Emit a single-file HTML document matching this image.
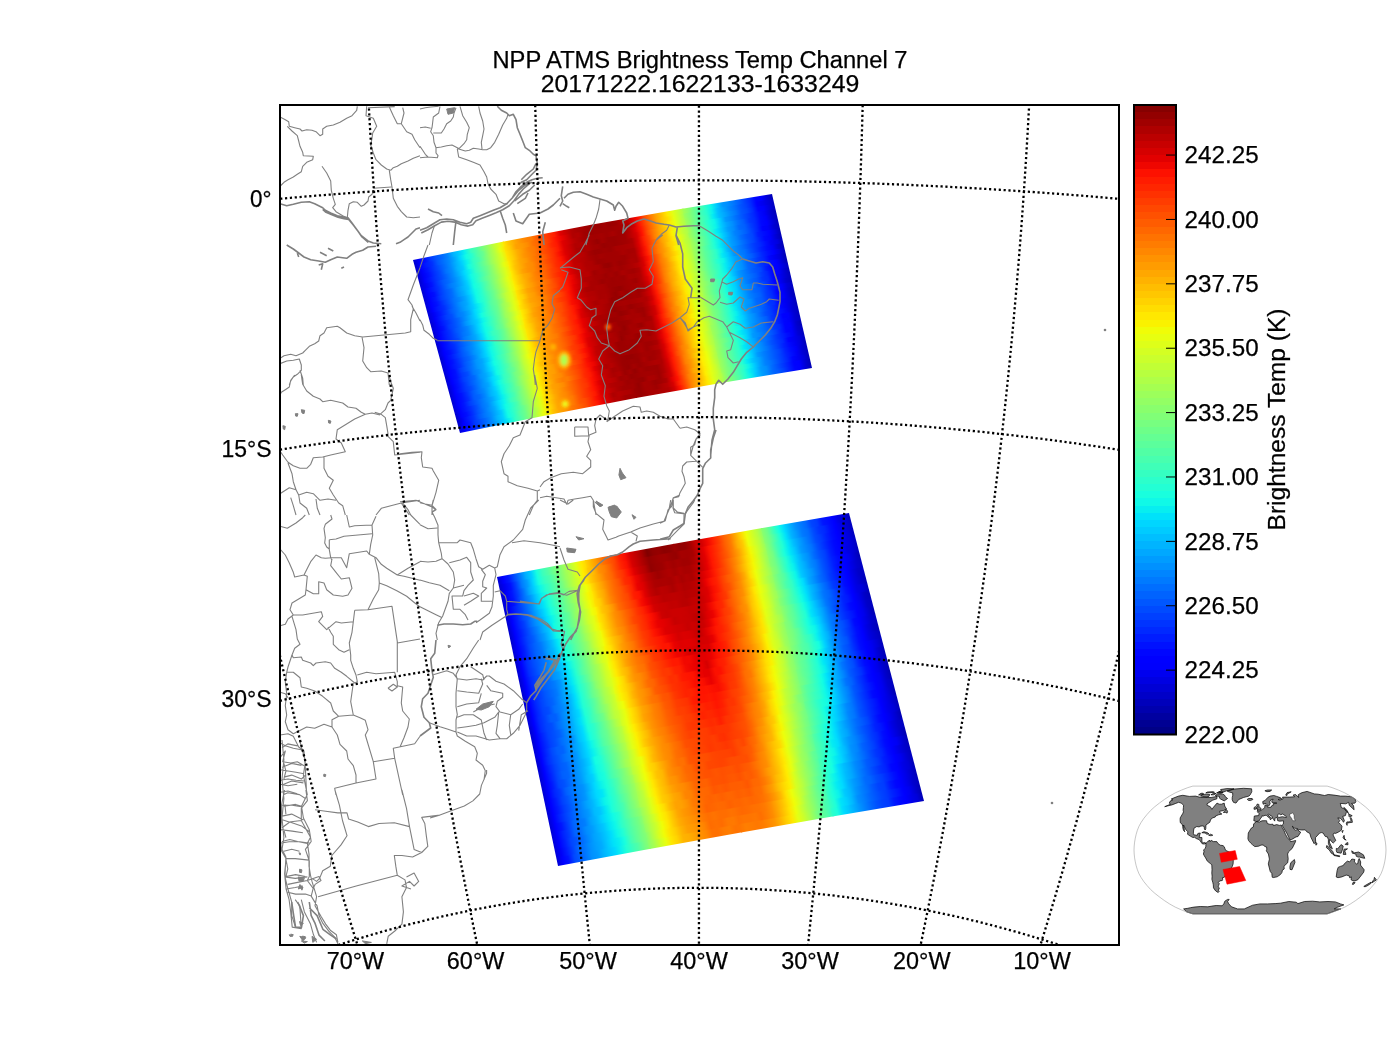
<!DOCTYPE html><html><head><meta charset="utf-8"><style>html,body{margin:0;padding:0;background:#fff;width:1400px;height:1050px;overflow:hidden;position:relative}svg{display:block;position:absolute;left:0;top:0}text{font-family:"Liberation Sans",sans-serif;fill:#000;stroke:#000;stroke-width:0.25px}</style></head><body>
<div style="position:absolute;left:0;top:0;width:160px;height:216px;transform-origin:0 0;transform:matrix3d(0.57036544,-0.11540287,0,3.8256606e-06,0.25928207,0.84016841,0,9.0629303e-05,0,0,1,0,413,260,0,1)"><div style="height:6px;background:linear-gradient(90deg,#0000cc 0.0%,#0000fc 6.2%,#0011ff 12.5%,#0037ff 18.8%,#0055ff 25.0%,#0069ff 31.2%,#0085ff 37.5%,#00b4ff 43.8%,#00ceff 50.0%,#0af2ed 56.2%,#34ffc2 62.5%,#4dffa9 68.8%,#72ff84 75.0%,#93ff64 81.2%,#bcff3b 87.5%,#dcff1b 93.8%,#ffe800 100.0%)"></div><div style="height:6px;background:linear-gradient(90deg,#0000c9 0.0%,#0000ff 6.2%,#001cff 12.5%,#002fff 18.8%,#0058ff 25.0%,#006fff 31.2%,#0088ff 37.5%,#00abff 43.8%,#00d7ff 50.0%,#13fce4 56.2%,#28ffcf 62.5%,#4fffa7 68.8%,#68ff8f 75.0%,#96ff60 81.2%,#b8ff3f 87.5%,#e6ff11 93.8%,#ffe200 100.0%)"></div><div style="height:6px;background:linear-gradient(90deg,#0000cc 0.0%,#0000fb 6.2%,#0015ff 12.5%,#0033ff 18.8%,#0051ff 25.0%,#006dff 31.2%,#008bff 37.5%,#00b0ff 43.8%,#00cfff 50.0%,#0cf4eb 56.2%,#31ffc5 62.5%,#48ffaf 68.8%,#6fff88 75.0%,#97ff60 81.2%,#b8ff3f 87.5%,#ddff1a 93.8%,#ffe500 100.0%)"></div><div style="height:6px;background:linear-gradient(90deg,#0000d1 0.0%,#0000f8 6.2%,#0011ff 12.5%,#0031ff 18.8%,#004cff 25.0%,#0072ff 31.2%,#008aff 37.5%,#00b4ff 43.8%,#00cbff 50.0%,#13fde4 56.2%,#30ffc6 62.5%,#53ffa3 68.8%,#73ff84 75.0%,#99ff5e 81.2%,#bbff3c 87.5%,#daff1d 93.8%,#ffe600 100.0%)"></div><div style="height:6px;background:linear-gradient(90deg,#0000ca 0.0%,#0000fd 6.2%,#0017ff 12.5%,#0034ff 18.8%,#004cff 25.0%,#006bff 31.2%,#008bff 37.5%,#00b0ff 43.8%,#00d7ff 50.0%,#0cf4eb 56.2%,#32ffc5 62.5%,#50ffa7 68.8%,#6dff8a 75.0%,#92ff65 81.2%,#baff3d 87.5%,#e3ff13 93.8%,#ffeb00 100.0%)"></div><div style="height:6px;background:linear-gradient(90deg,#0000d9 0.0%,#0000f4 6.2%,#0011ff 12.5%,#0037ff 18.8%,#0058ff 25.0%,#006cff 31.2%,#0088ff 37.5%,#00aaff 43.8%,#00d4ff 50.0%,#11fbe6 56.2%,#2cffca 62.5%,#4cffab 68.8%,#6dff8a 75.0%,#92ff65 81.2%,#b9ff3e 87.5%,#dbff1c 93.8%,#ffea00 100.0%)"></div><div style="height:6px;background:linear-gradient(90deg,#0000d0 0.0%,#0000ff 6.2%,#0019ff 12.5%,#0034ff 18.8%,#0057ff 25.0%,#0078ff 31.2%,#008dff 37.5%,#00aaff 43.8%,#00ceff 50.0%,#10fae6 56.2%,#30ffc7 62.5%,#54ffa3 68.8%,#73ff84 75.0%,#90ff67 81.2%,#b6ff41 87.5%,#ddff19 93.8%,#fdee00 100.0%)"></div><div style="height:6px;background:linear-gradient(90deg,#0000d4 0.0%,#0000fd 6.2%,#000eff 12.5%,#0038ff 18.8%,#0055ff 25.0%,#006bff 31.2%,#0094ff 37.5%,#00b1ff 43.8%,#00ccff 50.0%,#13fde3 56.2%,#29ffce 62.5%,#4cffab 68.8%,#71ff86 75.0%,#95ff62 81.2%,#bbff3c 87.5%,#e3ff14 93.8%,#ffea00 100.0%)"></div><div style="height:6px;background:linear-gradient(90deg,#0000d2 0.0%,#0000fd 6.2%,#0016ff 12.5%,#003dff 18.8%,#0056ff 25.0%,#006dff 31.2%,#0093ff 37.5%,#00aeff 43.8%,#00d4ff 50.0%,#11fae6 56.2%,#27ffd0 62.5%,#51ffa5 68.8%,#70ff87 75.0%,#93ff63 81.2%,#baff3c 87.5%,#e0ff17 93.8%,#fdee00 100.0%)"></div><div style="height:6px;background:linear-gradient(90deg,#0000d8 0.0%,#0000ff 6.2%,#0011ff 12.5%,#0034ff 18.8%,#0053ff 25.0%,#0072ff 31.2%,#0089ff 37.5%,#00a6ff 43.8%,#00ceff 50.0%,#11fbe5 56.2%,#29ffce 62.5%,#4dffa9 68.8%,#6aff8d 75.0%,#90ff67 81.2%,#b6ff41 87.5%,#dfff17 93.8%,#fdef00 100.0%)"></div><div style="height:6px;background:linear-gradient(90deg,#0000d6 0.0%,#0000ff 6.2%,#001bff 12.5%,#002eff 18.8%,#0050ff 25.0%,#0072ff 31.2%,#0095ff 37.5%,#00a8ff 43.8%,#00cfff 50.0%,#12fce5 56.2%,#29ffce 62.5%,#4cffaa 68.8%,#6cff8b 75.0%,#96ff61 81.2%,#c0ff37 87.5%,#dcff1a 93.8%,#ffe600 100.0%)"></div><div style="height:6px;background:linear-gradient(90deg,#0000d9 0.0%,#0000f6 6.2%,#0015ff 12.5%,#0034ff 18.8%,#0057ff 25.0%,#0072ff 31.2%,#0092ff 37.5%,#00afff 43.8%,#00cdff 50.0%,#09f1ed 56.2%,#28ffcf 62.5%,#52ffa5 68.8%,#69ff8e 75.0%,#8dff69 81.2%,#c0ff37 87.5%,#ddff1a 93.8%,#ffe400 100.0%)"></div><div style="height:6px;background:linear-gradient(90deg,#0000d6 0.0%,#0000fa 6.2%,#001cff 12.5%,#003dff 18.8%,#004fff 25.0%,#0077ff 31.2%,#0088ff 37.5%,#00a8ff 43.8%,#00d6ff 50.0%,#0bf3ec 56.2%,#2effc9 62.5%,#50ffa7 68.8%,#68ff8f 75.0%,#97ff60 81.2%,#b7ff40 87.5%,#e0ff17 93.8%,#ffec00 100.0%)"></div><div style="height:6px;background:linear-gradient(90deg,#0000cd 0.0%,#0000f7 6.2%,#0019ff 12.5%,#0034ff 18.8%,#004fff 25.0%,#0069ff 31.2%,#008cff 37.5%,#00b1ff 43.8%,#00d5ff 50.0%,#13fde4 56.2%,#32ffc5 62.5%,#4bffac 68.8%,#69ff8e 75.0%,#97ff60 81.2%,#beff39 87.5%,#e1ff16 93.8%,#ffe500 100.0%)"></div><div style="height:6px;background:linear-gradient(90deg,#0000d8 0.0%,#0000f6 6.2%,#0012ff 12.5%,#003bff 18.8%,#0050ff 25.0%,#006cff 31.2%,#0095ff 37.5%,#00b6ff 43.8%,#00cfff 50.0%,#0cf5eb 56.2%,#2bffcc 62.5%,#49ffae 68.8%,#6bff8c 75.0%,#9aff5d 81.2%,#b5ff42 87.5%,#ddff1a 93.8%,#fdee00 100.0%)"></div><div style="height:6px;background:linear-gradient(90deg,#0000cc 0.0%,#0000f9 6.2%,#001bff 12.5%,#0035ff 18.8%,#0056ff 25.0%,#006dff 31.2%,#0086ff 37.5%,#00acff 43.8%,#00d6ff 50.0%,#11fbe5 56.2%,#2fffc8 62.5%,#4dffa9 68.8%,#6fff88 75.0%,#93ff64 81.2%,#bbff3c 87.5%,#e5ff12 93.8%,#fdee00 100.0%)"></div><div style="height:6px;background:linear-gradient(90deg,#0000d1 0.0%,#0000ff 6.2%,#001cff 12.5%,#0036ff 18.8%,#0052ff 25.0%,#0072ff 31.2%,#0086ff 37.5%,#00adff 43.8%,#00d8ff 50.0%,#11fbe5 56.2%,#28ffcf 62.5%,#53ffa4 68.8%,#6cff8a 75.0%,#9aff5d 81.2%,#b8ff3e 87.5%,#ddff1a 93.8%,#ffe900 100.0%)"></div><div style="height:6px;background:linear-gradient(90deg,#0000cf 0.0%,#0000fe 6.2%,#0016ff 12.5%,#0035ff 18.8%,#004cff 25.0%,#0078ff 31.2%,#0090ff 37.5%,#00a8ff 43.8%,#00d1ff 50.0%,#11fbe6 56.2%,#34ffc3 62.5%,#48ffaf 68.8%,#68ff8f 75.0%,#93ff63 81.2%,#b9ff3e 87.5%,#e6ff11 93.8%,#ffe500 100.0%)"></div><div style="height:6px;background:linear-gradient(90deg,#0000ce 0.0%,#0000ff 6.2%,#0019ff 12.5%,#002eff 18.8%,#0051ff 25.0%,#006eff 31.2%,#0088ff 37.5%,#00aaff 43.8%,#00cfff 50.0%,#10fae7 56.2%,#2cffcb 62.5%,#49ffae 68.8%,#6aff8c 75.0%,#93ff64 81.2%,#bbff3c 87.5%,#ddff19 93.8%,#ffe700 100.0%)"></div><div style="height:6px;background:linear-gradient(90deg,#0000d7 0.0%,#0000ff 6.2%,#0010ff 12.5%,#002eff 18.8%,#0056ff 25.0%,#0074ff 31.2%,#008bff 37.5%,#00aeff 43.8%,#00d3ff 50.0%,#0af2ec 56.2%,#30ffc6 62.5%,#4fffa8 68.8%,#6dff8a 75.0%,#8eff68 81.2%,#bbff3c 87.5%,#deff18 93.8%,#ffe600 100.0%)"></div><div style="height:6px;background:linear-gradient(90deg,#0000ce 0.0%,#0000ff 6.2%,#0018ff 12.5%,#0036ff 18.8%,#0056ff 25.0%,#006fff 31.2%,#0092ff 37.5%,#00abff 43.8%,#00d3ff 50.0%,#0ff8e8 56.2%,#2cffca 62.5%,#48ffaf 68.8%,#6aff8d 75.0%,#95ff61 81.2%,#b6ff40 87.5%,#e4ff13 93.8%,#ffea00 100.0%)"></div><div style="height:6px;background:linear-gradient(90deg,#0000d0 0.0%,#0000ff 6.2%,#0011ff 12.5%,#0031ff 18.8%,#0052ff 25.0%,#0069ff 31.2%,#008aff 37.5%,#00b0ff 43.8%,#00d3ff 50.0%,#0ff8e8 56.2%,#2bffcc 62.5%,#48ffaf 68.8%,#68ff8f 75.0%,#91ff65 81.2%,#b6ff41 87.5%,#e2ff15 93.8%,#feed00 100.0%)"></div><div style="height:6px;background:linear-gradient(90deg,#0000d6 0.0%,#0000fc 6.2%,#0016ff 12.5%,#002fff 18.8%,#0056ff 25.0%,#0070ff 31.2%,#0095ff 37.5%,#00a6ff 43.8%,#00cbff 50.0%,#10f9e7 56.2%,#33ffc3 62.5%,#4dffaa 68.8%,#71ff86 75.0%,#94ff62 81.2%,#b9ff3e 87.5%,#e0ff17 93.8%,#ffe800 100.0%)"></div><div style="height:6px;background:linear-gradient(90deg,#0000d5 0.0%,#0000ff 6.2%,#000fff 12.5%,#003cff 18.8%,#0058ff 25.0%,#0074ff 31.2%,#0095ff 37.5%,#00a9ff 43.8%,#00d7ff 50.0%,#13fde4 56.2%,#29ffce 62.5%,#4fffa8 68.8%,#74ff83 75.0%,#91ff66 81.2%,#bfff38 87.5%,#e6ff11 93.8%,#ffeb00 100.0%)"></div><div style="height:6px;background:linear-gradient(90deg,#0000cb 0.0%,#0000ff 6.2%,#0011ff 12.5%,#0038ff 18.8%,#004cff 25.0%,#0077ff 31.2%,#008cff 37.5%,#00acff 43.8%,#00d5ff 50.0%,#0ff8e8 56.2%,#2affcc 62.5%,#49ffae 68.8%,#6fff88 75.0%,#8dff69 81.2%,#bfff38 87.5%,#dfff18 93.8%,#fdef00 100.0%)"></div><div style="height:6px;background:linear-gradient(90deg,#0000d6 0.0%,#0000ff 6.2%,#0016ff 12.5%,#003cff 18.8%,#0054ff 25.0%,#0069ff 31.2%,#0094ff 37.5%,#00a8ff 43.8%,#00ccff 50.0%,#12fce5 56.2%,#2bffcc 62.5%,#50ffa7 68.8%,#68ff8f 75.0%,#90ff67 81.2%,#bdff3a 87.5%,#dbff1c 93.8%,#ffea00 100.0%)"></div><div style="height:6px;background:linear-gradient(90deg,#0000d3 0.0%,#0000fb 6.2%,#0016ff 12.5%,#0037ff 18.8%,#0055ff 25.0%,#0070ff 31.2%,#008eff 37.5%,#00aeff 43.8%,#00d8ff 50.0%,#0af1ed 56.2%,#32ffc5 62.5%,#4bffac 68.8%,#73ff84 75.0%,#8eff69 81.2%,#baff3d 87.5%,#e0ff17 93.8%,#ffe700 100.0%)"></div><div style="height:6px;background:linear-gradient(90deg,#0000cc 0.0%,#0000ff 6.2%,#0019ff 12.5%,#0037ff 18.8%,#004dff 25.0%,#006fff 31.2%,#0091ff 37.5%,#00a7ff 43.8%,#00d9ff 50.0%,#12fce5 56.2%,#33ffc3 62.5%,#51ffa6 68.8%,#70ff87 75.0%,#9aff5d 81.2%,#b7ff40 87.5%,#deff19 93.8%,#fcef00 100.0%)"></div><div style="height:6px;background:linear-gradient(90deg,#0000d2 0.0%,#0000ff 6.2%,#0011ff 12.5%,#0032ff 18.8%,#0059ff 25.0%,#0073ff 31.2%,#008bff 37.5%,#00b0ff 43.8%,#00d1ff 50.0%,#10f9e7 56.2%,#2effc9 62.5%,#4bffac 68.8%,#74ff82 75.0%,#99ff5e 81.2%,#beff39 87.5%,#deff19 93.8%,#fdee00 100.0%)"></div><div style="height:6px;background:linear-gradient(90deg,#0000ce 0.0%,#0000ff 6.2%,#0012ff 12.5%,#002fff 18.8%,#005bff 25.0%,#0069ff 31.2%,#0089ff 37.5%,#00b3ff 43.8%,#00ccff 50.0%,#0ef7e9 56.2%,#32ffc4 62.5%,#4fffa8 68.8%,#6cff8b 75.0%,#97ff60 81.2%,#beff38 87.5%,#e2ff15 93.8%,#ffe800 100.0%)"></div><div style="height:6px;background:linear-gradient(90deg,#0000d7 0.0%,#0000ff 6.2%,#0015ff 12.5%,#003cff 18.8%,#0056ff 25.0%,#0071ff 31.2%,#008cff 37.5%,#00a7ff 43.8%,#00ccff 50.0%,#0af2ec 56.2%,#2dffca 62.5%,#49ffae 68.8%,#74ff83 75.0%,#95ff62 81.2%,#bdff3a 87.5%,#e6ff11 93.8%,#fdee00 100.0%)"></div><div style="height:6px;background:linear-gradient(90deg,#0000d2 0.0%,#0000fd 6.2%,#0016ff 12.5%,#0030ff 18.8%,#004fff 25.0%,#0073ff 31.2%,#0089ff 37.5%,#00b1ff 43.8%,#00daff 50.0%,#0cf5eb 56.2%,#34ffc3 62.5%,#4fffa7 68.8%,#74ff83 75.0%,#94ff63 81.2%,#bdff39 87.5%,#e3ff14 93.8%,#fdee00 100.0%)"></div><div style="height:6px;background:linear-gradient(90deg,#0000c9 0.0%,#0000fd 6.2%,#000fff 12.5%,#002eff 18.8%,#0053ff 25.0%,#0070ff 31.2%,#008fff 37.5%,#00acff 43.8%,#00d9ff 50.0%,#11fbe5 56.2%,#29ffce 62.5%,#47ffaf 68.8%,#74ff83 75.0%,#92ff64 81.2%,#b5ff42 87.5%,#dcff1a 93.8%,#ffe700 100.0%)"></div><div style="height:6px;background:linear-gradient(90deg,#0000cc 0.0%,#0000f6 6.2%,#0019ff 12.5%,#0033ff 18.8%,#0059ff 25.0%,#0075ff 31.2%,#008bff 37.5%,#00acff 43.8%,#00ccff 50.0%,#13fce4 56.2%,#2dffca 62.5%,#4cffab 68.8%,#6aff8d 75.0%,#90ff67 81.2%,#bfff38 87.5%,#dcff1b 93.8%,#ffe900 100.0%)"></div><div style="height:6px;background:linear-gradient(90deg,#0000c9 0.0%,#0000ff 6.2%,#0014ff 12.5%,#0039ff 18.8%,#0050ff 25.0%,#006aff 31.2%,#008bff 37.5%,#00b4ff 43.8%,#00cfff 50.0%,#13fde4 56.2%,#2bffcc 62.5%,#53ffa4 68.8%,#6aff8d 75.0%,#93ff64 81.2%,#b5ff42 87.5%,#dcff1b 93.8%,#ffe900 100.0%)"></div><div style="height:6px;background:linear-gradient(90deg,#0000d9 0.0%,#0000ff 6.2%,#0018ff 12.5%,#0031ff 18.8%,#0050ff 25.0%,#0070ff 31.2%,#0089ff 37.5%,#00acff 43.8%,#00ceff 50.0%,#0af2ed 56.2%,#31ffc6 62.5%,#4fffa8 68.8%,#6dff89 75.0%,#93ff64 81.2%,#bcff3b 87.5%,#e3ff14 93.8%,#fbf100 100.0%)"></div></div><div style="position:absolute;left:0;top:0;width:160px;height:216px;transform-origin:0 0;transform:matrix3d(0.57020384,-0.10774212,0,2.975143e-06,0.25935439,0.83983367,0,9.0992067e-05,0,0,1,0,502.75,241.625,0,1)"><div style="height:6px;background:linear-gradient(90deg,#ffe800 0.0%,#ffc300 6.2%,#ffa800 12.5%,#ff9300 18.8%,#ff8300 25.0%,#ff7a00 31.2%,#ff5900 37.5%,#ff4400 43.8%,#ff3000 50.0%,#ff1d00 56.2%,#df0000 62.5%,#c90000 68.8%,#b20000 75.0%,#a90000 81.2%,#a50000 87.5%,#9b0000 93.8%,#9e0000 100.0%)"></div><div style="height:6px;background:linear-gradient(90deg,#ffe200 0.0%,#ffc800 6.2%,#ffa100 12.5%,#ff9a00 18.8%,#ff8c00 25.0%,#ff7200 31.2%,#ff6400 37.5%,#ff4a00 43.8%,#ff2f00 50.0%,#ff1400 56.2%,#ec0300 62.5%,#d10000 68.8%,#b00000 75.0%,#b30000 81.2%,#a10000 87.5%,#9c0000 93.8%,#9f0000 100.0%)"></div><div style="height:6px;background:linear-gradient(90deg,#ffe500 0.0%,#ffcc00 6.2%,#ffad00 12.5%,#ff9800 18.8%,#ff8200 25.0%,#ff7900 31.2%,#ff5f00 37.5%,#ff4700 43.8%,#ff2800 50.0%,#ff1700 56.2%,#df0000 62.5%,#cf0000 68.8%,#b90000 75.0%,#ad0000 81.2%,#a20000 87.5%,#a40000 93.8%,#a20000 100.0%)"></div><div style="height:6px;background:linear-gradient(90deg,#ffe600 0.0%,#ffce00 6.2%,#ffac00 12.5%,#ff9400 18.8%,#ff8500 25.0%,#ff7500 31.2%,#ff5600 37.5%,#ff4300 43.8%,#ff3000 50.0%,#ff1900 56.2%,#df0000 62.5%,#c90000 68.8%,#b10000 75.0%,#b30000 81.2%,#af0000 87.5%,#a20000 93.8%,#970000 100.0%)"></div><div style="height:6px;background:linear-gradient(90deg,#ffeb00 0.0%,#ffc600 6.2%,#ffa900 12.5%,#ff9b00 18.8%,#ff8500 25.0%,#ff7100 31.2%,#ff6300 37.5%,#ff4600 43.8%,#ff2e00 50.0%,#fb1000 56.2%,#dd0000 62.5%,#cb0000 68.8%,#af0000 75.0%,#aa0000 81.2%,#ae0000 87.5%,#a40000 93.8%,#a30000 100.0%)"></div><div style="height:6px;background:linear-gradient(90deg,#ffea00 0.0%,#ffc100 6.2%,#ffaa00 12.5%,#ff9300 18.8%,#ff8a00 25.0%,#ff7100 31.2%,#ff5900 37.5%,#ff4200 43.8%,#ff2d00 50.0%,#ff1600 56.2%,#e30000 62.5%,#c10000 68.8%,#bd0000 75.0%,#b70000 81.2%,#a50000 87.5%,#9b0000 93.8%,#9c0000 100.0%)"></div><div style="height:6px;background:linear-gradient(90deg,#fdee00 0.0%,#ffc500 6.2%,#ffa300 12.5%,#ff9100 18.8%,#ff8900 25.0%,#ff6e00 31.2%,#ff5f00 37.5%,#ff4600 43.8%,#ff2a00 50.0%,#ff1c00 56.2%,#ed0400 62.5%,#c20000 68.8%,#ba0000 75.0%,#b30000 81.2%,#a80000 87.5%,#a00000 93.8%,#a60000 100.0%)"></div><div style="height:6px;background:linear-gradient(90deg,#ffea00 0.0%,#ffcb00 6.2%,#ffad00 12.5%,#ff9d00 18.8%,#ff8200 25.0%,#ff7000 31.2%,#ff5c00 37.5%,#ff4100 43.8%,#ff2f00 50.0%,#ff1900 56.2%,#e80000 62.5%,#c20000 68.8%,#bf0000 75.0%,#b00000 81.2%,#ae0000 87.5%,#9e0000 93.8%,#9f0000 100.0%)"></div><div style="height:6px;background:linear-gradient(90deg,#fdee00 0.0%,#ffc800 6.2%,#ffb000 12.5%,#ff9700 18.8%,#ff8300 25.0%,#ff7400 31.2%,#ff5c00 37.5%,#ff3e00 43.8%,#ff2700 50.0%,#ff1b00 56.2%,#e00000 62.5%,#c60000 68.8%,#bf0000 75.0%,#b20000 81.2%,#ae0000 87.5%,#ab0000 93.8%,#9c0000 100.0%)"></div><div style="height:6px;background:linear-gradient(90deg,#fdef00 0.0%,#ffd000 6.2%,#ffae00 12.5%,#ff9c00 18.8%,#ff8500 25.0%,#ff7a00 31.2%,#ff6400 37.5%,#ff4600 43.8%,#ff2f00 50.0%,#ff1300 56.2%,#ee0500 62.5%,#ca0000 68.8%,#b80000 75.0%,#b90000 81.2%,#a10000 87.5%,#a80000 93.8%,#a40000 100.0%)"></div><div style="height:6px;background:linear-gradient(90deg,#ffe600 0.0%,#ffc500 6.2%,#ffa400 12.5%,#ff9600 18.8%,#ff7f00 25.0%,#ff7600 31.2%,#ff5e00 37.5%,#ff4900 43.8%,#ff2900 50.0%,#ff1600 56.2%,#ea0200 62.5%,#cf0000 68.8%,#b20000 75.0%,#ae0000 81.2%,#a60000 87.5%,#a50000 93.8%,#9d0000 100.0%)"></div><div style="height:6px;background:linear-gradient(90deg,#ffe400 0.0%,#ffcf00 6.2%,#ffa900 12.5%,#ff9b00 18.8%,#ff8000 25.0%,#ff7200 31.2%,#ff5a00 37.5%,#ff4100 43.8%,#ff2800 50.0%,#ff1800 56.2%,#e40000 62.5%,#ca0000 68.8%,#be0000 75.0%,#aa0000 81.2%,#a80000 87.5%,#9d0000 93.8%,#a20000 100.0%)"></div><div style="height:6px;background:linear-gradient(90deg,#ffec00 0.0%,#ffc500 6.2%,#ffa500 12.5%,#ff9a00 18.8%,#ff8b00 25.0%,#ff7600 31.2%,#ff5e00 37.5%,#ff4b00 43.8%,#ff3300 50.0%,#fe1200 56.2%,#e20000 62.5%,#c00000 68.8%,#ad0000 75.0%,#a90000 81.2%,#ac0000 87.5%,#a90000 93.8%,#a00000 100.0%)"></div><div style="height:6px;background:linear-gradient(90deg,#ffe500 0.0%,#ffc800 6.2%,#ffac00 12.5%,#ff9c00 18.8%,#ff8c00 25.0%,#ff7100 31.2%,#ff5700 37.5%,#ff3f00 43.8%,#ff2e00 50.0%,#ff1300 56.2%,#de0000 62.5%,#c30000 68.8%,#b40000 75.0%,#b10000 81.2%,#a90000 87.5%,#a90000 93.8%,#a20000 100.0%)"></div><div style="height:6px;background:linear-gradient(90deg,#fdee00 0.0%,#ffcf00 6.2%,#ffa800 12.5%,#ff9300 18.8%,#ff8000 25.0%,#ff7100 31.2%,#ff5800 37.5%,#ff4c00 43.8%,#ff3100 50.0%,#fa0f00 56.2%,#ed0500 62.5%,#cd0000 68.8%,#b70000 75.0%,#b40000 81.2%,#a90000 87.5%,#ab0000 93.8%,#a10000 100.0%)"></div><div style="height:6px;background:linear-gradient(90deg,#fdee00 0.0%,#ffc700 6.2%,#ffa200 12.5%,#ff9200 18.8%,#ff8a00 25.0%,#ff6c00 31.2%,#ff5700 37.5%,#ff4a00 43.8%,#ff3100 50.0%,#ff1a00 56.2%,#ee0500 62.5%,#c00000 68.8%,#b80000 75.0%,#a90000 81.2%,#b10000 87.5%,#ac0000 93.8%,#960000 100.0%)"></div><div style="height:6px;background:linear-gradient(90deg,#ffe900 0.0%,#ffc300 6.2%,#ffaa00 12.5%,#ff9100 18.8%,#ff8200 25.0%,#ff7600 31.2%,#ff6000 37.5%,#ff4500 43.8%,#ff2f00 50.0%,#ff1800 56.2%,#e30000 62.5%,#c20000 68.8%,#b50000 75.0%,#b60000 81.2%,#af0000 87.5%,#a50000 93.8%,#9a0000 100.0%)"></div><div style="height:6px;background:linear-gradient(90deg,#ffe500 0.0%,#ffcb00 6.2%,#ffaa00 12.5%,#ff9600 18.8%,#ff7f00 25.0%,#ff7800 31.2%,#ff5e00 37.5%,#ff4b00 43.8%,#ff2b00 50.0%,#ff1d00 56.2%,#dd0000 62.5%,#c80000 68.8%,#b50000 75.0%,#b80000 81.2%,#ae0000 87.5%,#a40000 93.8%,#960000 100.0%)"></div><div style="height:6px;background:linear-gradient(90deg,#ffe700 0.0%,#ffcd00 6.2%,#ffa600 12.5%,#ff9500 18.8%,#ff8a00 25.0%,#ff7000 31.2%,#ff5e00 37.5%,#ff4400 43.8%,#ff2c00 50.0%,#ff1400 56.2%,#e70000 62.5%,#d10000 68.8%,#b10000 75.0%,#a90000 81.2%,#aa0000 87.5%,#a10000 93.8%,#a10000 100.0%)"></div><div style="height:6px;background:linear-gradient(90deg,#ffe600 0.0%,#ffcd00 6.2%,#ffaa00 12.5%,#ff9b00 18.8%,#ff8700 25.0%,#ff7200 31.2%,#ff6200 37.5%,#ff4c00 43.8%,#ff2e00 50.0%,#ff1a00 56.2%,#e50000 62.5%,#cf0000 68.8%,#be0000 75.0%,#af0000 81.2%,#a20000 87.5%,#9c0000 93.8%,#9c0000 100.0%)"></div><div style="height:6px;background:linear-gradient(90deg,#ffea00 0.0%,#ffc200 6.2%,#ffa300 12.5%,#ff9300 18.8%,#ff8700 25.0%,#ff7a00 31.2%,#ff5c00 37.5%,#ff4100 43.8%,#ff2700 50.0%,#ff1a00 56.2%,#ec0300 62.5%,#c00000 68.8%,#b20000 75.0%,#b00000 81.2%,#a50000 87.5%,#a90000 93.8%,#9c0000 100.0%)"></div><div style="height:6px;background:linear-gradient(90deg,#feed00 0.0%,#ffc500 6.2%,#ffa700 12.5%,#ff9400 18.8%,#ff8200 25.0%,#ff7300 31.2%,#ff5e00 37.5%,#ff4800 43.8%,#ff3400 50.0%,#fd1100 56.2%,#e50000 62.5%,#d00000 68.8%,#ae0000 75.0%,#ae0000 81.2%,#a70000 87.5%,#a40000 93.8%,#a30000 100.0%)"></div><div style="height:6px;background:linear-gradient(90deg,#ffe800 0.0%,#ffd000 6.2%,#ffac00 12.5%,#ff9300 18.8%,#ff8900 25.0%,#ff7400 31.2%,#ff6000 37.5%,#ff4700 43.8%,#ff2b00 50.0%,#fe1200 56.2%,#dd0000 62.5%,#c90000 68.8%,#bc0000 75.0%,#b30000 81.2%,#b20000 87.5%,#a80000 93.8%,#9b0000 100.0%)"></div><div style="height:6px;background:linear-gradient(90deg,#ffeb00 0.0%,#ffce00 6.2%,#ffad00 12.5%,#ff9200 18.8%,#ff8600 25.0%,#ff7600 31.2%,#ff5d00 37.5%,#ff3e00 43.8%,#ff3100 50.0%,#ff1d00 56.2%,#dd0000 62.5%,#cc0000 68.8%,#b80000 75.0%,#a70000 81.2%,#ad0000 87.5%,#ab0000 93.8%,#950000 100.0%)"></div><div style="height:6px;background:linear-gradient(90deg,#fdef00 0.0%,#ffcb00 6.2%,#ffae00 12.5%,#ff9a00 18.8%,#ff8500 25.0%,#ff7500 31.2%,#ff5f00 37.5%,#ff4800 43.8%,#ff2e00 50.0%,#fd1200 56.2%,#e70000 62.5%,#c40000 68.8%,#b70000 75.0%,#b70000 81.2%,#b00000 87.5%,#9c0000 93.8%,#9d0000 100.0%)"></div><div style="height:6px;background:linear-gradient(90deg,#ffea00 0.0%,#ffc200 6.2%,#ffad00 12.5%,#ff9400 18.8%,#ff8100 25.0%,#ff7200 31.2%,#ff5900 37.5%,#ff4200 43.8%,#ff3500 50.0%,#ff1a00 56.2%,#e50000 62.5%,#c00000 68.8%,#bc0000 75.0%,#ae0000 81.2%,#b00000 87.5%,#9d0000 93.8%,#9d0000 100.0%)"></div><div style="height:6px;background:linear-gradient(90deg,#ffe700 0.0%,#ffcd00 6.2%,#ffac00 12.5%,#ff9c00 18.8%,#ff8400 25.0%,#ff7200 31.2%,#ff6400 37.5%,#ff4a00 43.8%,#ff3200 50.0%,#fa0f00 56.2%,#e60000 62.5%,#c70000 68.8%,#ba0000 75.0%,#ad0000 81.2%,#a40000 87.5%,#a00000 93.8%,#a60000 100.0%)"></div><div style="height:6px;background:linear-gradient(90deg,#fcef00 0.0%,#ffcd00 6.2%,#ffa400 12.5%,#ff9d00 18.8%,#ff8100 25.0%,#ff7500 31.2%,#ff5700 37.5%,#ff4100 43.8%,#ff2b00 50.0%,#fc1100 56.2%,#ee0500 62.5%,#cd0000 68.8%,#b90000 75.0%,#b10000 81.2%,#a60000 87.5%,#9c0000 93.8%,#980000 100.0%)"></div><div style="height:6px;background:linear-gradient(90deg,#fdee00 0.0%,#ffc500 6.2%,#ffa400 12.5%,#ff9500 18.8%,#ff8900 25.0%,#ff7000 31.2%,#ff5c00 37.5%,#ff4700 43.8%,#ff2c00 50.0%,#ff1600 56.2%,#e30000 62.5%,#c40000 68.8%,#ad0000 75.0%,#b70000 81.2%,#a80000 87.5%,#9b0000 93.8%,#9a0000 100.0%)"></div><div style="height:6px;background:linear-gradient(90deg,#ffe800 0.0%,#ffcb00 6.2%,#ffaa00 12.5%,#ff8f00 18.8%,#ff7e00 25.0%,#ff7b00 31.2%,#ff6100 37.5%,#ff4900 43.8%,#ff2900 50.0%,#ff1a00 56.2%,#ec0300 62.5%,#c40000 68.8%,#bc0000 75.0%,#a70000 81.2%,#aa0000 87.5%,#9c0000 93.8%,#970000 100.0%)"></div><div style="height:6px;background:linear-gradient(90deg,#fdee00 0.0%,#ffc300 6.2%,#ffa200 12.5%,#ff9a00 18.8%,#ff8b00 25.0%,#ff6f00 31.2%,#ff5700 37.5%,#ff4000 43.8%,#ff2f00 50.0%,#ff1400 56.2%,#ed0400 62.5%,#cd0000 68.8%,#b80000 75.0%,#ab0000 81.2%,#b10000 87.5%,#9b0000 93.8%,#a50000 100.0%)"></div><div style="height:6px;background:linear-gradient(90deg,#fdee00 0.0%,#ffc800 6.2%,#ffa700 12.5%,#ff9700 18.8%,#ff8300 25.0%,#ff6d00 31.2%,#ff5800 37.5%,#ff4000 43.8%,#ff3300 50.0%,#ff1300 56.2%,#e30000 62.5%,#c00000 68.8%,#c00000 75.0%,#b60000 81.2%,#a10000 87.5%,#a50000 93.8%,#990000 100.0%)"></div><div style="height:6px;background:linear-gradient(90deg,#ffe700 0.0%,#ffcd00 6.2%,#ffab00 12.5%,#ff9400 18.8%,#ff8700 25.0%,#ff7100 31.2%,#ff5600 37.5%,#ff4100 43.8%,#ff2b00 50.0%,#ff1400 56.2%,#e90100 62.5%,#c60000 68.8%,#b40000 75.0%,#ae0000 81.2%,#aa0000 87.5%,#9e0000 93.8%,#a20000 100.0%)"></div><div style="height:6px;background:linear-gradient(90deg,#ffe900 0.0%,#ffc700 6.2%,#ffa800 12.5%,#ff9700 18.8%,#ff8700 25.0%,#ff7800 31.2%,#ff5800 37.5%,#ff3f00 43.8%,#ff2c00 50.0%,#ff1900 56.2%,#de0000 62.5%,#ce0000 68.8%,#bc0000 75.0%,#ae0000 81.2%,#a30000 87.5%,#a20000 93.8%,#a40000 100.0%)"></div><div style="height:6px;background:linear-gradient(90deg,#ffe900 0.0%,#ffcb00 6.2%,#ffa800 12.5%,#ff9b00 18.8%,#ff8800 25.0%,#ff7600 31.2%,#ff5700 37.5%,#ff4b00 43.8%,#ff2f00 50.0%,#fc1000 56.2%,#e40000 62.5%,#cd0000 68.8%,#ad0000 75.0%,#b70000 81.2%,#b00000 87.5%,#ac0000 93.8%,#9e0000 100.0%)"></div><div style="height:6px;background:linear-gradient(90deg,#fbf100 0.0%,#ffc300 6.2%,#ffa900 12.5%,#ff9900 18.8%,#ff7e00 25.0%,#ff7000 31.2%,#ff5f00 37.5%,#ff4c00 43.8%,#ff2e00 50.0%,#ff1700 56.2%,#e80000 62.5%,#d00000 68.8%,#b50000 75.0%,#b40000 81.2%,#a50000 87.5%,#a20000 93.8%,#a00000 100.0%)"></div></div><div style="position:absolute;left:0;top:0;width:160px;height:216px;transform-origin:0 0;transform:matrix3d(0.56988451,-0.10005115,0,2.117208e-06,0.25947647,0.83959115,0,9.1332674e-05,0,0,1,0,592.5,224.5,0,1)"><div style="height:6px;background:linear-gradient(90deg,#9e0000 0.0%,#990000 6.2%,#a20000 12.5%,#9a0000 18.8%,#9e0000 25.0%,#ae0000 31.2%,#b80000 37.5%,#de0000 43.8%,#fe1200 50.0%,#ff4a00 56.2%,#ff7700 62.5%,#ffa200 68.8%,#ffc200 75.0%,#ffe800 81.2%,#e3ff14 87.5%,#c6ff31 93.8%,#a6ff51 100.0%)"></div><div style="height:6px;background:linear-gradient(90deg,#9f0000 0.0%,#9f0000 6.2%,#a00000 12.5%,#a00000 18.8%,#a30000 25.0%,#a50000 31.2%,#af0000 37.5%,#d10000 43.8%,#ff1900 50.0%,#ff4a00 56.2%,#ff7500 62.5%,#ffa300 68.8%,#ffc600 75.0%,#ffdf00 81.2%,#e5ff12 87.5%,#c5ff31 93.8%,#9eff59 100.0%)"></div><div style="height:6px;background:linear-gradient(90deg,#a20000 0.0%,#a60000 6.2%,#a00000 12.5%,#a80000 18.8%,#9f0000 25.0%,#a00000 31.2%,#b70000 37.5%,#dd0000 43.8%,#ff1400 50.0%,#ff4700 56.2%,#ff7400 62.5%,#ffa100 68.8%,#ffc800 75.0%,#ffe900 81.2%,#e9ff0e 87.5%,#c2ff35 93.8%,#a2ff54 100.0%)"></div><div style="height:6px;background:linear-gradient(90deg,#970000 0.0%,#a50000 6.2%,#9b0000 12.5%,#9b0000 18.8%,#9f0000 25.0%,#a10000 31.2%,#bb0000 37.5%,#d60000 43.8%,#ff1300 50.0%,#ff5000 56.2%,#ff7c00 62.5%,#ffa300 68.8%,#ffc200 75.0%,#ffe700 81.2%,#e4ff12 87.5%,#c8ff2e 93.8%,#9eff59 100.0%)"></div><div style="height:6px;background:linear-gradient(90deg,#a30000 0.0%,#990000 6.2%,#9d0000 12.5%,#9b0000 18.8%,#9f0000 25.0%,#a30000 31.2%,#ad0000 37.5%,#d80000 43.8%,#ff1f00 50.0%,#ff4700 56.2%,#ff8000 62.5%,#ffa500 68.8%,#ffbe00 75.0%,#feed00 81.2%,#dfff17 87.5%,#bfff37 93.8%,#aaff4d 100.0%)"></div><div style="height:6px;background:linear-gradient(90deg,#9c0000 0.0%,#a00000 6.2%,#9c0000 12.5%,#a80000 18.8%,#a90000 25.0%,#ac0000 31.2%,#b00000 37.5%,#dc0000 43.8%,#ff1d00 50.0%,#ff4600 56.2%,#ff7200 62.5%,#ffa200 68.8%,#ffbf00 75.0%,#ffe700 81.2%,#e9ff0d 87.5%,#c6ff31 93.8%,#a1ff55 100.0%)"></div><div style="height:6px;background:linear-gradient(90deg,#a60000 0.0%,#a20000 6.2%,#a20000 12.5%,#a30000 18.8%,#aa0000 25.0%,#a50000 31.2%,#a90000 37.5%,#db0000 43.8%,#ff1800 50.0%,#ff4f00 56.2%,#ff7c00 62.5%,#ff9d00 68.8%,#ffc800 75.0%,#ffe000 81.2%,#eaff0d 87.5%,#bfff37 93.8%,#aaff4c 100.0%)"></div><div style="height:6px;background:linear-gradient(90deg,#9f0000 0.0%,#a20000 6.2%,#a20000 12.5%,#a20000 18.8%,#9f0000 25.0%,#a90000 31.2%,#ab0000 37.5%,#e00000 43.8%,#ff1c00 50.0%,#ff4f00 56.2%,#ff7f00 62.5%,#ff9b00 68.8%,#ffbf00 75.0%,#ffeb00 81.2%,#e1ff16 87.5%,#c4ff33 93.8%,#a8ff4f 100.0%)"></div><div style="height:6px;background:linear-gradient(90deg,#9c0000 0.0%,#970000 6.2%,#a40000 12.5%,#9c0000 18.8%,#a10000 25.0%,#ad0000 31.2%,#ab0000 37.5%,#d70000 43.8%,#fe1200 50.0%,#ff4500 56.2%,#ff7500 62.5%,#ffa200 68.8%,#ffbe00 75.0%,#ffdf00 81.2%,#eaff0d 87.5%,#c4ff33 93.8%,#a8ff4f 100.0%)"></div><div style="height:6px;background:linear-gradient(90deg,#a40000 0.0%,#9f0000 6.2%,#a70000 12.5%,#a00000 18.8%,#a70000 25.0%,#ae0000 31.2%,#ba0000 37.5%,#d50000 43.8%,#ff1c00 50.0%,#ff4400 56.2%,#ff7900 62.5%,#ff9900 68.8%,#ffc600 75.0%,#ffea00 81.2%,#e2ff15 87.5%,#c9ff2e 93.8%,#a6ff51 100.0%)"></div><div style="height:6px;background:linear-gradient(90deg,#9d0000 0.0%,#a50000 6.2%,#9d0000 12.5%,#ab0000 18.8%,#a50000 25.0%,#a20000 31.2%,#ae0000 37.5%,#e00000 43.8%,#ff1d00 50.0%,#ff4400 56.2%,#ff7700 62.5%,#ff9900 68.8%,#ffbd00 75.0%,#ffe700 81.2%,#eaff0d 87.5%,#c8ff2f 93.8%,#a2ff54 100.0%)"></div><div style="height:6px;background:linear-gradient(90deg,#a20000 0.0%,#9e0000 6.2%,#a10000 12.5%,#9e0000 18.8%,#ac0000 25.0%,#a90000 31.2%,#b20000 37.5%,#e10000 43.8%,#ff1800 50.0%,#ff4500 56.2%,#ff7a00 62.5%,#ff9d00 68.8%,#ffc100 75.0%,#ffea00 81.2%,#e3ff14 87.5%,#cbff2c 93.8%,#a2ff54 100.0%)"></div><div style="height:6px;background:linear-gradient(90deg,#a00000 0.0%,#9f0000 6.2%,#a00000 12.5%,#a20000 18.8%,#a70000 25.0%,#a00000 31.2%,#b50000 37.5%,#d90000 43.8%,#ff1300 50.0%,#ff4400 56.2%,#ff7c00 62.5%,#ffa300 68.8%,#ffbe00 75.0%,#feed00 81.2%,#e0ff17 87.5%,#c5ff32 93.8%,#a5ff52 100.0%)"></div><div style="height:6px;background:linear-gradient(90deg,#a20000 0.0%,#9b0000 6.2%,#970000 12.5%,#a20000 18.8%,#a60000 25.0%,#a90000 31.2%,#b20000 37.5%,#d30000 43.8%,#ff1a00 50.0%,#ff4200 56.2%,#ff7e00 62.5%,#ffa200 68.8%,#ffc200 75.0%,#ffe700 81.2%,#e9ff0d 87.5%,#c9ff2e 93.8%,#aaff4d 100.0%)"></div><div style="height:6px;background:linear-gradient(90deg,#a10000 0.0%,#960000 6.2%,#a70000 12.5%,#9b0000 18.8%,#aa0000 25.0%,#9d0000 31.2%,#ae0000 37.5%,#d60000 43.8%,#ff1e00 50.0%,#ff4f00 56.2%,#ff7500 62.5%,#ffa400 68.8%,#ffc700 75.0%,#ffe100 81.2%,#eaff0d 87.5%,#bfff38 93.8%,#abff4c 100.0%)"></div><div style="height:6px;background:linear-gradient(90deg,#960000 0.0%,#990000 6.2%,#970000 12.5%,#9f0000 18.8%,#a40000 25.0%,#a20000 31.2%,#b90000 37.5%,#d80000 43.8%,#ff1a00 50.0%,#ff4e00 56.2%,#ff7700 62.5%,#ffa200 68.8%,#ffc200 75.0%,#ffe800 81.2%,#e2ff14 87.5%,#c3ff34 93.8%,#a6ff51 100.0%)"></div><div style="height:6px;background:linear-gradient(90deg,#9a0000 0.0%,#a50000 6.2%,#a80000 12.5%,#a60000 18.8%,#a90000 25.0%,#af0000 31.2%,#b10000 37.5%,#d10000 43.8%,#ff1800 50.0%,#ff4500 56.2%,#ff7400 62.5%,#ff9a00 68.8%,#ffbc00 75.0%,#ffe700 81.2%,#e7ff10 87.5%,#c0ff37 93.8%,#aaff4d 100.0%)"></div><div style="height:6px;background:linear-gradient(90deg,#960000 0.0%,#9e0000 6.2%,#a40000 12.5%,#9a0000 18.8%,#a20000 25.0%,#a60000 31.2%,#b70000 37.5%,#dc0000 43.8%,#ff1300 50.0%,#ff4e00 56.2%,#ff7800 62.5%,#ff9d00 68.8%,#ffc500 75.0%,#ffe200 81.2%,#eaff0d 87.5%,#c9ff2d 93.8%,#a8ff4f 100.0%)"></div><div style="height:6px;background:linear-gradient(90deg,#a10000 0.0%,#970000 6.2%,#9d0000 12.5%,#a80000 18.8%,#9f0000 25.0%,#9e0000 31.2%,#b40000 37.5%,#d00000 43.8%,#ff1900 50.0%,#ff4e00 56.2%,#ff7500 62.5%,#ffa200 68.8%,#ffbf00 75.0%,#ffe500 81.2%,#e0ff17 87.5%,#c5ff32 93.8%,#a9ff4e 100.0%)"></div><div style="height:6px;background:linear-gradient(90deg,#9c0000 0.0%,#a00000 6.2%,#a90000 12.5%,#a70000 18.8%,#a80000 25.0%,#9e0000 31.2%,#b90000 37.5%,#d00000 43.8%,#ff1900 50.0%,#ff4a00 56.2%,#ff7c00 62.5%,#ff9800 68.8%,#ffc700 75.0%,#ffe500 81.2%,#e5ff12 87.5%,#c1ff36 93.8%,#a1ff56 100.0%)"></div><div style="height:6px;background:linear-gradient(90deg,#9c0000 0.0%,#9b0000 6.2%,#9f0000 12.5%,#a90000 18.8%,#ab0000 25.0%,#a40000 31.2%,#aa0000 37.5%,#df0000 43.8%,#ff2000 50.0%,#ff4f00 56.2%,#ff7400 62.5%,#ffa100 68.8%,#ffc300 75.0%,#ffdf00 81.2%,#e6ff11 87.5%,#c2ff35 93.8%,#a7ff50 100.0%)"></div><div style="height:6px;background:linear-gradient(90deg,#a30000 0.0%,#950000 6.2%,#a70000 12.5%,#a50000 18.8%,#9b0000 25.0%,#ae0000 31.2%,#b10000 37.5%,#d90000 43.8%,#ff1d00 50.0%,#ff4200 56.2%,#ff7a00 62.5%,#ffa700 68.8%,#ffc300 75.0%,#feed00 81.2%,#e8ff0f 87.5%,#caff2d 93.8%,#aaff4d 100.0%)"></div><div style="height:6px;background:linear-gradient(90deg,#9b0000 0.0%,#9c0000 6.2%,#a50000 12.5%,#a80000 18.8%,#ac0000 25.0%,#ac0000 31.2%,#b10000 37.5%,#dd0000 43.8%,#ff1300 50.0%,#ff4800 56.2%,#ff7b00 62.5%,#ffa000 68.8%,#ffca00 75.0%,#ffe200 81.2%,#e8ff0f 87.5%,#c3ff34 93.8%,#a7ff4f 100.0%)"></div><div style="height:6px;background:linear-gradient(90deg,#950000 0.0%,#a30000 6.2%,#a60000 12.5%,#9a0000 18.8%,#aa0000 25.0%,#9f0000 31.2%,#b50000 37.5%,#dc0000 43.8%,#ff1d00 50.0%,#ff4800 56.2%,#ff7800 62.5%,#ffa100 68.8%,#ffc200 75.0%,#ffe900 81.2%,#e9ff0e 87.5%,#caff2c 93.8%,#a8ff4f 100.0%)"></div><div style="height:6px;background:linear-gradient(90deg,#9d0000 0.0%,#a10000 6.2%,#a00000 12.5%,#9c0000 18.8%,#a70000 25.0%,#a90000 31.2%,#b40000 37.5%,#e20000 43.8%,#ff1800 50.0%,#ff4900 56.2%,#ff7900 62.5%,#ffa000 68.8%,#ffc300 75.0%,#ffe300 81.2%,#e1ff16 87.5%,#cbff2c 93.8%,#9fff57 100.0%)"></div><div style="height:6px;background:linear-gradient(90deg,#9d0000 0.0%,#9e0000 6.2%,#9d0000 12.5%,#a90000 18.8%,#a00000 25.0%,#a10000 31.2%,#ab0000 37.5%,#dd0000 43.8%,#ff1d00 50.0%,#ff4e00 56.2%,#ff7300 62.5%,#ffa000 68.8%,#ffc400 75.0%,#ffe600 81.2%,#e7ff0f 87.5%,#c2ff35 93.8%,#a2ff54 100.0%)"></div><div style="height:6px;background:linear-gradient(90deg,#a60000 0.0%,#a00000 6.2%,#a10000 12.5%,#ab0000 18.8%,#9f0000 25.0%,#aa0000 31.2%,#b50000 37.5%,#d60000 43.8%,#ff1800 50.0%,#ff4900 56.2%,#ff7300 62.5%,#ff9f00 68.8%,#ffc500 75.0%,#ffed00 81.2%,#e5ff11 87.5%,#c3ff34 93.8%,#a5ff52 100.0%)"></div><div style="height:6px;background:linear-gradient(90deg,#980000 0.0%,#970000 6.2%,#9d0000 12.5%,#a50000 18.8%,#a40000 25.0%,#a20000 31.2%,#ac0000 37.5%,#db0000 43.8%,#ff1b00 50.0%,#ff4700 56.2%,#ff7d00 62.5%,#ff9900 68.8%,#ffca00 75.0%,#ffe400 81.2%,#e5ff12 87.5%,#c1ff36 93.8%,#a5ff51 100.0%)"></div><div style="height:6px;background:linear-gradient(90deg,#9a0000 0.0%,#9d0000 6.2%,#9a0000 12.5%,#ab0000 18.8%,#9f0000 25.0%,#a40000 31.2%,#b00000 37.5%,#dc0000 43.8%,#ff1700 50.0%,#ff4e00 56.2%,#ff7800 62.5%,#ffa300 68.8%,#ffbc00 75.0%,#ffe100 81.2%,#e4ff12 87.5%,#c8ff2f 93.8%,#a3ff54 100.0%)"></div><div style="height:6px;background:linear-gradient(90deg,#970000 0.0%,#a40000 6.2%,#9b0000 12.5%,#a40000 18.8%,#aa0000 25.0%,#af0000 31.2%,#ae0000 37.5%,#d80000 43.8%,#ff1c00 50.0%,#ff4400 56.2%,#ff7d00 62.5%,#ffa000 68.8%,#ffc900 75.0%,#ffe800 81.2%,#eaff0d 87.5%,#c5ff32 93.8%,#a0ff57 100.0%)"></div><div style="height:6px;background:linear-gradient(90deg,#a50000 0.0%,#960000 6.2%,#a50000 12.5%,#9d0000 18.8%,#9f0000 25.0%,#9e0000 31.2%,#b20000 37.5%,#d50000 43.8%,#ff1c00 50.0%,#ff4400 56.2%,#ff7f00 62.5%,#ff9900 68.8%,#ffc100 75.0%,#ffed00 81.2%,#ebff0c 87.5%,#c2ff35 93.8%,#9fff58 100.0%)"></div><div style="height:6px;background:linear-gradient(90deg,#990000 0.0%,#9d0000 6.2%,#a20000 12.5%,#a40000 18.8%,#a30000 25.0%,#9e0000 31.2%,#b10000 37.5%,#d30000 43.8%,#ff1c00 50.0%,#ff4600 56.2%,#ff7700 62.5%,#ff9b00 68.8%,#ffbd00 75.0%,#ffec00 81.2%,#ebff0c 87.5%,#c6ff31 93.8%,#a1ff55 100.0%)"></div><div style="height:6px;background:linear-gradient(90deg,#a20000 0.0%,#9b0000 6.2%,#980000 12.5%,#ab0000 18.8%,#a90000 25.0%,#9e0000 31.2%,#b90000 37.5%,#d30000 43.8%,#ff1800 50.0%,#ff4f00 56.2%,#ff7700 62.5%,#ffa700 68.8%,#ffbd00 75.0%,#ffe900 81.2%,#eaff0c 87.5%,#caff2d 93.8%,#a0ff57 100.0%)"></div><div style="height:6px;background:linear-gradient(90deg,#a40000 0.0%,#960000 6.2%,#a70000 12.5%,#a50000 18.8%,#9b0000 25.0%,#a10000 31.2%,#ad0000 37.5%,#e10000 43.8%,#ff1300 50.0%,#ff4a00 56.2%,#ff8000 62.5%,#ff9b00 68.8%,#ffbc00 75.0%,#feed00 81.2%,#e4ff13 87.5%,#caff2d 93.8%,#a2ff54 100.0%)"></div><div style="height:6px;background:linear-gradient(90deg,#9e0000 0.0%,#980000 6.2%,#a50000 12.5%,#a60000 18.8%,#9f0000 25.0%,#ae0000 31.2%,#ba0000 37.5%,#d60000 43.8%,#ff1f00 50.0%,#ff4800 56.2%,#ff7e00 62.5%,#ff9e00 68.8%,#ffbd00 75.0%,#ffe700 81.2%,#e2ff15 87.5%,#c6ff31 93.8%,#a7ff50 100.0%)"></div><div style="height:6px;background:linear-gradient(90deg,#a00000 0.0%,#980000 6.2%,#a10000 12.5%,#aa0000 18.8%,#a90000 25.0%,#af0000 31.2%,#b30000 37.5%,#d10000 43.8%,#fe1200 50.0%,#ff4600 56.2%,#ff7e00 62.5%,#ffa300 68.8%,#ffc700 75.0%,#ffe800 81.2%,#e7ff10 87.5%,#beff38 93.8%,#a4ff52 100.0%)"></div></div><div style="position:absolute;left:0;top:0;width:160px;height:216px;transform-origin:0 0;transform:matrix3d(0.56189608,-0.091165364,0,1.2416795e-06,0.2596405,0.83944221,0,9.1648424e-05,0,0,1,0,682.25,208.625,0,1)"><div style="height:6px;background:linear-gradient(90deg,#a6ff51 0.0%,#8aff6d 6.2%,#68ff8f 12.5%,#4cffab 18.8%,#2cffcb 25.0%,#0ef7e8 31.2%,#00caff 37.5%,#009aff 43.8%,#008dff 50.0%,#0077ff 56.2%,#005eff 62.5%,#0041ff 68.8%,#0028ff 75.0%,#0003ff 81.2%,#0000fe 87.5%,#0000d8 93.8%,#0000b5 100.0%)"></div><div style="height:6px;background:linear-gradient(90deg,#9eff59 0.0%,#83ff74 6.2%,#66ff91 12.5%,#40ffb7 18.8%,#29ffce 25.0%,#0af2ed 31.2%,#00c0ff 37.5%,#00a2ff 43.8%,#0087ff 50.0%,#0072ff 56.2%,#0055ff 62.5%,#0043ff 68.8%,#0029ff 75.0%,#0000ff 81.2%,#0000f0 87.5%,#0000da 93.8%,#0000c2 100.0%)"></div><div style="height:6px;background:linear-gradient(90deg,#a2ff54 0.0%,#83ff73 6.2%,#64ff93 12.5%,#45ffb2 18.8%,#2dffca 25.0%,#03eaf3 31.2%,#00bfff 37.5%,#00a7ff 43.8%,#008dff 50.0%,#0077ff 56.2%,#0056ff 62.5%,#0047ff 68.8%,#002cff 75.0%,#0003ff 81.2%,#0000fd 87.5%,#0000dd 93.8%,#0000bc 100.0%)"></div><div style="height:6px;background:linear-gradient(90deg,#9eff59 0.0%,#7fff78 6.2%,#60ff97 12.5%,#41ffb5 18.8%,#22ffd5 25.0%,#0ef7e9 31.2%,#00cdff 37.5%,#0099ff 43.8%,#0087ff 50.0%,#006cff 56.2%,#0054ff 62.5%,#003dff 68.8%,#0027ff 75.0%,#0009ff 81.2%,#0000f5 87.5%,#0000d1 93.8%,#0000b6 100.0%)"></div><div style="height:6px;background:linear-gradient(90deg,#aaff4d 0.0%,#80ff77 6.2%,#5fff98 12.5%,#4bffac 18.8%,#22ffd4 25.0%,#0cf5ea 31.2%,#00caff 37.5%,#00a5ff 43.8%,#008fff 50.0%,#0071ff 56.2%,#005cff 62.5%,#0038ff 68.8%,#0029ff 75.0%,#0008ff 81.2%,#0000fc 87.5%,#0000d0 93.8%,#0000be 100.0%)"></div><div style="height:6px;background:linear-gradient(90deg,#a1ff55 0.0%,#81ff76 6.2%,#5fff98 12.5%,#46ffb1 18.8%,#26ffd1 25.0%,#04eaf3 31.2%,#00c5ff 37.5%,#009dff 43.8%,#008cff 50.0%,#0069ff 56.2%,#005fff 62.5%,#003fff 68.8%,#0027ff 75.0%,#0007ff 81.2%,#0000fe 87.5%,#0000dd 93.8%,#0000bb 100.0%)"></div><div style="height:6px;background:linear-gradient(90deg,#aaff4c 0.0%,#83ff74 6.2%,#69ff8e 12.5%,#4affad 18.8%,#25ffd2 25.0%,#0af2ec 31.2%,#00caff 37.5%,#00a5ff 43.8%,#0083ff 50.0%,#0073ff 56.2%,#005fff 62.5%,#0042ff 68.8%,#0026ff 75.0%,#0001ff 81.2%,#0000f8 87.5%,#0000d4 93.8%,#0000bd 100.0%)"></div><div style="height:6px;background:linear-gradient(90deg,#a8ff4f 0.0%,#89ff6e 6.2%,#68ff8e 12.5%,#48ffaf 18.8%,#23ffd4 25.0%,#07eef0 31.2%,#00c3ff 37.5%,#00a0ff 43.8%,#0088ff 50.0%,#006aff 56.2%,#0053ff 62.5%,#0044ff 68.8%,#001dff 75.0%,#000dff 81.2%,#0000ff 87.5%,#0000df 93.8%,#0000b7 100.0%)"></div><div style="height:6px;background:linear-gradient(90deg,#a8ff4f 0.0%,#84ff73 6.2%,#60ff97 12.5%,#40ffb6 18.8%,#22ffd5 25.0%,#04eaf3 31.2%,#00c2ff 37.5%,#00a0ff 43.8%,#008aff 50.0%,#0070ff 56.2%,#0056ff 62.5%,#0042ff 68.8%,#0022ff 75.0%,#0007ff 81.2%,#0000fd 87.5%,#0000d5 93.8%,#0000b4 100.0%)"></div><div style="height:6px;background:linear-gradient(90deg,#a6ff51 0.0%,#82ff74 6.2%,#60ff97 12.5%,#49ffae 18.8%,#2effc9 25.0%,#09f1ee 31.2%,#00bfff 37.5%,#0098ff 43.8%,#0080ff 50.0%,#006aff 56.2%,#0050ff 62.5%,#0038ff 68.8%,#0027ff 75.0%,#000eff 81.2%,#0000f2 87.5%,#0000e0 93.8%,#0000b9 100.0%)"></div><div style="height:6px;background:linear-gradient(90deg,#a2ff54 0.0%,#83ff74 6.2%,#60ff97 12.5%,#45ffb2 18.8%,#2dffc9 25.0%,#03e9f4 31.2%,#00c9ff 37.5%,#0099ff 43.8%,#0080ff 50.0%,#0072ff 56.2%,#0053ff 62.5%,#0038ff 68.8%,#001fff 75.0%,#000aff 81.2%,#0000fa 87.5%,#0000ce 93.8%,#0000b4 100.0%)"></div><div style="height:6px;background:linear-gradient(90deg,#a2ff54 0.0%,#83ff73 6.2%,#60ff97 12.5%,#43ffb4 18.8%,#23ffd4 25.0%,#0ef6e9 31.2%,#00cbff 37.5%,#00a6ff 43.8%,#008fff 50.0%,#0071ff 56.2%,#005eff 62.5%,#0040ff 68.8%,#0024ff 75.0%,#000fff 81.2%,#0000ff 87.5%,#0000df 93.8%,#0000b9 100.0%)"></div><div style="height:6px;background:linear-gradient(90deg,#a5ff52 0.0%,#80ff77 6.2%,#5fff98 12.5%,#42ffb4 18.8%,#2bffcc 25.0%,#08efef 31.2%,#00cfff 37.5%,#00a4ff 43.8%,#008fff 50.0%,#0068ff 56.2%,#0052ff 62.5%,#0037ff 68.8%,#0024ff 75.0%,#0005ff 81.2%,#0000f0 87.5%,#0000d8 93.8%,#0000b2 100.0%)"></div><div style="height:6px;background:linear-gradient(90deg,#aaff4d 0.0%,#86ff71 6.2%,#5fff98 12.5%,#47ffaf 18.8%,#28ffcf 25.0%,#08efef 31.2%,#00c4ff 37.5%,#00a3ff 43.8%,#008eff 50.0%,#0069ff 56.2%,#005aff 62.5%,#003dff 68.8%,#0025ff 75.0%,#000eff 81.2%,#0000ff 87.5%,#0000d9 93.8%,#0000b4 100.0%)"></div><div style="height:6px;background:linear-gradient(90deg,#abff4c 0.0%,#85ff72 6.2%,#64ff93 12.5%,#41ffb6 18.8%,#26ffd1 25.0%,#0ef7e8 31.2%,#00c4ff 37.5%,#009aff 43.8%,#0081ff 50.0%,#0069ff 56.2%,#0055ff 62.5%,#0046ff 68.8%,#001eff 75.0%,#0003ff 81.2%,#0000ff 87.5%,#0000e0 93.8%,#0000c2 100.0%)"></div><div style="height:6px;background:linear-gradient(90deg,#a6ff51 0.0%,#8bff6c 6.2%,#6bff8c 12.5%,#4bffac 18.8%,#2cffcb 25.0%,#05ecf2 31.2%,#00cfff 37.5%,#009cff 43.8%,#0081ff 50.0%,#006fff 56.2%,#005bff 62.5%,#003dff 68.8%,#0027ff 75.0%,#0004ff 81.2%,#0000ff 87.5%,#0000d6 93.8%,#0000b9 100.0%)"></div><div style="height:6px;background:linear-gradient(90deg,#aaff4d 0.0%,#83ff74 6.2%,#65ff92 12.5%,#4bffab 18.8%,#25ffd2 25.0%,#04eaf3 31.2%,#00cdff 37.5%,#00a1ff 43.8%,#0080ff 50.0%,#0068ff 56.2%,#0055ff 62.5%,#0037ff 68.8%,#002aff 75.0%,#0003ff 81.2%,#0000f4 87.5%,#0000d5 93.8%,#0000ba 100.0%)"></div><div style="height:6px;background:linear-gradient(90deg,#a8ff4f 0.0%,#80ff76 6.2%,#5fff97 12.5%,#45ffb1 18.8%,#25ffd2 25.0%,#04eaf3 31.2%,#00ceff 37.5%,#009bff 43.8%,#008cff 50.0%,#0076ff 56.2%,#0051ff 62.5%,#0046ff 68.8%,#0023ff 75.0%,#0003ff 81.2%,#0000f2 87.5%,#0000ce 93.8%,#0000b9 100.0%)"></div><div style="height:6px;background:linear-gradient(90deg,#a9ff4e 0.0%,#84ff73 6.2%,#66ff91 12.5%,#4bffac 18.8%,#27ffd0 25.0%,#08efef 31.2%,#00c9ff 37.5%,#00a5ff 43.8%,#0082ff 50.0%,#0069ff 56.2%,#005cff 62.5%,#0040ff 68.8%,#0022ff 75.0%,#000eff 81.2%,#0000ff 87.5%,#0000d8 93.8%,#0000c3 100.0%)"></div><div style="height:6px;background:linear-gradient(90deg,#a1ff56 0.0%,#8bff6c 6.2%,#69ff8e 12.5%,#49ffad 18.8%,#2dffca 25.0%,#03e9f4 31.2%,#00cbff 37.5%,#00a4ff 43.8%,#0083ff 50.0%,#006fff 56.2%,#005fff 62.5%,#003dff 68.8%,#0029ff 75.0%,#0002ff 81.2%,#0000fb 87.5%,#0000d3 93.8%,#0000ba 100.0%)"></div><div style="height:6px;background:linear-gradient(90deg,#a7ff50 0.0%,#7eff79 6.2%,#62ff94 12.5%,#49ffae 18.8%,#23ffd4 25.0%,#02e8f5 31.2%,#00c8ff 37.5%,#009dff 43.8%,#008fff 50.0%,#0069ff 56.2%,#005cff 62.5%,#003eff 68.8%,#002aff 75.0%,#0007ff 81.2%,#0000fb 87.5%,#0000d4 93.8%,#0000b4 100.0%)"></div><div style="height:6px;background:linear-gradient(90deg,#aaff4d 0.0%,#7eff78 6.2%,#67ff8f 12.5%,#44ffb3 18.8%,#27ffd0 25.0%,#05ecf1 31.2%,#00c4ff 37.5%,#009aff 43.8%,#0089ff 50.0%,#0069ff 56.2%,#005fff 62.5%,#0038ff 68.8%,#002dff 75.0%,#0003ff 81.2%,#0000f0 87.5%,#0000db 93.8%,#0000ba 100.0%)"></div><div style="height:6px;background:linear-gradient(90deg,#a7ff4f 0.0%,#81ff75 6.2%,#61ff95 12.5%,#43ffb4 18.8%,#23ffd3 25.0%,#09f1ed 31.2%,#00caff 37.5%,#00a3ff 43.8%,#0081ff 50.0%,#0074ff 56.2%,#0057ff 62.5%,#003dff 68.8%,#0025ff 75.0%,#0007ff 81.2%,#0000f2 87.5%,#0000d5 93.8%,#0000bc 100.0%)"></div><div style="height:6px;background:linear-gradient(90deg,#a8ff4f 0.0%,#89ff6e 6.2%,#60ff97 12.5%,#43ffb4 18.8%,#24ffd3 25.0%,#03eaf3 31.2%,#00cfff 37.5%,#00a6ff 43.8%,#008eff 50.0%,#0070ff 56.2%,#0051ff 62.5%,#003eff 68.8%,#001eff 75.0%,#000eff 81.2%,#0000f4 87.5%,#0000d3 93.8%,#0000c2 100.0%)"></div><div style="height:6px;background:linear-gradient(90deg,#9fff57 0.0%,#89ff6e 6.2%,#61ff96 12.5%,#4affad 18.8%,#24ffd2 25.0%,#02e8f4 31.2%,#00c8ff 37.5%,#00a5ff 43.8%,#008dff 50.0%,#0075ff 56.2%,#005fff 62.5%,#0038ff 68.8%,#0023ff 75.0%,#0001ff 81.2%,#0000fd 87.5%,#0000d6 93.8%,#0000be 100.0%)"></div><div style="height:6px;background:linear-gradient(90deg,#a2ff54 0.0%,#88ff6f 6.2%,#69ff8e 12.5%,#44ffb3 18.8%,#22ffd5 25.0%,#0ef6e9 31.2%,#00cbff 37.5%,#00a1ff 43.8%,#0086ff 50.0%,#0077ff 56.2%,#0056ff 62.5%,#003bff 68.8%,#001eff 75.0%,#0005ff 81.2%,#0000fa 87.5%,#0000d4 93.8%,#0000c2 100.0%)"></div><div style="height:6px;background:linear-gradient(90deg,#a5ff52 0.0%,#82ff74 6.2%,#5fff98 12.5%,#40ffb7 18.8%,#23ffd4 25.0%,#03e9f4 31.2%,#00cdff 37.5%,#00a1ff 43.8%,#0083ff 50.0%,#0073ff 56.2%,#005aff 62.5%,#0038ff 68.8%,#0029ff 75.0%,#0003ff 81.2%,#0000ff 87.5%,#0000d0 93.8%,#0000b5 100.0%)"></div><div style="height:6px;background:linear-gradient(90deg,#a5ff51 0.0%,#84ff73 6.2%,#6bff8c 12.5%,#4bffab 18.8%,#29ffce 25.0%,#0df5ea 31.2%,#00ceff 37.5%,#009aff 43.8%,#008cff 50.0%,#0075ff 56.2%,#005fff 62.5%,#0044ff 68.8%,#0023ff 75.0%,#0003ff 81.2%,#0000fb 87.5%,#0000d1 93.8%,#0000be 100.0%)"></div><div style="height:6px;background:linear-gradient(90deg,#a3ff54 0.0%,#85ff72 6.2%,#61ff96 12.5%,#4bffac 18.8%,#2bffcc 25.0%,#0bf4eb 31.2%,#00c1ff 37.5%,#00a5ff 43.8%,#007fff 50.0%,#0070ff 56.2%,#0057ff 62.5%,#0038ff 68.8%,#0024ff 75.0%,#000eff 81.2%,#0000fa 87.5%,#0000d3 93.8%,#0000bf 100.0%)"></div><div style="height:6px;background:linear-gradient(90deg,#a0ff57 0.0%,#81ff76 6.2%,#67ff90 12.5%,#43ffb3 18.8%,#2dffca 25.0%,#02e8f5 31.2%,#00ceff 37.5%,#00a2ff 43.8%,#008cff 50.0%,#006dff 56.2%,#0050ff 62.5%,#003aff 68.8%,#0027ff 75.0%,#0000ff 81.2%,#0000f1 87.5%,#0000dc 93.8%,#0000c0 100.0%)"></div><div style="height:6px;background:linear-gradient(90deg,#9fff58 0.0%,#81ff76 6.2%,#5fff98 12.5%,#43ffb3 18.8%,#2affcd 25.0%,#0ef7e8 31.2%,#00caff 37.5%,#00a5ff 43.8%,#008cff 50.0%,#0073ff 56.2%,#0055ff 62.5%,#003bff 68.8%,#001fff 75.0%,#0009ff 81.2%,#0000f3 87.5%,#0000db 93.8%,#0000b6 100.0%)"></div><div style="height:6px;background:linear-gradient(90deg,#a1ff55 0.0%,#84ff73 6.2%,#60ff97 12.5%,#43ffb4 18.8%,#2cffcb 25.0%,#0bf3ec 31.2%,#00ceff 37.5%,#009aff 43.8%,#0081ff 50.0%,#006dff 56.2%,#0057ff 62.5%,#0043ff 68.8%,#0022ff 75.0%,#000cff 81.2%,#0000fa 87.5%,#0000d3 93.8%,#0000bf 100.0%)"></div><div style="height:6px;background:linear-gradient(90deg,#a0ff57 0.0%,#83ff74 6.2%,#61ff96 12.5%,#4affad 18.8%,#22ffd5 25.0%,#02e8f4 31.2%,#00c1ff 37.5%,#00a6ff 43.8%,#0083ff 50.0%,#006cff 56.2%,#0056ff 62.5%,#0040ff 68.8%,#0024ff 75.0%,#000fff 81.2%,#0000f5 87.5%,#0000d6 93.8%,#0000c0 100.0%)"></div><div style="height:6px;background:linear-gradient(90deg,#a2ff54 0.0%,#82ff75 6.2%,#69ff8e 12.5%,#46ffb1 18.8%,#2effc9 25.0%,#0df5ea 31.2%,#00cdff 37.5%,#00a3ff 43.8%,#0082ff 50.0%,#0072ff 56.2%,#0059ff 62.5%,#003fff 68.8%,#0026ff 75.0%,#0005ff 81.2%,#0000f2 87.5%,#0000de 93.8%,#0000b7 100.0%)"></div><div style="height:6px;background:linear-gradient(90deg,#a7ff50 0.0%,#7fff78 6.2%,#62ff95 12.5%,#45ffb2 18.8%,#28ffcf 25.0%,#05ecf2 31.2%,#00caff 37.5%,#009cff 43.8%,#008eff 50.0%,#006dff 56.2%,#0053ff 62.5%,#0039ff 68.8%,#001fff 75.0%,#0003ff 81.2%,#0000ff 87.5%,#0000d5 93.8%,#0000b8 100.0%)"></div><div style="height:6px;background:linear-gradient(90deg,#a4ff52 0.0%,#83ff73 6.2%,#67ff8f 12.5%,#4bffac 18.8%,#26ffd1 25.0%,#09f1ed 31.2%,#00c4ff 37.5%,#009fff 43.8%,#0089ff 50.0%,#0068ff 56.2%,#0058ff 62.5%,#003fff 68.8%,#0020ff 75.0%,#0004ff 81.2%,#0000fe 87.5%,#0000d4 93.8%,#0000b4 100.0%)"></div></div><div style="position:absolute;left:0;top:0;width:160px;height:216px;transform-origin:0 0;transform:matrix3d(0.55255875,-0.11081407,0,-8.4292873e-06,0.18601614,1.1883665,0,-0.00017274421,0,0,1,0,497,577,0,1)"><div style="height:6px;background:linear-gradient(90deg,#0000d3 0.0%,#0000ff 6.2%,#0018ff 12.5%,#004cff 18.8%,#007aff 25.0%,#00aeff 31.2%,#00cdff 37.5%,#16ffe0 43.8%,#3bffbc 50.0%,#51ffa6 56.2%,#6eff89 62.5%,#7dff7a 68.8%,#9fff58 75.0%,#bbff3b 81.2%,#deff18 87.5%,#ffeb00 93.8%,#ffd400 100.0%)"></div><div style="height:6px;background:linear-gradient(90deg,#0000d2 0.0%,#0000f4 6.2%,#000eff 12.5%,#0040ff 18.8%,#007bff 25.0%,#009dff 31.2%,#00d3ff 37.5%,#17ffe0 43.8%,#35ffc2 50.0%,#48ffaf 56.2%,#62ff95 62.5%,#7eff78 68.8%,#9fff58 75.0%,#b6ff41 81.2%,#deff19 87.5%,#ffec00 93.8%,#ffcc00 100.0%)"></div><div style="height:6px;background:linear-gradient(90deg,#0000d0 0.0%,#0000fa 6.2%,#0015ff 12.5%,#003fff 18.8%,#0070ff 25.0%,#00a6ff 31.2%,#00d0ff 37.5%,#0df6ea 43.8%,#29ffcd 50.0%,#42ffb5 56.2%,#5aff9d 62.5%,#77ff80 68.8%,#9bff5b 75.0%,#bcff3b 81.2%,#d5ff22 87.5%,#fbf000 93.8%,#ffd100 100.0%)"></div><div style="height:6px;background:linear-gradient(90deg,#0000d5 0.0%,#0000f6 6.2%,#0013ff 12.5%,#0044ff 18.8%,#0072ff 25.0%,#0095ff 31.2%,#00c6ff 37.5%,#07eff0 43.8%,#1effd9 50.0%,#3fffb8 56.2%,#57ffa0 62.5%,#70ff87 68.8%,#8fff68 75.0%,#b1ff46 81.2%,#cfff28 87.5%,#f0fe07 93.8%,#ffe100 100.0%)"></div><div style="height:6px;background:linear-gradient(90deg,#0000d2 0.0%,#0000fb 6.2%,#0022ff 12.5%,#0044ff 18.8%,#006bff 25.0%,#0092ff 31.2%,#00c5ff 37.5%,#00e5f7 43.8%,#1bffdc 50.0%,#39ffbd 56.2%,#51ffa6 62.5%,#73ff84 68.8%,#8fff68 75.0%,#adff4a 81.2%,#d4ff23 87.5%,#f4f802 93.8%,#ffe500 100.0%)"></div><div style="height:6px;background:linear-gradient(90deg,#0000cf 0.0%,#0000fd 6.2%,#0021ff 12.5%,#004bff 18.8%,#0065ff 25.0%,#0090ff 31.2%,#00b8ff 37.5%,#00defd 43.8%,#16ffe1 50.0%,#30ffc7 56.2%,#52ffa5 62.5%,#71ff86 68.8%,#86ff71 75.0%,#a8ff4e 81.2%,#d1ff26 87.5%,#f0fd07 93.8%,#ffe000 100.0%)"></div><div style="height:6px;background:linear-gradient(90deg,#0000cc 0.0%,#0000ff 6.2%,#0022ff 12.5%,#003fff 18.8%,#006bff 25.0%,#008fff 31.2%,#00abff 37.5%,#00daff 43.8%,#0df6ea 50.0%,#2affcd 56.2%,#4dffaa 62.5%,#65ff92 68.8%,#8dff6a 75.0%,#a8ff4f 81.2%,#c6ff30 87.5%,#ecff0a 93.8%,#fdee00 100.0%)"></div><div style="height:6px;background:linear-gradient(90deg,#0000ca 0.0%,#0000fe 6.2%,#001cff 12.5%,#003eff 18.8%,#0062ff 25.0%,#0083ff 31.2%,#00abff 37.5%,#00c8ff 43.8%,#12fce4 50.0%,#28ffcf 56.2%,#4dffaa 62.5%,#67ff90 68.8%,#86ff71 75.0%,#a4ff53 81.2%,#cbff2c 87.5%,#e0ff17 93.8%,#ffe800 100.0%)"></div><div style="height:6px;background:linear-gradient(90deg,#0000cb 0.0%,#0000ff 6.2%,#0020ff 12.5%,#0044ff 18.8%,#005cff 25.0%,#0080ff 31.2%,#009fff 37.5%,#00c9ff 43.8%,#0df5ea 50.0%,#26ffd1 56.2%,#47ffb0 62.5%,#5cff9a 68.8%,#79ff7d 75.0%,#a1ff56 81.2%,#c2ff35 87.5%,#e2ff15 93.8%,#fbf100 100.0%)"></div><div style="height:6px;background:linear-gradient(90deg,#0000d4 0.0%,#0000ff 6.2%,#001cff 12.5%,#0047ff 18.8%,#0062ff 25.0%,#0077ff 31.2%,#0099ff 37.5%,#00bbff 43.8%,#00e5f7 50.0%,#24ffd3 56.2%,#43ffb3 62.5%,#5dff99 68.8%,#78ff7f 75.0%,#9cff5b 81.2%,#bcff3a 87.5%,#dbff1c 93.8%,#f2fb05 100.0%)"></div><div style="height:6px;background:linear-gradient(90deg,#0000c8 0.0%,#0000ff 6.2%,#001eff 12.5%,#0046ff 18.8%,#0065ff 25.0%,#0075ff 31.2%,#009fff 37.5%,#00b7ff 43.8%,#00e3f9 50.0%,#1fffd8 56.2%,#3affbc 62.5%,#5cff9b 68.8%,#76ff81 75.0%,#93ff64 81.2%,#bbff3c 87.5%,#dbff1c 93.8%,#f1fd06 100.0%)"></div><div style="height:6px;background:linear-gradient(90deg,#0000cb 0.0%,#0000ff 6.2%,#002dff 12.5%,#0049ff 18.8%,#005eff 25.0%,#0074ff 31.2%,#008eff 37.5%,#00b6ff 43.8%,#00daff 50.0%,#17ffe0 56.2%,#32ffc5 62.5%,#58ff9e 68.8%,#70ff87 75.0%,#93ff64 81.2%,#b4ff43 87.5%,#d7ff1f 93.8%,#f6f601 100.0%)"></div><div style="height:6px;background:linear-gradient(90deg,#0000d5 0.0%,#0000ff 6.2%,#002dff 12.5%,#0046ff 18.8%,#0061ff 25.0%,#0079ff 31.2%,#0091ff 37.5%,#00b3ff 43.8%,#00cbff 50.0%,#0af2ed 56.2%,#29ffcd 62.5%,#4bffac 68.8%,#6eff89 75.0%,#91ff66 81.2%,#b6ff41 87.5%,#d5ff21 93.8%,#e8ff0f 100.0%)"></div><div style="height:6px;background:linear-gradient(90deg,#0000cc 0.0%,#0000ff 6.2%,#0028ff 12.5%,#0043ff 18.8%,#0050ff 25.0%,#0068ff 31.2%,#0091ff 37.5%,#00a4ff 43.8%,#00caff 50.0%,#04ebf2 56.2%,#27ffcf 62.5%,#51ffa6 68.8%,#6eff89 75.0%,#8eff69 81.2%,#aaff4c 87.5%,#cdff2a 93.8%,#edff0a 100.0%)"></div><div style="height:6px;background:linear-gradient(90deg,#0000ce 0.0%,#0000ff 6.2%,#0026ff 12.5%,#0042ff 18.8%,#005dff 25.0%,#006cff 31.2%,#007cff 37.5%,#0097ff 43.8%,#00c6ff 50.0%,#03e9f4 56.2%,#24ffd3 62.5%,#46ffb1 68.8%,#69ff8e 75.0%,#90ff66 81.2%,#a9ff4d 87.5%,#ccff2b 93.8%,#e3ff14 100.0%)"></div><div style="height:6px;background:linear-gradient(90deg,#0000ca 0.0%,#0002ff 6.2%,#0029ff 12.5%,#003eff 18.8%,#0057ff 25.0%,#0068ff 31.2%,#0079ff 37.5%,#009cff 43.8%,#00bfff 50.0%,#00e3f9 56.2%,#22ffd4 62.5%,#3fffb8 68.8%,#61ff96 75.0%,#8bff6b 81.2%,#a8ff4e 87.5%,#ccff2b 93.8%,#deff19 100.0%)"></div><div style="height:6px;background:linear-gradient(90deg,#0000d3 0.0%,#0000ff 6.2%,#0026ff 12.5%,#0042ff 18.8%,#0056ff 25.0%,#0064ff 31.2%,#007fff 37.5%,#009dff 43.8%,#00b6ff 50.0%,#00dffc 56.2%,#1fffd8 62.5%,#40ffb7 68.8%,#65ff91 75.0%,#83ff74 81.2%,#a7ff50 87.5%,#c1ff35 93.8%,#e1ff16 100.0%)"></div><div style="height:6px;background:linear-gradient(90deg,#0000c9 0.0%,#0000ff 6.2%,#0025ff 12.5%,#0042ff 18.8%,#004dff 25.0%,#006eff 31.2%,#007fff 37.5%,#0096ff 43.8%,#00b8ff 50.0%,#00e2f9 56.2%,#23ffd4 62.5%,#3bffbb 68.8%,#59ff9e 75.0%,#7fff78 81.2%,#a6ff51 87.5%,#bcff3a 93.8%,#dbff1c 100.0%)"></div><div style="height:6px;background:linear-gradient(90deg,#0000d8 0.0%,#0000ff 6.2%,#0029ff 12.5%,#0040ff 18.8%,#005cff 25.0%,#0060ff 31.2%,#0082ff 37.5%,#009cff 43.8%,#00bfff 50.0%,#00d8ff 56.2%,#20ffd6 62.5%,#37ffc0 68.8%,#5eff99 75.0%,#7dff7a 81.2%,#9bff5c 87.5%,#beff39 93.8%,#d7ff20 100.0%)"></div><div style="height:6px;background:linear-gradient(90deg,#0000cf 0.0%,#0000ff 6.2%,#0029ff 12.5%,#0042ff 18.8%,#004dff 25.0%,#006cff 31.2%,#0084ff 37.5%,#009aff 43.8%,#00c0ff 50.0%,#00e0fb 56.2%,#1bffdb 62.5%,#3bffbc 68.8%,#57ffa0 75.0%,#70ff86 81.2%,#9dff5a 87.5%,#bcff3b 93.8%,#ccff2a 100.0%)"></div><div style="height:6px;background:linear-gradient(90deg,#0000cd 0.0%,#0000fe 6.2%,#0022ff 12.5%,#0041ff 18.8%,#004fff 25.0%,#0060ff 31.2%,#0081ff 37.5%,#00a0ff 43.8%,#00bfff 50.0%,#00daff 56.2%,#1cffdb 62.5%,#2effc9 68.8%,#4dffaa 75.0%,#6cff8b 81.2%,#8eff69 87.5%,#b2ff45 93.8%,#cfff27 100.0%)"></div><div style="height:6px;background:linear-gradient(90deg,#0000ce 0.0%,#0000ff 6.2%,#0020ff 12.5%,#003fff 18.8%,#0051ff 25.0%,#006cff 31.2%,#0080ff 37.5%,#0092ff 43.8%,#00bfff 50.0%,#00d9ff 56.2%,#17ffe0 62.5%,#30ffc7 68.8%,#53ffa4 75.0%,#69ff8e 81.2%,#8cff6b 87.5%,#a9ff4d 93.8%,#c4ff32 100.0%)"></div><div style="height:6px;background:linear-gradient(90deg,#0000d9 0.0%,#0000ff 6.2%,#0024ff 12.5%,#0048ff 18.8%,#005eff 25.0%,#0063ff 31.2%,#0085ff 37.5%,#009dff 43.8%,#00b8ff 50.0%,#00d6ff 56.2%,#0ef7e9 62.5%,#2dffca 68.8%,#50ffa6 75.0%,#69ff8d 81.2%,#88ff6f 87.5%,#a9ff4d 93.8%,#c2ff34 100.0%)"></div><div style="height:6px;background:linear-gradient(90deg,#0000cd 0.0%,#0000ff 6.2%,#002aff 12.5%,#0046ff 18.8%,#005aff 25.0%,#0071ff 31.2%,#0083ff 37.5%,#0097ff 43.8%,#00baff 50.0%,#00d5ff 56.2%,#0af2ed 62.5%,#28ffcf 68.8%,#46ffb0 75.0%,#62ff95 81.2%,#81ff76 87.5%,#a0ff57 93.8%,#bdff3a 100.0%)"></div><div style="height:6px;background:linear-gradient(90deg,#0000cd 0.0%,#0000ff 6.2%,#0023ff 12.5%,#0043ff 18.8%,#005aff 25.0%,#0065ff 31.2%,#0081ff 37.5%,#009bff 43.8%,#00b3ff 50.0%,#00d1ff 56.2%,#14fee3 62.5%,#22ffd5 68.8%,#43ffb3 75.0%,#60ff97 81.2%,#7cff7b 87.5%,#9cff5b 93.8%,#b6ff41 100.0%)"></div><div style="height:6px;background:linear-gradient(90deg,#0000d2 0.0%,#0000ff 6.2%,#0020ff 12.5%,#0045ff 18.8%,#005fff 25.0%,#0065ff 31.2%,#0087ff 37.5%,#009cff 43.8%,#00b8ff 50.0%,#00daff 56.2%,#11fae6 62.5%,#21ffd6 68.8%,#40ffb7 75.0%,#60ff96 81.2%,#81ff76 87.5%,#a1ff56 93.8%,#baff3d 100.0%)"></div><div style="height:6px;background:linear-gradient(90deg,#0000d1 0.0%,#0000ff 6.2%,#001cff 12.5%,#0046ff 18.8%,#0052ff 25.0%,#006bff 31.2%,#0088ff 37.5%,#009bff 43.8%,#00bdff 50.0%,#00d1ff 56.2%,#10f9e7 62.5%,#1cffda 68.8%,#41ffb5 75.0%,#5aff9d 81.2%,#73ff84 87.5%,#93ff64 93.8%,#b8ff3f 100.0%)"></div><div style="height:6px;background:linear-gradient(90deg,#0000d2 0.0%,#0000ff 6.2%,#0024ff 12.5%,#003aff 18.8%,#005fff 25.0%,#0074ff 31.2%,#0087ff 37.5%,#0093ff 43.8%,#00b5ff 50.0%,#00d8ff 56.2%,#09f1ed 62.5%,#1cffdb 68.8%,#35ffc2 75.0%,#51ffa6 81.2%,#76ff81 87.5%,#8eff69 93.8%,#adff4a 100.0%)"></div><div style="height:6px;background:linear-gradient(90deg,#0000d9 0.0%,#0000ff 6.2%,#001dff 12.5%,#0040ff 18.8%,#0056ff 25.0%,#0072ff 31.2%,#0084ff 37.5%,#0096ff 43.8%,#00bcff 50.0%,#00d8ff 56.2%,#00e6f7 62.5%,#1cffdb 68.8%,#31ffc5 75.0%,#55ffa2 81.2%,#6fff88 87.5%,#8bff6c 93.8%,#a6ff51 100.0%)"></div><div style="height:6px;background:linear-gradient(90deg,#0000d2 0.0%,#0000ff 6.2%,#001aff 12.5%,#003bff 18.8%,#0053ff 25.0%,#0070ff 31.2%,#0087ff 37.5%,#00a3ff 43.8%,#00b7ff 50.0%,#00d5ff 56.2%,#0af2ec 62.5%,#1affdd 68.8%,#31ffc6 75.0%,#4fffa8 81.2%,#6bff8c 87.5%,#8cff6a 93.8%,#a5ff51 100.0%)"></div><div style="height:6px;background:linear-gradient(90deg,#0000d4 0.0%,#0000ff 6.2%,#0022ff 12.5%,#003fff 18.8%,#0058ff 25.0%,#0073ff 31.2%,#0088ff 37.5%,#009aff 43.8%,#00bbff 50.0%,#00c6ff 56.2%,#02e8f4 62.5%,#1bffdb 68.8%,#33ffc4 75.0%,#47ffb0 81.2%,#6cff8a 87.5%,#85ff72 93.8%,#a6ff51 100.0%)"></div><div style="height:6px;background:linear-gradient(90deg,#0000d2 0.0%,#0000ff 6.2%,#0015ff 12.5%,#003bff 18.8%,#0061ff 25.0%,#0075ff 31.2%,#007eff 37.5%,#00a2ff 43.8%,#00b6ff 50.0%,#00d2ff 56.2%,#03e9f4 62.5%,#12fce5 68.8%,#25ffd1 75.0%,#4bffac 81.2%,#67ff90 87.5%,#80ff77 93.8%,#99ff5e 100.0%)"></div><div style="height:6px;background:linear-gradient(90deg,#0000d7 0.0%,#0000ff 6.2%,#0022ff 12.5%,#003dff 18.8%,#0062ff 25.0%,#0070ff 31.2%,#008dff 37.5%,#009cff 43.8%,#00b4ff 50.0%,#00c7ff 56.2%,#01e7f6 62.5%,#0ff8e8 68.8%,#2cffcb 75.0%,#46ffb1 81.2%,#5fff98 87.5%,#75ff81 93.8%,#94ff63 100.0%)"></div><div style="height:6px;background:linear-gradient(90deg,#0000d8 0.0%,#0000fe 6.2%,#001fff 12.5%,#0044ff 18.8%,#0055ff 25.0%,#006dff 31.2%,#0088ff 37.5%,#00a1ff 43.8%,#00afff 50.0%,#00c5ff 56.2%,#00defd 62.5%,#0ef6e9 68.8%,#22ffd5 75.0%,#45ffb2 81.2%,#5dff9a 87.5%,#74ff83 93.8%,#91ff66 100.0%)"></div><div style="height:6px;background:linear-gradient(90deg,#0000da 0.0%,#0000f9 6.2%,#001cff 12.5%,#0040ff 18.8%,#0065ff 25.0%,#0074ff 31.2%,#008eff 37.5%,#00a0ff 43.8%,#00acff 50.0%,#00c7ff 56.2%,#00e1fa 62.5%,#07eef0 68.8%,#1affdd 75.0%,#42ffb5 81.2%,#5dff9a 87.5%,#75ff82 93.8%,#89ff6e 100.0%)"></div><div style="height:6px;background:linear-gradient(90deg,#0000d6 0.0%,#0000ff 6.2%,#0013ff 12.5%,#0048ff 18.8%,#005dff 25.0%,#0076ff 31.2%,#0090ff 37.5%,#009bff 43.8%,#00b3ff 50.0%,#00c7ff 56.2%,#00d8ff 62.5%,#09f0ee 68.8%,#22ffd5 75.0%,#3affbd 81.2%,#50ffa7 87.5%,#71ff86 93.8%,#8cff6b 100.0%)"></div></div><div style="position:absolute;left:0;top:0;width:160px;height:216px;transform-origin:0 0;transform:matrix3d(0.55208912,-0.10729004,0,-8.0256363e-06,0.1864243,1.1901595,0,-0.00017272796,0,0,1,0,585,560.25,0,1)"><div style="height:6px;background:linear-gradient(90deg,#ffd400 0.0%,#ffb400 6.2%,#ff9600 12.5%,#ff7100 18.8%,#ff5a00 25.0%,#ff4700 31.2%,#ff2000 37.5%,#f80d00 43.8%,#d50000 50.0%,#c10000 56.2%,#a70000 62.5%,#800000 68.8%,#910000 75.0%,#960000 81.2%,#8c0000 87.5%,#900000 93.8%,#9d0000 100.0%)"></div><div style="height:6px;background:linear-gradient(90deg,#ffcc00 0.0%,#ffbb00 6.2%,#ff9000 12.5%,#ff8100 18.8%,#ff6400 25.0%,#ff4400 31.2%,#ff2300 37.5%,#fb1000 43.8%,#d60000 50.0%,#c20000 56.2%,#aa0000 62.5%,#930000 68.8%,#9a0000 75.0%,#a00000 81.2%,#a10000 87.5%,#990000 93.8%,#950000 100.0%)"></div><div style="height:6px;background:linear-gradient(90deg,#ffd100 0.0%,#ffb500 6.2%,#ff9900 12.5%,#ff7b00 18.8%,#ff6700 25.0%,#ff4700 31.2%,#ff3200 37.5%,#ff1300 43.8%,#e00000 50.0%,#c70000 56.2%,#b40000 62.5%,#910000 68.8%,#990000 75.0%,#9d0000 81.2%,#aa0000 87.5%,#a10000 93.8%,#a80000 100.0%)"></div><div style="height:6px;background:linear-gradient(90deg,#ffe100 0.0%,#ffbd00 6.2%,#ffa100 12.5%,#ff8100 18.8%,#ff6800 25.0%,#ff5200 31.2%,#ff2d00 37.5%,#ff2000 43.8%,#ee0500 50.0%,#d70000 56.2%,#bb0000 62.5%,#aa0000 68.8%,#9e0000 75.0%,#a80000 81.2%,#af0000 87.5%,#a50000 93.8%,#b00000 100.0%)"></div><div style="height:6px;background:linear-gradient(90deg,#ffe500 0.0%,#ffc000 6.2%,#ffa700 12.5%,#ff8000 18.8%,#ff6800 25.0%,#ff5600 31.2%,#ff3c00 37.5%,#ff2300 43.8%,#ea0200 50.0%,#de0000 56.2%,#c00000 62.5%,#ad0000 68.8%,#aa0000 75.0%,#ab0000 81.2%,#a80000 87.5%,#b40000 93.8%,#a80000 100.0%)"></div><div style="height:6px;background:linear-gradient(90deg,#ffe000 0.0%,#ffcc00 6.2%,#ffa400 12.5%,#ff8300 18.8%,#ff6900 25.0%,#ff5400 31.2%,#ff4400 37.5%,#ff1e00 43.8%,#ff1300 50.0%,#e00000 56.2%,#c20000 62.5%,#b20000 68.8%,#bb0000 75.0%,#b70000 81.2%,#ab0000 87.5%,#b90000 93.8%,#b00000 100.0%)"></div><div style="height:6px;background:linear-gradient(90deg,#fdee00 0.0%,#ffc600 6.2%,#ffb200 12.5%,#ff9400 18.8%,#ff6d00 25.0%,#ff5800 31.2%,#ff4600 37.5%,#ff2f00 43.8%,#f90e00 50.0%,#e80000 56.2%,#ce0000 62.5%,#c60000 68.8%,#bb0000 75.0%,#bd0000 81.2%,#be0000 87.5%,#bb0000 93.8%,#b50000 100.0%)"></div><div style="height:6px;background:linear-gradient(90deg,#ffe800 0.0%,#ffd000 6.2%,#ffad00 12.5%,#ff8f00 18.8%,#ff7c00 25.0%,#ff6400 31.2%,#ff4e00 37.5%,#ff3300 43.8%,#ff2100 50.0%,#f50a00 56.2%,#d40000 62.5%,#cb0000 68.8%,#c90000 75.0%,#c20000 81.2%,#c30000 87.5%,#b90000 93.8%,#b80000 100.0%)"></div><div style="height:6px;background:linear-gradient(90deg,#fbf100 0.0%,#ffcf00 6.2%,#ffb000 12.5%,#ff9000 18.8%,#ff7e00 25.0%,#ff6400 31.2%,#ff4700 37.5%,#ff3800 43.8%,#ff2600 50.0%,#fe1200 56.2%,#ed0500 62.5%,#cd0000 68.8%,#c70000 75.0%,#cc0000 81.2%,#cc0000 87.5%,#cb0000 93.8%,#c60000 100.0%)"></div><div style="height:6px;background:linear-gradient(90deg,#f2fb05 0.0%,#ffd400 6.2%,#ffb200 12.5%,#ff9600 18.8%,#ff8500 25.0%,#ff6700 31.2%,#ff5600 37.5%,#ff3700 43.8%,#ff2700 50.0%,#fb0f00 56.2%,#e90100 62.5%,#e30000 68.8%,#d90000 75.0%,#c70000 81.2%,#cc0000 87.5%,#ca0000 93.8%,#c70000 100.0%)"></div><div style="height:6px;background:linear-gradient(90deg,#f1fd06 0.0%,#ffdb00 6.2%,#ffbe00 12.5%,#ffa500 18.8%,#ff8500 25.0%,#ff6e00 31.2%,#ff5600 37.5%,#ff3c00 43.8%,#ff2e00 50.0%,#ff1500 56.2%,#f20800 62.5%,#de0000 68.8%,#da0000 75.0%,#d30000 81.2%,#d00000 87.5%,#c80000 93.8%,#cd0000 100.0%)"></div><div style="height:6px;background:linear-gradient(90deg,#f6f601 0.0%,#ffe300 6.2%,#ffbe00 12.5%,#ff9e00 18.8%,#ff8a00 25.0%,#ff7700 31.2%,#ff5900 37.5%,#ff4000 43.8%,#ff2c00 50.0%,#ff2000 56.2%,#ff1500 62.5%,#f10700 68.8%,#e50000 75.0%,#d50000 81.2%,#db0000 87.5%,#d80000 93.8%,#ce0000 100.0%)"></div><div style="height:6px;background:linear-gradient(90deg,#e8ff0f 0.0%,#ffe300 6.2%,#ffc300 12.5%,#ffa700 18.8%,#ff8f00 25.0%,#ff7300 31.2%,#ff6100 37.5%,#ff4800 43.8%,#ff3800 50.0%,#ff2300 56.2%,#ff1500 62.5%,#ff1400 68.8%,#e90100 75.0%,#df0000 81.2%,#e10000 87.5%,#e00000 93.8%,#d50000 100.0%)"></div><div style="height:6px;background:linear-gradient(90deg,#edff0a 0.0%,#ffe700 6.2%,#ffc600 12.5%,#ffa300 18.8%,#ff8b00 25.0%,#ff7700 31.2%,#ff6b00 37.5%,#ff5700 43.8%,#ff3a00 50.0%,#ff3200 56.2%,#ff1d00 62.5%,#fc1100 68.8%,#ef0600 75.0%,#ed0400 81.2%,#da0000 87.5%,#da0000 93.8%,#d20000 100.0%)"></div><div style="height:6px;background:linear-gradient(90deg,#e3ff14 0.0%,#ffea00 6.2%,#ffc800 12.5%,#ffb300 18.8%,#ff9100 25.0%,#ff7a00 31.2%,#ff7100 37.5%,#ff5100 43.8%,#ff4500 50.0%,#ff3700 56.2%,#ff2800 62.5%,#ff1900 68.8%,#ff1900 75.0%,#f10800 81.2%,#f20800 87.5%,#e60000 93.8%,#e10000 100.0%)"></div><div style="height:6px;background:linear-gradient(90deg,#deff19 0.0%,#f8f400 6.2%,#ffd700 12.5%,#ffad00 18.8%,#ff9300 25.0%,#ff8900 31.2%,#ff7500 37.5%,#ff5600 43.8%,#ff4900 50.0%,#ff3800 56.2%,#ff3800 62.5%,#ff2400 68.8%,#ff1f00 75.0%,#f40a00 81.2%,#ed0500 87.5%,#e70000 93.8%,#e90100 100.0%)"></div><div style="height:6px;background:linear-gradient(90deg,#e1ff16 0.0%,#fdee00 6.2%,#ffd700 12.5%,#ffbb00 18.8%,#ff9c00 25.0%,#ff8700 31.2%,#ff6c00 37.5%,#ff6300 43.8%,#ff4c00 50.0%,#ff3f00 56.2%,#ff2e00 62.5%,#ff2f00 68.8%,#ff1a00 75.0%,#ff1500 81.2%,#fe1200 87.5%,#ee0500 93.8%,#e50000 100.0%)"></div><div style="height:6px;background:linear-gradient(90deg,#dbff1c 0.0%,#faf200 6.2%,#ffdb00 12.5%,#ffb500 18.8%,#ff9c00 25.0%,#ff8f00 31.2%,#ff7c00 37.5%,#ff5c00 43.8%,#ff5200 50.0%,#ff4600 56.2%,#ff3300 62.5%,#ff2c00 68.8%,#ff2300 75.0%,#ff1b00 81.2%,#f90e00 87.5%,#fd1100 93.8%,#f30900 100.0%)"></div><div style="height:6px;background:linear-gradient(90deg,#d7ff20 0.0%,#eeff09 6.2%,#ffda00 12.5%,#ffbd00 18.8%,#ff9e00 25.0%,#ff8b00 31.2%,#ff7500 37.5%,#ff6c00 43.8%,#ff5600 50.0%,#ff5100 56.2%,#ff3900 62.5%,#ff2d00 68.8%,#ff2200 75.0%,#ff2400 81.2%,#ff1700 87.5%,#ff1400 93.8%,#ff1500 100.0%)"></div><div style="height:6px;background:linear-gradient(90deg,#ccff2a 0.0%,#e6ff10 6.2%,#ffe400 12.5%,#ffc800 18.8%,#ffa700 25.0%,#ff9700 31.2%,#ff8100 37.5%,#ff7300 43.8%,#ff5b00 50.0%,#ff5100 56.2%,#ff3e00 62.5%,#ff3700 68.8%,#ff3100 75.0%,#ff1c00 81.2%,#ff1700 87.5%,#ff1600 93.8%,#ff1a00 100.0%)"></div><div style="height:6px;background:linear-gradient(90deg,#cfff27 0.0%,#e8ff0f 6.2%,#ffe200 12.5%,#ffc700 18.8%,#ffa300 25.0%,#ff9300 31.2%,#ff8000 37.5%,#ff7400 43.8%,#ff5f00 50.0%,#ff5300 56.2%,#ff4000 62.5%,#ff3e00 68.8%,#ff3400 75.0%,#ff2300 81.2%,#ff2900 87.5%,#ff1f00 93.8%,#ff2000 100.0%)"></div><div style="height:6px;background:linear-gradient(90deg,#c4ff32 0.0%,#e8ff0f 6.2%,#ffeb00 12.5%,#ffcc00 18.8%,#ffae00 25.0%,#ff9400 31.2%,#ff8300 37.5%,#ff7400 43.8%,#ff6000 50.0%,#ff5400 56.2%,#ff4b00 62.5%,#ff3f00 68.8%,#ff3b00 75.0%,#ff2e00 81.2%,#ff2300 87.5%,#ff2800 93.8%,#ff2400 100.0%)"></div><div style="height:6px;background:linear-gradient(90deg,#c2ff34 0.0%,#e1ff16 6.2%,#fcf000 12.5%,#ffd200 18.8%,#ffb900 25.0%,#ff9800 31.2%,#ff8600 37.5%,#ff7b00 43.8%,#ff6700 50.0%,#ff5900 56.2%,#ff4d00 62.5%,#ff3c00 68.8%,#ff3600 75.0%,#ff3600 81.2%,#ff3100 87.5%,#ff2a00 93.8%,#ff2d00 100.0%)"></div><div style="height:6px;background:linear-gradient(90deg,#bdff3a 0.0%,#e1ff16 6.2%,#f8f400 12.5%,#ffcd00 18.8%,#ffb300 25.0%,#ffa000 31.2%,#ff8f00 37.5%,#ff7d00 43.8%,#ff6e00 50.0%,#ff5c00 56.2%,#ff4c00 62.5%,#ff4100 68.8%,#ff4200 75.0%,#ff3d00 81.2%,#ff3b00 87.5%,#ff3000 93.8%,#ff3300 100.0%)"></div><div style="height:6px;background:linear-gradient(90deg,#b6ff41 0.0%,#d6ff21 6.2%,#faf200 12.5%,#ffdd00 18.8%,#ffbd00 25.0%,#ffa200 31.2%,#ff8e00 37.5%,#ff8600 43.8%,#ff7300 50.0%,#ff6500 56.2%,#ff4f00 62.5%,#ff4b00 68.8%,#ff4700 75.0%,#ff3e00 81.2%,#ff3a00 87.5%,#ff3d00 93.8%,#ff3200 100.0%)"></div><div style="height:6px;background:linear-gradient(90deg,#baff3d 0.0%,#d7ff20 6.2%,#ebff0c 12.5%,#ffdc00 18.8%,#ffb900 25.0%,#ffa200 31.2%,#ff8f00 37.5%,#ff8500 43.8%,#ff6f00 50.0%,#ff6600 56.2%,#ff5700 62.5%,#ff4c00 68.8%,#ff4300 75.0%,#ff4000 81.2%,#ff3800 87.5%,#ff3d00 93.8%,#ff3b00 100.0%)"></div><div style="height:6px;background:linear-gradient(90deg,#b8ff3f 0.0%,#d1ff25 6.2%,#f0fe07 12.5%,#ffda00 18.8%,#ffcb00 25.0%,#ffb000 31.2%,#ff9800 37.5%,#ff8100 43.8%,#ff7100 50.0%,#ff7000 56.2%,#ff5600 62.5%,#ff5100 68.8%,#ff5000 75.0%,#ff4e00 81.2%,#ff4600 87.5%,#ff4300 93.8%,#ff4200 100.0%)"></div><div style="height:6px;background:linear-gradient(90deg,#adff4a 0.0%,#cfff27 6.2%,#eeff09 12.5%,#ffe300 18.8%,#ffc300 25.0%,#ffb700 31.2%,#ff9400 37.5%,#ff8500 43.8%,#ff7c00 50.0%,#ff6900 56.2%,#ff6400 62.5%,#ff4f00 68.8%,#ff5400 75.0%,#ff4700 81.2%,#ff4600 87.5%,#ff4300 93.8%,#ff4400 100.0%)"></div><div style="height:6px;background:linear-gradient(90deg,#a6ff51 0.0%,#c7ff2f 6.2%,#e5ff12 12.5%,#ffe800 18.8%,#ffc900 25.0%,#ffb500 31.2%,#ff9800 37.5%,#ff9000 43.8%,#ff7b00 50.0%,#ff6c00 56.2%,#ff6300 62.5%,#ff5900 68.8%,#ff5200 75.0%,#ff5000 81.2%,#ff5500 87.5%,#ff5000 93.8%,#ff5300 100.0%)"></div><div style="height:6px;background:linear-gradient(90deg,#a5ff51 0.0%,#bdff3a 6.2%,#e7ff10 12.5%,#ffeb00 18.8%,#ffcc00 25.0%,#ffb800 31.2%,#ffa100 37.5%,#ff9200 43.8%,#ff8a00 50.0%,#ff7c00 56.2%,#ff6600 62.5%,#ff6000 68.8%,#ff6100 75.0%,#ff5300 81.2%,#ff5300 87.5%,#ff5100 93.8%,#ff5600 100.0%)"></div><div style="height:6px;background:linear-gradient(90deg,#a6ff51 0.0%,#bbff3b 6.2%,#dfff18 12.5%,#feee00 18.8%,#ffcd00 25.0%,#ffbf00 31.2%,#ffa800 37.5%,#ff9d00 43.8%,#ff8500 50.0%,#ff8100 56.2%,#ff6800 62.5%,#ff6800 68.8%,#ff6500 75.0%,#ff5700 81.2%,#ff5c00 87.5%,#ff5700 93.8%,#ff5d00 100.0%)"></div><div style="height:6px;background:linear-gradient(90deg,#99ff5e 0.0%,#b8ff3f 6.2%,#dfff18 12.5%,#f8f500 18.8%,#ffdd00 25.0%,#ffba00 31.2%,#ffa300 37.5%,#ffa000 43.8%,#ff9100 50.0%,#ff7b00 56.2%,#ff7300 62.5%,#ff6700 68.8%,#ff6200 75.0%,#ff6600 81.2%,#ff6000 87.5%,#ff6600 93.8%,#ff6500 100.0%)"></div><div style="height:6px;background:linear-gradient(90deg,#94ff63 0.0%,#b4ff43 6.2%,#d3ff24 12.5%,#f6f701 18.8%,#ffe400 25.0%,#ffc600 31.2%,#ffa800 37.5%,#ff9800 43.8%,#ff8e00 50.0%,#ff8000 56.2%,#ff7400 62.5%,#ff6300 68.8%,#ff6500 75.0%,#ff6900 81.2%,#ff6800 87.5%,#ff6100 93.8%,#ff6600 100.0%)"></div><div style="height:6px;background:linear-gradient(90deg,#91ff66 0.0%,#b1ff46 6.2%,#ccff2a 12.5%,#effe07 18.8%,#ffe700 25.0%,#ffc700 31.2%,#ffac00 37.5%,#ff9d00 43.8%,#ff9300 50.0%,#ff8900 56.2%,#ff7800 62.5%,#ff6e00 68.8%,#ff7300 75.0%,#ff6d00 81.2%,#ff6d00 87.5%,#ff7200 93.8%,#ff6e00 100.0%)"></div><div style="height:6px;background:linear-gradient(90deg,#89ff6e 0.0%,#afff47 6.2%,#d3ff23 12.5%,#f1fc06 18.8%,#ffe200 25.0%,#ffce00 31.2%,#ffb300 37.5%,#ffa000 43.8%,#ff9900 50.0%,#ff9100 56.2%,#ff8200 62.5%,#ff6c00 68.8%,#ff7000 75.0%,#ff6c00 81.2%,#ff7800 87.5%,#ff7900 93.8%,#ff7000 100.0%)"></div><div style="height:6px;background:linear-gradient(90deg,#8cff6b 0.0%,#a7ff50 6.2%,#cbff2b 12.5%,#e8ff0f 18.8%,#ffe500 25.0%,#ffd300 31.2%,#ffb400 37.5%,#ffae00 43.8%,#ffa200 50.0%,#ff9200 56.2%,#ff8700 62.5%,#ff7100 68.8%,#ff7000 75.0%,#ff7a00 81.2%,#ff7d00 87.5%,#ff7300 93.8%,#ff7400 100.0%)"></div></div><div style="position:absolute;left:0;top:0;width:160px;height:216px;transform-origin:0 0;transform:matrix3d(0.55168973,-0.10378349,0,-7.6230307e-06,0.18681916,1.1918474,0,-0.00017273367,0,0,1,0,673,544,0,1)"><div style="height:6px;background:linear-gradient(90deg,#9d0000 0.0%,#930000 6.2%,#950000 12.5%,#a70000 18.8%,#c90000 25.0%,#d50000 31.2%,#f10800 37.5%,#ff1f00 43.8%,#ff3c00 50.0%,#ff6000 56.2%,#ff7a00 62.5%,#ffa800 68.8%,#ffd400 75.0%,#efff08 81.2%,#d1ff25 87.5%,#b5ff42 93.8%,#8bff6b 100.0%)"></div><div style="height:6px;background:linear-gradient(90deg,#950000 0.0%,#a60000 6.2%,#a40000 12.5%,#a70000 18.8%,#c80000 25.0%,#e40000 31.2%,#ff1300 37.5%,#ff2900 43.8%,#ff4100 50.0%,#ff6100 56.2%,#ff7c00 62.5%,#ffad00 68.8%,#ffca00 75.0%,#edff0a 81.2%,#d3ff24 87.5%,#b7ff40 93.8%,#8cff6a 100.0%)"></div><div style="height:6px;background:linear-gradient(90deg,#a80000 0.0%,#a10000 6.2%,#a20000 12.5%,#af0000 18.8%,#cc0000 25.0%,#e20000 31.2%,#ff1500 37.5%,#ff2c00 43.8%,#ff4600 50.0%,#ff5f00 56.2%,#ff8100 62.5%,#ffa400 68.8%,#ffcd00 75.0%,#f4f903 81.2%,#d8ff1f 87.5%,#b7ff3f 93.8%,#91ff66 100.0%)"></div><div style="height:6px;background:linear-gradient(90deg,#b00000 0.0%,#a80000 6.2%,#aa0000 12.5%,#ba0000 18.8%,#cb0000 25.0%,#e60000 31.2%,#ff1800 37.5%,#ff2d00 43.8%,#ff4b00 50.0%,#ff6a00 56.2%,#ff8800 62.5%,#ffab00 68.8%,#ffd400 75.0%,#f6f601 81.2%,#d6ff20 87.5%,#b2ff45 93.8%,#8eff68 100.0%)"></div><div style="height:6px;background:linear-gradient(90deg,#a80000 0.0%,#b10000 6.2%,#ac0000 12.5%,#c40000 18.8%,#dd0000 25.0%,#f10700 31.2%,#ff1c00 37.5%,#ff3800 43.8%,#ff4d00 50.0%,#ff6a00 56.2%,#ff8e00 62.5%,#ffb300 68.8%,#ffd800 75.0%,#f4f903 81.2%,#d4ff23 87.5%,#b0ff47 93.8%,#89ff6d 100.0%)"></div><div style="height:6px;background:linear-gradient(90deg,#b00000 0.0%,#b30000 6.2%,#b90000 12.5%,#c40000 18.8%,#e70000 25.0%,#fd1200 31.2%,#ff2100 37.5%,#ff4000 43.8%,#ff5b00 50.0%,#ff6d00 56.2%,#ff8700 62.5%,#ffac00 68.8%,#ffdf00 75.0%,#ecff0a 81.2%,#cbff2b 87.5%,#b0ff47 93.8%,#8fff68 100.0%)"></div><div style="height:6px;background:linear-gradient(90deg,#b50000 0.0%,#b90000 6.2%,#ba0000 12.5%,#d30000 18.8%,#dd0000 25.0%,#f80d00 31.2%,#ff1f00 37.5%,#ff3f00 43.8%,#ff5200 50.0%,#ff7200 56.2%,#ff8d00 62.5%,#ffb400 68.8%,#ffd800 75.0%,#eaff0c 81.2%,#c7ff30 87.5%,#a7ff50 93.8%,#8bff6c 100.0%)"></div><div style="height:6px;background:linear-gradient(90deg,#b80000 0.0%,#c10000 6.2%,#c30000 12.5%,#cf0000 18.8%,#e10000 25.0%,#fd1100 31.2%,#ff2900 37.5%,#ff3a00 43.8%,#ff6300 50.0%,#ff7c00 56.2%,#ff8e00 62.5%,#ffba00 68.8%,#ffe500 75.0%,#ebff0c 81.2%,#d2ff25 87.5%,#adff4a 93.8%,#8cff6b 100.0%)"></div><div style="height:6px;background:linear-gradient(90deg,#c60000 0.0%,#c60000 6.2%,#c50000 12.5%,#d60000 18.8%,#f30900 25.0%,#ff1e00 31.2%,#ff2900 37.5%,#ff4c00 43.8%,#ff6400 50.0%,#ff7c00 56.2%,#ff9800 62.5%,#ffc100 68.8%,#ffe200 75.0%,#e6ff10 81.2%,#cdff29 87.5%,#acff4b 93.8%,#93ff64 100.0%)"></div><div style="height:6px;background:linear-gradient(90deg,#c70000 0.0%,#be0000 6.2%,#c10000 12.5%,#dd0000 18.8%,#eb0200 25.0%,#ff1a00 31.2%,#ff3600 37.5%,#ff4500 43.8%,#ff6400 50.0%,#ff8300 56.2%,#ff9300 62.5%,#ffc500 68.8%,#ffe200 75.0%,#e7ff10 81.2%,#ceff29 87.5%,#a9ff4e 93.8%,#89ff6d 100.0%)"></div><div style="height:6px;background:linear-gradient(90deg,#cd0000 0.0%,#c60000 6.2%,#cc0000 12.5%,#e30000 18.8%,#fd1100 25.0%,#ff2600 31.2%,#ff3a00 37.5%,#ff4f00 43.8%,#ff6500 50.0%,#ff7c00 56.2%,#ff9a00 62.5%,#ffc400 68.8%,#ffdf00 75.0%,#e3ff14 81.2%,#caff2c 87.5%,#a4ff53 93.8%,#90ff67 100.0%)"></div><div style="height:6px;background:linear-gradient(90deg,#ce0000 0.0%,#c30000 6.2%,#db0000 12.5%,#f10800 18.8%,#ff1800 25.0%,#ff2300 31.2%,#ff3700 37.5%,#ff5600 43.8%,#ff6f00 50.0%,#ff8200 56.2%,#ff9f00 62.5%,#ffc200 68.8%,#ffe400 75.0%,#deff18 81.2%,#c6ff31 87.5%,#adff4a 93.8%,#92ff65 100.0%)"></div><div style="height:6px;background:linear-gradient(90deg,#d50000 0.0%,#d30000 6.2%,#d60000 12.5%,#e70000 18.8%,#ff1800 25.0%,#ff2b00 31.2%,#ff3d00 37.5%,#ff5200 43.8%,#ff6900 50.0%,#ff8600 56.2%,#ffa800 62.5%,#ffca00 68.8%,#ffe400 75.0%,#e3ff14 81.2%,#bfff38 87.5%,#a6ff51 93.8%,#88ff6f 100.0%)"></div><div style="height:6px;background:linear-gradient(90deg,#d20000 0.0%,#db0000 6.2%,#db0000 12.5%,#f60b00 18.8%,#ff1400 25.0%,#ff2400 31.2%,#ff4500 37.5%,#ff5a00 43.8%,#ff7500 50.0%,#ff8b00 56.2%,#ffac00 62.5%,#ffc800 68.8%,#faf200 75.0%,#ddff1a 81.2%,#c3ff34 87.5%,#a1ff56 93.8%,#89ff6d 100.0%)"></div><div style="height:6px;background:linear-gradient(90deg,#e10000 0.0%,#e20000 6.2%,#ea0200 12.5%,#fb1000 18.8%,#ff1d00 25.0%,#ff2900 31.2%,#ff4700 37.5%,#ff5c00 43.8%,#ff7200 50.0%,#ff8700 56.2%,#ffa600 62.5%,#ffc600 68.8%,#fbf100 75.0%,#dbff1b 81.2%,#c8ff2f 87.5%,#a0ff57 93.8%,#8aff6d 100.0%)"></div><div style="height:6px;background:linear-gradient(90deg,#e90100 0.0%,#d50000 6.2%,#f30900 12.5%,#ff1a00 18.8%,#ff2100 25.0%,#ff3a00 31.2%,#ff5000 37.5%,#ff6100 43.8%,#ff7600 50.0%,#ff8b00 56.2%,#ffae00 62.5%,#ffd700 68.8%,#fdee00 75.0%,#e3ff14 81.2%,#bcff3b 87.5%,#a7ff4f 93.8%,#87ff70 100.0%)"></div><div style="height:6px;background:linear-gradient(90deg,#e50000 0.0%,#e40000 6.2%,#fb1000 12.5%,#fd1100 18.8%,#ff2900 25.0%,#ff3600 31.2%,#ff4900 37.5%,#ff6800 43.8%,#ff7e00 50.0%,#ff9800 56.2%,#ffbb00 62.5%,#ffdc00 68.8%,#faf200 75.0%,#d9ff1e 81.2%,#c1ff35 87.5%,#9aff5d 93.8%,#83ff74 100.0%)"></div><div style="height:6px;background:linear-gradient(90deg,#f30900 0.0%,#e90100 6.2%,#f80e00 12.5%,#ff2300 18.8%,#ff3000 25.0%,#ff3900 31.2%,#ff4d00 37.5%,#ff6e00 43.8%,#ff7900 50.0%,#ff9f00 56.2%,#ffbf00 62.5%,#ffe000 68.8%,#f2fb05 75.0%,#d7ff20 81.2%,#bdff3a 87.5%,#97ff60 93.8%,#84ff73 100.0%)"></div><div style="height:6px;background:linear-gradient(90deg,#ff1500 0.0%,#fb1000 6.2%,#f90e00 12.5%,#ff1d00 18.8%,#ff3400 25.0%,#ff3b00 31.2%,#ff5200 37.5%,#ff6e00 43.8%,#ff8200 50.0%,#ffa200 56.2%,#ffc100 62.5%,#ffe600 68.8%,#f0fd07 75.0%,#d2ff25 81.2%,#b7ff40 87.5%,#97ff60 93.8%,#7cff7b 100.0%)"></div><div style="height:6px;background:linear-gradient(90deg,#ff1a00 0.0%,#ff1300 6.2%,#ff1c00 12.5%,#ff2900 18.8%,#ff3b00 25.0%,#ff4400 31.2%,#ff5400 37.5%,#ff6d00 43.8%,#ff8300 50.0%,#ffa000 56.2%,#ffbe00 62.5%,#ffde00 68.8%,#effe07 75.0%,#d0ff27 81.2%,#aeff49 87.5%,#95ff62 93.8%,#7aff7d 100.0%)"></div><div style="height:6px;background:linear-gradient(90deg,#ff2000 0.0%,#ff1600 6.2%,#ff1f00 12.5%,#ff3300 18.8%,#ff3500 25.0%,#ff4900 31.2%,#ff5e00 37.5%,#ff6e00 43.8%,#ff8800 50.0%,#ffa900 56.2%,#ffc400 62.5%,#feee00 68.8%,#e6ff11 75.0%,#c2ff35 81.2%,#acff4a 87.5%,#93ff63 93.8%,#75ff81 100.0%)"></div><div style="height:6px;background:linear-gradient(90deg,#ff2400 0.0%,#ff1d00 6.2%,#ff2500 12.5%,#ff3600 18.8%,#ff3d00 25.0%,#ff4800 31.2%,#ff6600 37.5%,#ff7d00 43.8%,#ff8d00 50.0%,#ffa500 56.2%,#ffd200 62.5%,#f9f300 68.8%,#e3ff14 75.0%,#c0ff36 81.2%,#a8ff4f 87.5%,#83ff73 93.8%,#6fff88 100.0%)"></div><div style="height:6px;background:linear-gradient(90deg,#ff2d00 0.0%,#ff1f00 6.2%,#ff3300 12.5%,#ff3700 18.8%,#ff4400 25.0%,#ff4f00 31.2%,#ff6a00 37.5%,#ff7f00 43.8%,#ff8d00 50.0%,#ffab00 56.2%,#ffd400 62.5%,#faf200 68.8%,#d7ff20 75.0%,#baff3d 81.2%,#9dff59 87.5%,#8cff6b 93.8%,#68ff8e 100.0%)"></div><div style="height:6px;background:linear-gradient(90deg,#ff3300 0.0%,#ff3300 6.2%,#ff3500 12.5%,#ff4000 18.8%,#ff4900 25.0%,#ff5100 31.2%,#ff6600 37.5%,#ff8100 43.8%,#ff9500 50.0%,#ffb800 56.2%,#ffcd00 62.5%,#f1fc05 68.8%,#daff1d 75.0%,#bdff3a 81.2%,#a0ff57 87.5%,#81ff76 93.8%,#6bff8c 100.0%)"></div><div style="height:6px;background:linear-gradient(90deg,#ff3200 0.0%,#ff2f00 6.2%,#ff3900 12.5%,#ff4000 18.8%,#ff4500 25.0%,#ff5100 31.2%,#ff6900 37.5%,#ff8900 43.8%,#ff9c00 50.0%,#ffb500 56.2%,#ffdb00 62.5%,#f5f802 68.8%,#d3ff24 75.0%,#b7ff40 81.2%,#9aff5d 87.5%,#7fff78 93.8%,#67ff8f 100.0%)"></div><div style="height:6px;background:linear-gradient(90deg,#ff3b00 0.0%,#ff3600 6.2%,#ff3d00 12.5%,#ff4c00 18.8%,#ff4600 25.0%,#ff5f00 31.2%,#ff6e00 37.5%,#ff8c00 43.8%,#ffa500 50.0%,#ffb600 56.2%,#ffe000 62.5%,#ecff0b 68.8%,#d4ff23 75.0%,#aeff49 81.2%,#96ff61 87.5%,#79ff7e 93.8%,#63ff94 100.0%)"></div><div style="height:6px;background:linear-gradient(90deg,#ff4200 0.0%,#ff4200 6.2%,#ff3d00 12.5%,#ff4b00 18.8%,#ff5400 25.0%,#ff5c00 31.2%,#ff7600 37.5%,#ff8a00 43.8%,#ffab00 50.0%,#ffc400 56.2%,#ffd900 62.5%,#ecff0b 68.8%,#ccff2b 75.0%,#afff48 81.2%,#92ff65 87.5%,#74ff83 93.8%,#57ffa0 100.0%)"></div><div style="height:6px;background:linear-gradient(90deg,#ff4400 0.0%,#ff4c00 6.2%,#ff4d00 12.5%,#ff4d00 18.8%,#ff4f00 25.0%,#ff6100 31.2%,#ff7d00 37.5%,#ff8f00 43.8%,#ffab00 50.0%,#ffca00 56.2%,#ffe900 62.5%,#e6ff10 68.8%,#c6ff31 75.0%,#a5ff52 81.2%,#8aff6d 87.5%,#75ff82 93.8%,#56ffa1 100.0%)"></div><div style="height:6px;background:linear-gradient(90deg,#ff5300 0.0%,#ff5400 6.2%,#ff4d00 12.5%,#ff5700 18.8%,#ff5d00 25.0%,#ff6f00 31.2%,#ff8100 37.5%,#ff8e00 43.8%,#ffaf00 50.0%,#ffca00 56.2%,#ffe700 62.5%,#e8ff0f 68.8%,#c6ff31 75.0%,#a0ff57 81.2%,#8dff6a 87.5%,#67ff90 93.8%,#51ffa6 100.0%)"></div><div style="height:6px;background:linear-gradient(90deg,#ff5600 0.0%,#ff5800 6.2%,#ff5200 12.5%,#ff5e00 18.8%,#ff5b00 25.0%,#ff6900 31.2%,#ff8100 37.5%,#ff9c00 43.8%,#ffaf00 50.0%,#ffc900 56.2%,#ffec00 62.5%,#e5ff12 68.8%,#bbff3c 75.0%,#a2ff55 81.2%,#81ff76 87.5%,#67ff8f 93.8%,#49ffae 100.0%)"></div><div style="height:6px;background:linear-gradient(90deg,#ff5d00 0.0%,#ff5d00 6.2%,#ff5e00 12.5%,#ff5700 18.8%,#ff6700 25.0%,#ff6a00 31.2%,#ff7b00 37.5%,#ff9500 43.8%,#ffb800 50.0%,#ffce00 56.2%,#ffec00 62.5%,#dbff1b 68.8%,#b7ff40 75.0%,#9cff5b 81.2%,#83ff74 87.5%,#63ff94 93.8%,#43ffb4 100.0%)"></div><div style="height:6px;background:linear-gradient(90deg,#ff6500 0.0%,#ff5f00 6.2%,#ff6300 12.5%,#ff5e00 18.8%,#ff6b00 25.0%,#ff6e00 31.2%,#ff8800 37.5%,#ff9e00 43.8%,#ffbf00 50.0%,#ffd900 56.2%,#fcef00 62.5%,#d4ff23 68.8%,#bbff3c 75.0%,#9cff5b 81.2%,#7bff7c 87.5%,#59ff9d 93.8%,#42ffb5 100.0%)"></div><div style="height:6px;background:linear-gradient(90deg,#ff6600 0.0%,#ff6500 6.2%,#ff6a00 12.5%,#ff6600 18.8%,#ff6a00 25.0%,#ff7100 31.2%,#ff8100 37.5%,#ff9800 43.8%,#ffb600 50.0%,#ffe100 56.2%,#edff0a 62.5%,#d0ff27 68.8%,#b6ff41 75.0%,#92ff65 81.2%,#71ff86 87.5%,#54ffa3 93.8%,#3bffbc 100.0%)"></div><div style="height:6px;background:linear-gradient(90deg,#ff6e00 0.0%,#ff6800 6.2%,#ff6b00 12.5%,#ff7000 18.8%,#ff7200 25.0%,#ff7a00 31.2%,#ff8b00 37.5%,#ffa600 43.8%,#ffc100 50.0%,#ffe000 56.2%,#f0fd07 62.5%,#d3ff24 68.8%,#acff4b 75.0%,#8dff69 81.2%,#70ff86 87.5%,#57ffa0 93.8%,#37ffc0 100.0%)"></div><div style="height:6px;background:linear-gradient(90deg,#ff7000 0.0%,#ff7400 6.2%,#ff7400 12.5%,#ff7700 18.8%,#ff6f00 25.0%,#ff7c00 31.2%,#ff8c00 37.5%,#ffa700 43.8%,#ffc500 50.0%,#ffe400 56.2%,#eaff0d 62.5%,#c8ff2f 68.8%,#a9ff4e 75.0%,#8eff68 81.2%,#6fff88 87.5%,#4bffab 93.8%,#38ffbf 100.0%)"></div><div style="height:6px;background:linear-gradient(90deg,#ff7400 0.0%,#ff7e00 6.2%,#ff7c00 12.5%,#ff7800 18.8%,#ff7c00 25.0%,#ff8800 31.2%,#ff9500 37.5%,#ffb000 43.8%,#ffce00 50.0%,#ffe600 56.2%,#e4ff13 62.5%,#cbff2b 68.8%,#abff4c 75.0%,#86ff71 81.2%,#64ff93 87.5%,#4fffa7 93.8%,#2fffc8 100.0%)"></div></div><div style="position:absolute;left:0;top:0;width:160px;height:216px;transform-origin:0 0;transform:matrix3d(0.54394924,-0.098968612,0,-7.126924e-06,0.18719379,1.1934302,0,-0.00017276244,0,0,1,0,761,528.25,0,1)"><div style="height:6px;background:linear-gradient(90deg,#8bff6b 0.0%,#6eff88 6.2%,#3fffb8 12.5%,#14ffe2 18.8%,#00dcfe 25.0%,#00b5ff 31.2%,#0092ff 37.5%,#007bff 43.8%,#0068ff 50.0%,#0045ff 56.2%,#003aff 62.5%,#0016ff 68.8%,#000dff 75.0%,#0000ff 81.2%,#0000e3 87.5%,#0000d8 93.8%,#0000b7 100.0%)"></div><div style="height:6px;background:linear-gradient(90deg,#8cff6a 0.0%,#70ff87 6.2%,#49ffae 12.5%,#1cffdb 18.8%,#00e0fb 25.0%,#00b3ff 31.2%,#0098ff 37.5%,#0079ff 43.8%,#006dff 50.0%,#004bff 56.2%,#0033ff 62.5%,#0027ff 68.8%,#000fff 75.0%,#0000ff 81.2%,#0000eb 87.5%,#0000d2 93.8%,#0000be 100.0%)"></div><div style="height:6px;background:linear-gradient(90deg,#91ff66 0.0%,#6dff89 6.2%,#41ffb6 12.5%,#21ffd5 18.8%,#01e7f6 25.0%,#00beff 31.2%,#00a1ff 37.5%,#0085ff 43.8%,#006dff 50.0%,#004bff 56.2%,#003aff 62.5%,#0021ff 68.8%,#000dff 75.0%,#0000ff 81.2%,#0000ee 87.5%,#0000d7 93.8%,#0000bc 100.0%)"></div><div style="height:6px;background:linear-gradient(90deg,#8eff68 0.0%,#73ff84 6.2%,#40ffb7 12.5%,#1bffdc 18.8%,#00e6f7 25.0%,#00c5ff 31.2%,#009cff 37.5%,#0087ff 43.8%,#0072ff 50.0%,#0050ff 56.2%,#0036ff 62.5%,#001cff 68.8%,#0008ff 75.0%,#0000ff 81.2%,#0000e9 87.5%,#0000da 93.8%,#0000c1 100.0%)"></div><div style="height:6px;background:linear-gradient(90deg,#89ff6d 0.0%,#72ff85 6.2%,#48ffaf 12.5%,#24ffd3 18.8%,#06ecf1 25.0%,#00c9ff 31.2%,#00a5ff 37.5%,#008fff 43.8%,#006cff 50.0%,#0052ff 56.2%,#003fff 62.5%,#001dff 68.8%,#0008ff 75.0%,#0000ff 81.2%,#0000e3 87.5%,#0000d8 93.8%,#0000bd 100.0%)"></div><div style="height:6px;background:linear-gradient(90deg,#8fff68 0.0%,#74ff83 6.2%,#49ffae 12.5%,#20ffd6 18.8%,#09f1ee 25.0%,#00c6ff 31.2%,#00acff 37.5%,#008cff 43.8%,#0077ff 50.0%,#0056ff 56.2%,#003dff 62.5%,#001fff 68.8%,#000dff 75.0%,#0000ff 81.2%,#0000ef 87.5%,#0000d2 93.8%,#0000b3 100.0%)"></div><div style="height:6px;background:linear-gradient(90deg,#8bff6c 0.0%,#69ff8e 6.2%,#51ffa5 12.5%,#29ffce 18.8%,#0df6e9 25.0%,#00c8ff 31.2%,#00aeff 37.5%,#0095ff 43.8%,#0075ff 50.0%,#0056ff 56.2%,#003cff 62.5%,#001eff 68.8%,#0007ff 75.0%,#0000ff 81.2%,#0000e8 87.5%,#0000cf 93.8%,#0000c1 100.0%)"></div><div style="height:6px;background:linear-gradient(90deg,#8cff6b 0.0%,#6aff8d 6.2%,#48ffae 12.5%,#32ffc5 18.8%,#0ef6e9 25.0%,#00dcfe 31.2%,#00abff 37.5%,#008eff 43.8%,#006eff 50.0%,#0057ff 56.2%,#0037ff 62.5%,#0021ff 68.8%,#000cff 75.0%,#0000ff 81.2%,#0000e2 87.5%,#0000c8 93.8%,#0000c2 100.0%)"></div><div style="height:6px;background:linear-gradient(90deg,#93ff64 0.0%,#72ff85 6.2%,#53ffa4 12.5%,#31ffc6 18.8%,#11fae6 25.0%,#00dffc 31.2%,#00b9ff 37.5%,#009dff 43.8%,#007bff 50.0%,#005eff 56.2%,#003cff 62.5%,#002bff 68.8%,#000cff 75.0%,#0000ff 81.2%,#0000e2 87.5%,#0000cb 93.8%,#0000b5 100.0%)"></div><div style="height:6px;background:linear-gradient(90deg,#89ff6d 0.0%,#6dff89 6.2%,#4effa9 12.5%,#33ffc3 18.8%,#13fde4 25.0%,#00e2f9 31.2%,#00b6ff 37.5%,#0097ff 43.8%,#0075ff 50.0%,#0065ff 56.2%,#0047ff 62.5%,#002dff 68.8%,#0011ff 75.0%,#0000ff 81.2%,#0000e3 87.5%,#0000d7 93.8%,#0000b9 100.0%)"></div><div style="height:6px;background:linear-gradient(90deg,#90ff67 0.0%,#73ff84 6.2%,#59ff9d 12.5%,#3bffbc 18.8%,#1bffdc 25.0%,#02e8f5 31.2%,#00c3ff 37.5%,#009eff 43.8%,#0077ff 50.0%,#005fff 56.2%,#0049ff 62.5%,#0024ff 68.8%,#0017ff 75.0%,#0000ff 81.2%,#0000e8 87.5%,#0000c7 93.8%,#0000b7 100.0%)"></div><div style="height:6px;background:linear-gradient(90deg,#92ff65 0.0%,#6fff88 6.2%,#5aff9d 12.5%,#3bffbc 18.8%,#22ffd5 25.0%,#00e3f9 31.2%,#00c6ff 37.5%,#00a5ff 43.8%,#007dff 50.0%,#005aff 56.2%,#003fff 62.5%,#0024ff 68.8%,#000aff 75.0%,#0000ff 81.2%,#0000ec 87.5%,#0000c9 93.8%,#0000be 100.0%)"></div><div style="height:6px;background:linear-gradient(90deg,#88ff6f 0.0%,#74ff83 6.2%,#52ffa5 12.5%,#39ffbe 18.8%,#1bffdc 25.0%,#05ecf2 31.2%,#00cfff 37.5%,#00a4ff 43.8%,#007eff 50.0%,#006aff 56.2%,#003fff 62.5%,#0028ff 68.8%,#0016ff 75.0%,#0000fd 81.2%,#0000ee 87.5%,#0000cd 93.8%,#0000b0 100.0%)"></div><div style="height:6px;background:linear-gradient(90deg,#89ff6d 0.0%,#77ff7f 6.2%,#5eff99 12.5%,#3bffbc 18.8%,#1dffda 25.0%,#0df6ea 31.2%,#00d3ff 37.5%,#00a8ff 43.8%,#007cff 50.0%,#0060ff 56.2%,#004eff 62.5%,#0033ff 68.8%,#000aff 75.0%,#0000ff 81.2%,#0000e8 87.5%,#0000cb 93.8%,#0000be 100.0%)"></div><div style="height:6px;background:linear-gradient(90deg,#8aff6d 0.0%,#76ff81 6.2%,#5bff9c 12.5%,#41ffb6 18.8%,#2dffca 25.0%,#0af2ed 31.2%,#00d0ff 37.5%,#00afff 43.8%,#007fff 50.0%,#0064ff 56.2%,#0049ff 62.5%,#002eff 68.8%,#000eff 75.0%,#0000ff 81.2%,#0000e1 87.5%,#0000c8 93.8%,#0000b7 100.0%)"></div><div style="height:6px;background:linear-gradient(90deg,#87ff70 0.0%,#70ff86 6.2%,#56ffa1 12.5%,#48ffae 18.8%,#2bffcc 25.0%,#15ffe1 31.2%,#00d3ff 37.5%,#00a7ff 43.8%,#0082ff 50.0%,#0064ff 56.2%,#0052ff 62.5%,#0029ff 68.8%,#000cff 75.0%,#0000ff 81.2%,#0000e1 87.5%,#0000ce 93.8%,#0000bc 100.0%)"></div><div style="height:6px;background:linear-gradient(90deg,#83ff74 0.0%,#6aff8d 6.2%,#5dff99 12.5%,#44ffb3 18.8%,#2bffcb 25.0%,#0cf4eb 31.2%,#00c8ff 37.5%,#00a8ff 43.8%,#0080ff 50.0%,#005eff 56.2%,#004bff 62.5%,#002aff 68.8%,#000cff 75.0%,#0000ff 81.2%,#0000f1 87.5%,#0000d8 93.8%,#0000b9 100.0%)"></div><div style="height:6px;background:linear-gradient(90deg,#84ff73 0.0%,#65ff92 6.2%,#54ffa3 12.5%,#38ffbf 18.8%,#20ffd7 25.0%,#02e8f5 31.2%,#00ceff 37.5%,#00a0ff 43.8%,#0086ff 50.0%,#0062ff 56.2%,#004aff 62.5%,#002fff 68.8%,#0012ff 75.0%,#0000ff 81.2%,#0000f1 87.5%,#0000cc 93.8%,#0000b6 100.0%)"></div><div style="height:6px;background:linear-gradient(90deg,#7cff7b 0.0%,#63ff94 6.2%,#51ffa6 12.5%,#35ffc2 18.8%,#1effd8 25.0%,#07eef0 31.2%,#00c5ff 37.5%,#00a5ff 43.8%,#0078ff 50.0%,#005fff 56.2%,#004dff 62.5%,#0026ff 68.8%,#000bff 75.0%,#0000fe 81.2%,#0000ee 87.5%,#0000c8 93.8%,#0000b9 100.0%)"></div><div style="height:6px;background:linear-gradient(90deg,#7aff7d 0.0%,#66ff91 6.2%,#4cffab 12.5%,#31ffc6 18.8%,#14ffe2 25.0%,#00e2fa 31.2%,#00bdff 37.5%,#00a2ff 43.8%,#0081ff 50.0%,#005cff 56.2%,#0046ff 62.5%,#0031ff 68.8%,#000fff 75.0%,#0000ff 81.2%,#0000eb 87.5%,#0000cd 93.8%,#0000b3 100.0%)"></div><div style="height:6px;background:linear-gradient(90deg,#75ff81 0.0%,#56ffa1 6.2%,#44ffb3 12.5%,#2dffca 18.8%,#13fde3 25.0%,#00d9ff 31.2%,#00b9ff 37.5%,#009bff 43.8%,#0073ff 50.0%,#0062ff 56.2%,#0040ff 62.5%,#0027ff 68.8%,#000aff 75.0%,#0000ff 81.2%,#0000f1 87.5%,#0000cc 93.8%,#0000b2 100.0%)"></div><div style="height:6px;background:linear-gradient(90deg,#6fff88 0.0%,#53ffa4 6.2%,#3dffba 12.5%,#2bffcc 18.8%,#10f9e7 25.0%,#00e0fb 31.2%,#00bdff 37.5%,#009aff 43.8%,#007eff 50.0%,#0058ff 56.2%,#0043ff 62.5%,#0027ff 68.8%,#0013ff 75.0%,#0000ff 81.2%,#0000f1 87.5%,#0000ce 93.8%,#0000bf 100.0%)"></div><div style="height:6px;background:linear-gradient(90deg,#68ff8e 0.0%,#4fffa8 6.2%,#35ffc2 12.5%,#1effd8 18.8%,#12fbe5 25.0%,#00d9ff 31.2%,#00baff 37.5%,#009aff 43.8%,#007aff 50.0%,#0057ff 56.2%,#003dff 62.5%,#0025ff 68.8%,#0009ff 75.0%,#0000ff 81.2%,#0000ee 87.5%,#0000d0 93.8%,#0000b0 100.0%)"></div><div style="height:6px;background:linear-gradient(90deg,#6bff8c 0.0%,#50ffa7 6.2%,#38ffbf 12.5%,#19ffde 18.8%,#02e8f4 25.0%,#00cfff 31.2%,#00afff 37.5%,#008aff 43.8%,#0077ff 50.0%,#0057ff 56.2%,#0040ff 62.5%,#0029ff 68.8%,#0016ff 75.0%,#0000ff 81.2%,#0000eb 87.5%,#0000d3 93.8%,#0000bc 100.0%)"></div><div style="height:6px;background:linear-gradient(90deg,#67ff8f 0.0%,#4cffab 6.2%,#33ffc3 12.5%,#1dffda 18.8%,#00e4f8 25.0%,#00ccff 31.2%,#00acff 37.5%,#0086ff 43.8%,#0075ff 50.0%,#0053ff 56.2%,#003fff 62.5%,#0028ff 68.8%,#0013ff 75.0%,#0000ff 81.2%,#0000e9 87.5%,#0000d9 93.8%,#0000b8 100.0%)"></div><div style="height:6px;background:linear-gradient(90deg,#63ff94 0.0%,#44ffb3 6.2%,#29ffcd 12.5%,#12fce5 18.8%,#00e0fb 25.0%,#00bdff 31.2%,#009fff 37.5%,#0084ff 43.8%,#006bff 50.0%,#005aff 56.2%,#0045ff 62.5%,#0025ff 68.8%,#000bff 75.0%,#0000ff 81.2%,#0000ed 87.5%,#0000d1 93.8%,#0000b2 100.0%)"></div><div style="height:6px;background:linear-gradient(90deg,#57ffa0 0.0%,#3bffbc 6.2%,#21ffd6 12.5%,#0bf4eb 18.8%,#00dbff 25.0%,#00b8ff 31.2%,#00a4ff 37.5%,#0083ff 43.8%,#0067ff 50.0%,#0051ff 56.2%,#003dff 62.5%,#0021ff 68.8%,#0015ff 75.0%,#0000ff 81.2%,#0000e2 87.5%,#0000ca 93.8%,#0000c1 100.0%)"></div><div style="height:6px;background:linear-gradient(90deg,#56ffa1 0.0%,#3fffb8 6.2%,#28ffcf 12.5%,#05ecf1 18.8%,#00ddfd 25.0%,#00b4ff 31.2%,#0097ff 37.5%,#0086ff 43.8%,#006dff 50.0%,#0054ff 56.2%,#003bff 62.5%,#0029ff 68.8%,#000dff 75.0%,#0000ff 81.2%,#0000e5 87.5%,#0000ca 93.8%,#0000b1 100.0%)"></div><div style="height:6px;background:linear-gradient(90deg,#51ffa6 0.0%,#38ffbe 6.2%,#1affdd 12.5%,#0cf4eb 18.8%,#00d3ff 25.0%,#00b9ff 31.2%,#0092ff 37.5%,#0084ff 43.8%,#0063ff 50.0%,#0052ff 56.2%,#003eff 62.5%,#0022ff 68.8%,#000aff 75.0%,#0000ff 81.2%,#0000f4 87.5%,#0000d4 93.8%,#0000b9 100.0%)"></div><div style="height:6px;background:linear-gradient(90deg,#49ffae 0.0%,#2effc8 6.2%,#19ffde 12.5%,#04eaf3 18.8%,#00d3ff 25.0%,#00b2ff 31.2%,#0093ff 37.5%,#007eff 43.8%,#0066ff 50.0%,#004dff 56.2%,#0035ff 62.5%,#0027ff 68.8%,#000cff 75.0%,#0000fd 81.2%,#0000e5 87.5%,#0000cf 93.8%,#0000bd 100.0%)"></div><div style="height:6px;background:linear-gradient(90deg,#43ffb4 0.0%,#29ffcd 6.2%,#15ffe2 12.5%,#00dbff 18.8%,#00beff 25.0%,#00a9ff 31.2%,#008aff 37.5%,#0078ff 43.8%,#005bff 50.0%,#004eff 56.2%,#003bff 62.5%,#0020ff 68.8%,#000fff 75.0%,#0000ff 81.2%,#0000f0 87.5%,#0000d3 93.8%,#0000bc 100.0%)"></div><div style="height:6px;background:linear-gradient(90deg,#42ffb5 0.0%,#24ffd3 6.2%,#0bf3ec 12.5%,#00daff 18.8%,#00bbff 25.0%,#00a8ff 31.2%,#008aff 37.5%,#0071ff 43.8%,#005bff 50.0%,#0045ff 56.2%,#0030ff 62.5%,#0022ff 68.8%,#0006ff 75.0%,#0000ff 81.2%,#0000e7 87.5%,#0000d7 93.8%,#0000b5 100.0%)"></div><div style="height:6px;background:linear-gradient(90deg,#3bffbc 0.0%,#1fffd8 6.2%,#05ecf2 12.5%,#00daff 18.8%,#00b6ff 25.0%,#009bff 31.2%,#0087ff 37.5%,#006bff 43.8%,#0062ff 50.0%,#004bff 56.2%,#003cff 62.5%,#0026ff 68.8%,#0010ff 75.0%,#0000ff 81.2%,#0000ea 87.5%,#0000d0 93.8%,#0000b7 100.0%)"></div><div style="height:6px;background:linear-gradient(90deg,#37ffc0 0.0%,#1cffdb 6.2%,#0af2ed 12.5%,#00cbff 18.8%,#00b9ff 25.0%,#0097ff 31.2%,#0080ff 37.5%,#006dff 43.8%,#0056ff 50.0%,#0042ff 56.2%,#003cff 62.5%,#001aff 68.8%,#0006ff 75.0%,#0000ff 81.2%,#0000e9 87.5%,#0000cd 93.8%,#0000bf 100.0%)"></div><div style="height:6px;background:linear-gradient(90deg,#38ffbf 0.0%,#1fffd8 6.2%,#00e3f9 12.5%,#00d1ff 18.8%,#00b7ff 25.0%,#008fff 31.2%,#007eff 37.5%,#0068ff 43.8%,#0057ff 50.0%,#0046ff 56.2%,#0039ff 62.5%,#0023ff 68.8%,#0012ff 75.0%,#0000ff 81.2%,#0000f1 87.5%,#0000d1 93.8%,#0000b4 100.0%)"></div><div style="height:6px;background:linear-gradient(90deg,#2fffc8 0.0%,#1bffdc 6.2%,#00defd 12.5%,#00c8ff 18.8%,#00aeff 25.0%,#0094ff 31.2%,#007cff 37.5%,#0064ff 43.8%,#004fff 50.0%,#0041ff 56.2%,#0039ff 62.5%,#0018ff 68.8%,#0008ff 75.0%,#0000ff 81.2%,#0000eb 87.5%,#0000da 93.8%,#0000b3 100.0%)"></div></div><svg width="1400" height="1050" viewBox="0 0 1400 1050">
<defs><clipPath id="mc"><rect x="280" y="105" width="839" height="840"/></clipPath></defs>
<g clip-path="url(#mc)">
<defs><filter id="bl" x="-1" y="-1" width="3" height="3"><feGaussianBlur stdDeviation="1.6"/></filter></defs>
<g filter="url(#bl)"><ellipse cx="564" cy="360" rx="7" ry="9" fill="#ffb000"/><ellipse cx="564" cy="360" rx="3.5" ry="5.5" fill="#b0ff50"/><ellipse cx="565" cy="404" rx="5" ry="5" fill="#ffb000"/><ellipse cx="565" cy="404" rx="2.5" ry="2.5" fill="#e8ff20"/><ellipse cx="608" cy="327" rx="3" ry="3" fill="#ff6000"/><ellipse cx="553" cy="347" rx="3" ry="3" fill="#ffb000"/></g>
<path d="M280.0,117.0 285.3,119.7 288.7,121.7 289.3,126.3 294.7,127.7 300.0,129.0 302.0,131.0 306.7,129.7 312.0,130.3 316.0,131.7 320.0,135.7 322.7,134.3 322.7,129.0 326.7,126.3 333.3,125.0 340.0,122.3 346.7,118.3 352.0,115.7 356.7,110.3 357.3,106.3 M287.3,126.3 292.0,131.0 297.3,135.7 298.7,141.0 300.0,146.3 302.7,152.3 303.3,155.7 313.3,156.3 312.7,159.7 306.7,162.3 302.7,166.3 301.3,171.7 297.3,174.3 293.3,177.0 288.0,179.7 284.0,182.3 281.3,185.0 280.0,186.3 M322.0,166.3 326.7,173.0 330.7,181.0 331.3,190.3 333.3,198.3 335.3,204.3 332.7,207.7 336.0,211.7 342.7,215.7 346.7,217.7 M347.3,217.7 348.0,210.3 349.3,203.7 353.3,201.7 357.3,202.3 361.3,206.3 364.0,205.0 368.0,201.0 368.7,197.0 372.0,194.3 373.3,190.3 M366.7,106.3 366.0,115.7 373.3,118.3 376.7,126.3 372.7,133.0 372.0,138.3 370.7,145.0 373.3,153.0 376.0,159.7 381.3,165.0 386.7,169.0 390.7,170.3 M390.7,170.3 393.3,167.7 397.3,166.3 401.3,163.7 408.0,161.0 413.3,158.3 420.0,155.7 M389.3,170.3 390.7,179.7 392.0,187.0 393.3,198.3 397.3,206.3 401.3,211.7 406.7,217.0 413.3,217.7 420.0,217.0 M373.3,188.3 391.3,187.0 M368.0,107.7 394.7,106.6 M389.3,107.0 393.3,115.7 397.3,123.7 401.3,123.7 406.7,131.7 412.0,134.3 414.7,139.7 420.0,147.7 M402.7,107.7 404.0,113.0 401.3,123.7 M420.0,109.0 425.3,107.7 430.7,107.0 438.7,106.3 M440.0,106.3 438.7,113.0 433.3,117.0 432.7,122.3 432.0,127.7 430.7,131.7 433.3,135.7 434.0,142.3 436.0,147.7 436.0,153.0 438.0,155.7 437.3,157.7 428.0,157.0 420.0,157.7 M420.0,127.7 425.3,127.0 430.7,128.3 M420.0,146.3 422.7,150.3 425.3,154.3 428.0,157.0 M433.3,133.0 441.3,133.0 444.0,129.0 446.7,123.7 450.7,121.0 453.3,117.0 454.0,113.0 456.0,107.7 M460.0,106.3 462.7,115.7 466.7,122.3 469.3,127.7 467.3,134.3 466.7,139.7 464.0,143.7 460.0,147.7 457.3,149.0 M436.0,147.7 441.3,147.0 446.7,145.7 452.0,145.0 457.3,147.7 458.7,149.0 465.3,151.0 469.3,150.3 473.3,148.3 478.7,149.0 482.7,149.7 486.7,149.7 490.7,147.7 494.7,142.3 498.7,134.3 502.7,125.0 506.7,118.3 508.0,114.3 M478.7,106.3 480.0,113.0 482.7,121.0 484.0,129.0 482.7,135.7 481.3,142.3 482.0,149.0 M457.3,149.0 458.7,157.0 466.7,159.7 473.3,162.3 480.0,165.0 484.0,171.7 486.7,177.0 488.0,183.7 490.7,189.0 496.0,194.3 498.7,201.0 504.0,203.7 508.0,203.7 M434.7,225.0 432.0,233.0 429.3,245.0 M420.0,267.7 413.3,285.0 408.0,299.7 412.0,305.0 413.3,309.0 410.7,319.7 410.7,331.7 405.3,333.0 362.7,337.0 M412.0,306.3 416.0,313.0 420.0,321.0 M362.7,337.0 354.7,335.7 346.7,333.0 340.0,327.7 337.3,326.3 326.7,327.7 324.0,333.0 320.0,335.7 318.7,341.0 314.7,343.7 309.3,346.3 305.3,350.3 302.7,353.0 296.0,355.7 290.7,354.3 284.0,355.7 280.0,358.3 M362.0,337.0 364.0,347.7 362.7,361.0 366.7,367.7 370.7,371.7 381.3,371.0 388.0,373.0 389.3,385.0 M280.0,363.7 286.7,361.0 293.3,360.3 299.3,359.0 301.3,365.0 301.3,370.3 297.3,374.3 293.3,377.0 290.7,381.0 289.3,385.0 M300.0,370.3 302.7,378.3 303.3,385.0 M428.0,245.0 424.0,255.7 420.0,267.7 M420.0,319.7 422.7,325.0 424.0,330.3 429.3,334.3 433.3,338.3 437.3,340.3 M437.3,340.7 540.0,340.7 M540.0,340.7 542.7,330.3 548.0,325.0 552.0,318.3 554.7,309.0 552.0,303.7 553.3,295.7 560.0,290.3 M540.0,340.7 536.0,351.7 534.7,358.3 533.3,369.0 534.7,378.3 535.3,385.0 M600.0,199.7 598.7,209.0 596.0,218.3 593.3,225.0 589.3,233.0 586.0,245.0 M669.3,225.0 666.7,230.3 661.3,234.3 657.3,238.3 653.3,245.0 M700.0,226.3 708.0,231.0 716.0,236.3 722.7,240.3 728.0,245.7 733.3,251.0 738.7,255.0 742.7,259.0 M742.7,259.0 736.0,261.7 732.0,268.3 726.7,275.0 722.7,279.0 721.3,284.3 719.3,291.0 720.0,297.7 716.0,303.0 713.3,305.0 708.0,301.7 700.0,297.0 M721.3,281.7 726.7,284.3 733.3,281.7 738.7,279.0 742.7,277.7 740.0,285.7 742.7,289.7 749.3,289.7 752.0,289.7 753.3,283.0 757.3,283.0 762.7,284.3 777.3,285.0 M720.0,302.3 726.7,304.3 733.3,303.0 740.0,297.0 744.0,299.0 741.3,307.0 745.3,311.0 749.3,308.3 753.3,307.0 761.3,304.3 766.7,301.7 769.3,299.0 774.7,299.7 778.7,300.3 M589.3,235.0 585.3,243.0 580.0,252.3 574.7,256.3 568.0,261.7 560.0,268.3 M560.0,267.7 569.3,267.0 580.0,269.7 581.3,279.0 581.3,288.3 577.3,297.7 581.3,300.3 586.7,307.0 590.7,309.7 596.0,308.3 596.0,315.0 592.0,317.7 589.3,325.7 594.7,331.0 597.3,337.7 601.3,343.0 609.3,345.7 M561.3,269.7 568.0,272.3 565.3,280.3 562.7,287.0 560.0,289.7 M609.3,345.7 608.0,339.0 606.7,328.3 608.0,320.3 610.7,309.7 614.7,301.7 622.7,297.7 630.7,292.3 637.3,288.3 645.3,288.3 652.0,284.3 653.3,276.3 649.3,269.7 653.3,261.7 652.0,248.3 656.0,240.3 662.7,235.0 M609.3,345.7 614.7,351.0 620.0,353.7 629.3,349.7 637.3,343.0 641.3,336.3 640.0,330.3 646.7,329.7 656.0,331.0 664.0,327.0 672.0,323.0 680.0,317.7 686.7,312.3 689.3,304.3 688.0,297.7 700.0,297.7 M680.0,317.7 685.3,323.0 688.0,331.0 693.3,327.0 700.0,324.3 M609.3,345.7 602.7,351.0 598.7,359.0 602.7,365.7 601.3,375.0 M680.0,317.7 684.0,323.0 688.0,329.7 693.3,327.0 697.3,321.7 704.0,317.7 709.3,316.3 716.0,319.0 722.7,321.7 726.7,327.0 729.3,332.3 733.3,340.3 730.7,349.7 726.7,351.0 728.0,357.7 733.3,363.0 738.7,361.7 M729.3,332.3 740.0,337.7 746.7,341.7 753.3,347.0 M726.7,327.0 733.3,321.7 740.0,324.3 745.3,328.3 753.3,327.0 761.3,323.0 773.3,321.7 M680.0,428.3 686.7,427.0 694.7,429.7 700.0,433.7 696.0,439.0 693.3,445.7 690.7,455.0 M601.3,375.0 605.3,385.7 604.0,396.3 606.7,405.7 609.3,411.0 608.0,419.0 606.7,421.7 M596.0,419.0 600.0,415.0 604.0,417.7 608.0,420.3 M606.7,421.7 614.7,416.3 622.7,411.0 633.3,406.3 640.0,407.0 641.3,412.3 646.7,411.0 653.3,412.3 660.0,416.3 668.0,419.0 673.3,419.0 680.0,428.3 M596.0,419.0 594.7,425.7 596.0,432.3 589.3,435.0 588.0,441.7 590.7,449.7 586.7,456.3 590.7,460.3 590.7,467.0 582.7,473.7 573.3,472.3 561.3,473.7 550.7,477.7 544.0,481.7 540.0,487.0 M574.7,427.0 588.0,427.0 588.7,435.7 574.7,436.3 574.7,427.0 M540.0,497.7 546.7,496.3 556.0,497.7 564.0,499.0 566.7,504.3 568.0,500.3 574.7,499.0 582.7,497.7 590.7,496.3 593.3,500.3 596.0,515.0 M680.0,495.0 673.3,497.7 670.7,505.7 666.7,515.0 M534.7,375.0 537.3,388.3 533.3,401.7 532.0,417.7 525.3,421.7 522.7,428.3 520.0,435.0 513.3,437.7 509.3,445.7 504.0,453.7 501.3,461.7 504.0,473.7 508.0,476.3 508.0,481.7 517.3,485.7 528.0,488.3 537.3,491.0 540.0,489.7 M537.3,491.0 537.3,500.3 533.3,505.7 529.3,515.0 M400.0,453.7 412.0,452.3 422.0,451.7 421.3,457.7 422.7,467.0 432.0,468.3 433.3,471.0 438.7,480.3 436.0,492.3 432.0,505.7 432.0,515.0 M400.0,501.7 416.0,500.3 432.0,507.0 436.0,509.7 432.0,512.3 M402.7,503.0 408.0,509.7 410.7,515.0 M294.7,375.0 290.7,380.3 289.3,387.0 285.3,389.7 281.3,392.3 280.0,395.0 M301.3,375.0 302.7,384.3 306.7,391.0 313.3,396.3 320.0,399.0 322.7,401.7 330.7,400.3 337.3,401.7 342.7,403.0 348.0,407.0 356.0,408.3 361.3,412.3 365.3,414.3 372.0,413.0 380.0,415.0 M365.3,414.3 354.7,419.0 337.3,429.7 336.0,439.0 341.3,443.0 345.3,451.7 330.7,455.0 322.7,457.0 313.3,457.7 310.7,464.3 306.7,468.3 300.0,468.3 293.3,465.7 288.0,462.3 282.7,455.0 280.0,451.0 M374.7,412.3 381.3,414.3 385.3,417.7 386.7,425.7 388.0,433.7 388.0,436.3 393.3,441.7 394.7,455.0 420.0,452.3 M380.0,414.3 385.3,409.7 388.0,403.0 390.7,400.3 393.3,388.3 390.7,381.7 389.3,376.3 M324.0,457.0 324.0,468.3 328.0,476.3 333.3,480.3 329.3,488.3 333.3,495.0 338.7,503.0 342.7,505.7 345.3,515.0 M288.0,463.0 292.0,473.7 293.3,481.7 296.0,489.7 289.3,487.7 280.0,493.7 M296.0,489.7 298.7,495.0 306.7,492.3 313.3,493.7 320.0,500.3 328.0,499.0 336.0,500.3 M376.0,515.0 381.3,508.3 401.3,503.0 420.0,500.3 M401.3,503.0 409.3,515.0 M298.7,495.0 300.0,503.0 306.7,508.3 309.3,515.0 M316.0,499.0 317.3,508.3 320.0,515.0 M290.7,497.7 293.3,505.7 296.0,515.0 M280.0,526.3 287.3,528.3 296.0,523.0 302.7,517.7 305.3,515.0 M330.7,515.0 332.0,519.0 325.3,524.3 324.0,528.3 325.3,537.7 324.7,543.0 326.7,547.0 329.3,549.0 M346.7,515.0 349.3,527.0 354.7,525.7 372.0,525.0 376.0,516.3 M372.0,525.0 372.7,535.0 370.7,544.3 369.3,554.3 M329.3,539.7 336.0,539.0 344.0,536.3 372.0,533.7 M329.3,539.7 329.3,549.7 330.7,557.7 332.0,560.3 M280.0,549.0 285.3,555.0 289.3,563.0 293.3,572.3 294.7,577.0 304.0,575.0 307.3,576.3 306.0,589.7 305.3,595.0 298.7,599.0 292.0,603.0 290.0,609.7 293.3,615.0 M304.0,575.0 308.0,567.0 310.7,561.7 316.0,555.0 321.3,557.7 325.3,558.3 332.0,557.7 341.3,557.7 346.7,567.7 349.3,553.7 366.7,551.0 369.3,554.3 376.0,557.7 381.3,564.3 386.7,568.3 397.3,575.0 404.0,576.3 420.0,580.3 M332.0,559.0 330.7,565.7 336.0,572.3 341.3,579.0 349.3,577.7 352.0,588.3 348.0,595.0 342.7,596.3 333.3,595.0 326.7,589.7 324.0,583.0 318.7,581.7 318.7,593.7 313.3,593.7 306.0,589.7 M374.7,557.7 378.7,573.7 379.3,583.0 378.7,589.7 373.3,599.0 368.0,609.7 M379.3,583.0 386.7,585.7 397.3,591.0 406.7,596.3 413.3,601.7 420.0,607.0 M397.3,575.0 408.0,568.3 420.0,561.7 M354.7,610.3 368.0,609.7 392.0,606.3 397.3,641.7 397.3,655.0 M397.3,643.0 420.0,639.0 M354.7,610.3 353.3,621.7 352.0,632.3 349.3,643.0 350.7,655.0 M293.3,615.0 302.7,615.0 321.3,611.7 322.7,616.3 318.7,621.7 326.7,629.7 336.0,621.7 341.3,623.0 353.3,621.7 M293.3,615.0 288.0,619.0 285.3,624.3 280.0,625.7 M292.0,616.3 296.0,629.7 297.3,639.0 300.0,644.3 294.7,648.3 292.0,655.0 M328.0,627.0 330.7,632.3 333.3,636.3 333.3,644.3 338.7,649.7 344.0,652.3 349.3,649.7 M410.7,515.0 420.0,524.3 M433.3,500.0 432.0,505.3 436.0,509.3 432.0,512.0 434.7,517.3 438.0,525.3 438.0,534.7 438.7,542.7 441.3,553.3 442.0,558.7 436.0,561.3 428.0,562.0 420.0,561.3 M420.0,502.7 425.3,504.0 432.0,505.3 M420.0,524.7 428.0,528.7 437.3,528.0 M438.7,542.7 457.3,542.7 460.0,540.0 470.7,542.7 473.3,549.3 476.0,558.7 478.7,566.7 482.7,569.3 489.3,565.3 494.7,568.0 496.0,574.7 493.3,585.3 493.3,596.0 492.0,606.7 489.3,613.3 480.0,620.0 476.0,622.7 M442.0,558.7 448.0,564.0 453.3,572.0 454.7,580.0 453.3,588.0 449.3,593.3 448.0,601.3 442.7,616.0 438.7,622.7 436.0,633.3 437.3,640.0 M420.0,580.0 429.3,582.7 440.0,585.3 449.3,590.7 M420.0,606.7 428.0,610.7 436.0,614.7 441.3,617.3 M449.3,562.7 460.0,560.0 466.7,557.3 470.7,562.7 470.7,572.0 473.3,580.0 468.0,585.3 464.0,590.7 462.7,596.0 452.0,596.0 453.3,609.3 460.0,609.3 465.3,614.7 468.0,620.0 M464.0,585.3 453.3,588.0 M538.7,500.0 530.7,508.0 525.3,520.0 522.7,529.3 513.3,540.0 504.0,546.7 500.0,554.7 497.3,566.7 494.7,568.0 M512.0,542.7 524.0,540.7 540.0,542.7 553.3,545.3 560.0,546.7 M481.3,569.3 485.3,574.7 482.7,581.3 482.7,586.7 486.7,588.0 481.3,593.3 481.3,601.3 492.0,601.3 M464.0,596.0 473.3,593.3 478.7,596.0 470.7,601.3 464.0,605.3 M494.7,592.0 500.0,590.7 505.3,596.0 506.7,601.3 506.7,609.3 508.0,614.7 M506.7,601.3 524.0,602.7 538.7,604.0 541.3,598.7 546.7,594.7 560.0,593.3 M508.0,614.7 500.0,620.0 492.0,625.3 482.7,632.0 480.0,640.0 M593.3,500.0 593.3,506.7 596.0,513.3 604.0,520.0 602.7,529.3 606.7,537.3 608.0,540.0 616.0,537.3 618.7,536.0 630.7,532.0 640.0,528.0 653.3,524.0 664.0,521.3 666.7,514.7 669.3,508.0 670.7,500.0 M673.3,500.0 673.3,508.0 677.3,512.0 684.0,513.3 684.0,524.0 677.3,530.7 670.7,537.3 668.0,540.0 M685.3,513.3 693.3,502.7 694.7,500.0 M560.0,548.0 564.0,560.0 568.0,569.3 577.3,572.0 580.0,576.0 M560.0,593.3 566.7,595.3 577.3,590.7 M630.7,532.0 637.3,536.0 636.0,541.3 M560.0,500.0 568.0,504.0 573.3,500.0 M698.7,430.0 700.0,435.3 696.0,439.3 694.7,444.7 690.7,447.3 690.7,455.3 696.0,460.7 700.0,464.7 702.7,467.3 M696.0,461.3 686.7,462.0 682.7,466.0 682.0,471.3 684.0,476.7 685.3,483.3 680.0,492.7 678.7,496.7 673.3,498.0 672.0,506.0 668.0,510.0 665.3,520.7 660.0,523.3 M672.7,507.3 674.7,512.7 685.3,514.0 M292.0,655.0 293.3,657.7 301.3,657.0 302.7,660.3 310.7,663.0 313.3,665.7 316.0,663.0 325.3,661.7 330.7,663.0 334.7,668.3 341.3,672.3 346.7,676.3 354.7,683.0 357.3,681.7 356.0,675.0 353.3,668.3 350.7,660.3 350.7,655.0 M357.3,675.0 366.7,672.3 376.0,673.7 394.7,672.3 397.3,681.7 397.3,685.7 402.7,687.0 401.3,703.0 402.7,711.0 409.3,719.0 408.0,727.0 404.0,737.7 400.0,747.0 M397.3,655.0 397.3,672.3 M292.0,655.0 288.0,667.0 286.7,672.3 293.3,672.3 300.0,677.7 301.3,687.0 306.7,688.3 314.7,691.0 322.7,696.3 330.7,703.0 333.3,711.0 338.7,716.3 353.3,715.0 360.0,717.7 365.3,720.3 368.0,729.7 365.3,735.0 373.3,761.7 376.0,779.0 356.0,783.0 334.7,788.3 336.0,795.0 M353.3,683.0 350.7,701.7 353.3,715.0 M286.7,672.3 285.3,681.7 286.7,693.7 285.3,705.7 286.7,715.0 285.3,721.7 288.0,729.7 293.3,733.7 301.3,729.7 306.7,727.0 314.7,728.3 324.0,724.3 332.0,727.0 332.0,719.7 338.7,716.3 M332.0,727.0 337.3,735.0 340.0,744.3 346.7,751.0 348.0,759.0 353.3,765.7 356.0,775.0 356.0,783.0 M373.3,761.7 394.7,758.3 393.3,748.3 414.7,743.7 420.0,736.3 M394.7,758.3 402.7,795.0 M280.0,735.0 288.0,733.7 293.3,736.3 298.7,747.0 304.0,751.0 305.3,767.0 306.7,795.0 M280.0,743.0 285.3,745.7 293.3,748.3 301.3,749.7 M280.0,757.7 285.3,751.0 282.7,761.7 290.7,763.0 297.3,761.7 304.0,765.7 M280.0,769.7 288.0,771.0 296.0,772.3 304.0,773.7 M280.0,780.3 288.0,779.0 296.0,780.3 304.0,781.0 M280.0,784.3 288.0,785.7 297.3,784.3 M280.0,792.3 288.0,791.0 297.3,793.7 M388.0,688.3 393.3,684.3 397.3,687.0 392.0,691.0 388.0,688.3 M280.0,692.3 285.3,693.7 288.0,697.7 M429.3,722.7 440.0,726.7 448.0,729.3 456.0,732.0 457.3,736.0 465.3,741.3 474.7,746.7 477.3,753.3 476.0,760.0 482.7,765.3 485.3,770.7 484.0,780.0 M478.7,640.0 473.3,648.0 466.7,658.7 460.0,666.7 456.0,674.7 457.3,680.0 M433.3,674.7 446.7,670.7 453.3,673.3 457.3,678.7 456.0,693.3 456.0,706.7 457.3,714.7 456.0,720.0 456.0,732.0 M457.3,732.0 466.7,736.0 476.0,736.0 485.3,738.7 489.3,740.0 500.0,738.7 506.7,738.7 513.3,733.3 520.0,725.3 525.3,714.7 526.7,709.3 526.7,702.7 M457.3,678.7 466.7,680.0 476.0,678.7 482.7,680.0 486.7,676.0 489.3,676.0 496.0,681.3 504.0,684.0 513.3,690.7 521.3,698.7 526.7,702.7 M457.3,690.7 466.7,692.0 478.7,693.3 482.7,684.0 481.3,678.7 M457.3,706.7 466.7,704.0 478.7,702.7 481.3,693.3 M470.7,666.7 482.7,674.7 484.0,680.0 M486.7,685.3 490.7,690.7 502.7,693.3 502.7,697.3 497.3,701.3 496.0,706.7 500.0,712.0 510.7,714.7 518.7,709.3 522.7,704.0 M473.3,712.0 482.7,706.7 494.7,704.0 M457.3,717.3 464.0,714.7 473.3,714.7 481.3,720.0 484.0,733.3 486.7,740.0 M457.3,728.0 466.7,726.7 476.0,725.3 484.0,722.7 494.7,717.3 498.7,712.0 497.3,725.3 496.0,733.3 500.0,738.7 M510.7,714.7 509.3,725.3 510.7,734.7 M528.0,710.7 521.3,714.7 520.0,722.7 518.7,730.7 M334.9,790.0 339.4,805.2 342.5,820.5 347.0,835.7 341.0,844.9 331.8,855.5 330.3,866.2 322.7,870.8 319.6,878.4 316.6,881.4 312.0,878.4 M401.9,790.0 406.5,808.3 409.5,826.6 414.1,849.4 421.7,852.5 427.8,846.4 426.3,835.7 424.8,823.5 421.7,817.4 440.0,815.1 M315.0,809.8 325.7,811.3 337.9,812.9 347.0,812.9 348.6,819.0 357.7,822.0 368.4,826.6 379.0,823.5 394.3,822.8 409.5,826.6 M421.7,852.5 412.6,857.0 401.9,855.5 394.3,855.5 395.8,866.2 397.3,875.3 405.0,879.9 406.5,887.5 401.9,896.7 403.4,911.9 401.9,924.1 395.8,930.2 388.2,936.3 386.7,943.9 M318.1,896.7 356.2,886.0 397.3,875.3 M406.5,876.9 414.1,873.0 418.7,881.4 414.1,886.0 409.5,881.4 401.9,886.0 411.0,889.0 M305.9,790.0 307.4,800.7 301.3,808.3 301.3,820.5 310.5,837.2 307.4,843.3 309.0,854.0 309.0,866.2 310.5,875.3 312.0,881.4 316.6,896.7 315.0,905.8 321.1,916.5 325.7,924.1 330.3,930.2 336.4,934.8 337.9,942.4 M280.0,805.2 292.2,805.2 301.3,806.8 M280.0,819.0 289.1,822.0 301.3,820.5 M280.0,829.6 292.2,831.1 302.9,832.7 M280.0,843.3 289.1,841.8 299.8,841.8 310.5,843.3 M286.1,858.6 295.2,858.6 309.0,860.1 M284.6,876.9 295.2,878.4 307.4,876.9 M286.1,889.0 295.2,887.5 302.9,886.0 M284.6,790.0 283.0,797.6 281.5,805.2 281.5,820.5 280.0,835.7 281.5,851.0 286.1,858.6 284.6,873.8 286.1,889.0 289.1,899.7 290.7,911.9 292.2,927.1 301.3,928.7 299.8,905.8 295.2,899.7 M301.3,899.7 304.4,911.9 310.5,924.1 313.5,934.8 316.6,942.4 M486.6,770.0 486.6,773.4 481.4,785.4 479.7,794.0 472.9,800.9 464.3,806.0 450.6,811.1 438.6,815.4 430.0,818.0 M520.0,601.1 531.4,602.9 539.4,604.0 541.7,598.3 549.7,593.7 557.7,592.6 563.4,594.9 569.1,591.4 578.3,590.3 M520.0,614.3 531.4,615.4 540.6,618.9 547.4,623.4 552.0,629.1 556.6,630.3 564.6,631.4 563.4,637.1 561.1,644.0 563.4,650.9 M299.5,740.0 305.4,761.5 303.4,775.1 307.3,794.6 301.5,806.3 303.4,818.0 309.3,829.8 311.2,841.5 305.4,849.3 309.3,861.0 309.3,876.6 307.3,880.5 313.2,888.3 311.2,896.1 317.1,905.9 319.0,915.6 322.9,923.4 328.8,931.2 334.6,937.1 338.5,944.9 M282.0,747.8 287.8,743.9 297.6,745.9 M282.0,767.3 291.7,763.4 301.5,765.4 M283.9,777.1 291.7,775.1 301.5,779.0 305.4,775.1 M282.0,784.9 291.7,781.0 303.4,782.9 M283.9,794.6 287.8,792.7 299.5,794.6 305.4,798.5 M283.9,806.3 295.6,804.4 301.5,806.3 M282.0,816.1 291.7,814.1 303.4,820.0 M282.0,827.8 289.8,822.0 301.5,825.9 309.3,831.7 M282.0,841.5 289.8,839.5 297.6,841.5 307.3,843.4 M283.9,851.2 291.7,849.3 299.5,851.2 M285.9,859.0 287.8,868.8 285.9,876.6 295.6,874.6 305.4,876.6 M287.8,884.4 297.6,882.4 307.3,880.5 M287.8,892.2 295.6,894.1 305.4,894.1 311.2,896.1 M282.0,740.0 283.9,759.5 282.0,779.0 283.9,798.5 282.0,818.0 283.9,837.6 282.0,849.3 285.9,857.1 284.9,876.6 287.8,888.3 291.7,902.0 291.7,915.6 295.6,927.3 M307.3,880.5 319.0,876.6 321.0,880.5 315.1,884.4 313.2,888.3 M283.9,763.4 285.9,771.2 283.9,779.0 M284.9,804.4 285.9,814.1 M283.9,829.8 285.9,837.6" fill="none" stroke="#808080" stroke-width="1.1" stroke-linejoin="round"/>
<path d="M280.0,203.7 286.7,205.7 293.3,204.3 301.3,202.3 309.3,201.7 314.7,203.7 322.7,207.7 325.3,210.3 330.7,213.0 337.3,215.7 344.0,217.0 348.0,217.7 352.0,223.0 357.3,230.3 361.3,235.7 368.0,241.0 373.3,243.0 381.3,243.7 M322.7,209.3 326.0,212.3 331.3,214.6 338.0,217.3 344.0,218.6 348.7,219.4 353.1,224.7 358.4,231.7 362.0,237.0 368.3,242.3 M420.0,227.7 416.0,229.0 412.0,233.0 408.0,237.0 404.0,239.7 400.0,242.3 396.0,243.7 M497.3,106.3 501.3,110.3 506.7,113.0 509.3,115.7 513.3,114.3 516.0,119.7 517.3,127.7 520.0,134.3 522.7,141.0 525.3,147.7 529.3,150.3 533.3,154.3 536.0,155.7 537.3,163.7 536.0,170.3 532.0,174.3 526.7,179.7 521.3,182.3 518.7,185.0 M420.0,230.3 426.7,227.7 433.3,223.7 440.0,219.7 446.7,219.0 453.3,219.7 460.0,222.3 466.7,223.7 470.7,222.3 473.3,218.3 480.0,215.7 486.7,213.0 493.3,210.3 500.0,207.7 506.7,203.7 512.0,198.3 516.0,191.7 521.3,186.3 526.7,182.3 532.0,179.7 537.3,178.3 542.7,177.7 M421.3,233.0 428.0,229.7 434.7,225.7 441.3,222.1 448.0,221.3 454.7,222.1 461.3,224.7 468.0,226.1 472.7,224.7 476.0,220.7 482.7,218.1 489.3,215.4 496.0,212.7 502.7,209.8 509.3,205.8 514.0,200.7 518.7,194.1 523.3,189.0 528.3,184.7 M512.0,198.3 518.7,190.3 525.3,185.0 532.0,182.3 M514.7,201.0 522.7,194.3 529.3,190.3 534.7,185.0 M517.3,203.7 525.3,198.3 528.0,193.0 M521.3,179.7 526.7,174.3 533.3,169.0 536.0,163.7 M428.0,209.0 433.3,211.7 438.7,213.0 442.0,215.7 M500.0,210.3 502.7,218.3 505.3,225.0 506.7,233.0 M456.0,221.0 454.7,231.7 453.3,245.0 M513.3,213.0 516.0,221.0 522.7,223.7 529.3,214.3 540.0,213.0 548.0,209.0 553.3,205.0 560.0,198.3 M545.3,222.3 542.7,231.7 544.0,245.0 M286.7,245.0 293.3,249.0 298.7,253.0 304.0,257.0 310.7,259.7 318.7,261.0 325.3,262.3 330.7,259.7 337.3,257.0 342.7,257.7 346.7,258.3 352.0,254.3 356.0,252.3 362.7,250.3 368.0,247.0 376.0,246.3 M297.3,253.0 298.7,257.0 M318.7,265.0 322.7,263.7 321.3,269.7 M320.0,252.3 326.7,255.7 M328.0,248.3 333.3,251.0 M341.3,268.3 344.0,267.0 M562.7,186.3 561.3,195.7 562.7,201.0 560.0,206.3 M564.0,198.3 568.0,194.3 573.3,192.3 580.0,191.7 586.7,194.3 593.3,197.0 600.0,199.0 606.7,201.0 613.3,205.0 614.7,210.3 616.0,206.3 618.7,202.3 622.7,206.3 626.7,213.0 628.0,218.3 622.7,221.0 624.0,225.0 622.7,233.0 626.7,227.7 632.0,223.7 637.3,221.0 644.0,219.0 650.7,221.0 656.0,223.0 664.0,224.3 669.3,225.0 676.0,227.0 684.0,226.3 693.3,225.7 700.0,225.7 M562.7,203.7 566.7,206.3 569.3,207.7 M677.3,227.7 676.0,235.7 678.7,245.0 M742.7,259.0 749.3,261.0 756.0,263.0 762.7,261.7 769.3,263.0 772.7,267.0 774.7,273.7 777.3,281.7 780.0,292.3 780.0,301.7 778.7,308.3 777.3,315.0 M676.0,235.0 680.0,243.0 682.7,253.7 682.7,267.0 685.3,279.0 692.0,288.3 690.7,297.7 M777.3,315.0 774.7,321.7 770.7,328.3 765.3,335.0 760.0,340.3 753.3,347.0 746.7,352.3 741.3,359.0 737.3,365.7 733.3,372.3 728.0,379.0 722.7,384.3 718.7,380.3 716.0,384.3 714.7,389.7 714.7,397.7 713.3,408.3 713.3,419.0 714.7,429.7 712.0,440.3 710.7,455.0 M437.3,625.3 444.0,624.0 453.3,624.0 462.7,624.7 470.7,624.0 474.7,621.3 477.3,621.3 M506.7,614.7 516.0,614.0 526.7,614.7 537.3,618.7 545.3,624.0 550.7,628.0 553.3,630.7 560.0,631.3 M670.7,538.7 653.3,540.0 640.0,541.3 633.3,544.0 629.3,546.7 622.7,552.0 617.3,554.7 610.7,556.0 605.3,558.7 598.7,564.0 592.0,570.7 585.3,577.3 580.0,585.3 578.7,593.3 578.7,601.3 580.0,609.3 578.7,620.0 577.3,628.0 573.3,634.7 570.7,640.0 M716.0,430.0 713.3,438.0 710.7,450.0 710.7,458.0 705.3,463.3 702.7,468.7 702.7,483.3 700.0,488.7 697.3,495.3 693.3,500.7 688.0,507.3 685.3,514.0 684.0,523.3 680.0,526.0 673.3,530.0 669.3,536.7 660.0,539.3 M436.0,640.0 434.7,653.3 430.7,658.7 432.0,670.7 433.3,677.3 428.0,693.3 422.7,698.7 421.3,706.7 424.0,717.3 429.3,722.7 430.7,728.0 420.0,736.0 M526.7,702.7 530.7,696.0 536.0,690.7 538.7,684.0 545.3,676.0 550.7,669.3 556.0,662.7 560.0,653.3 M545.3,658.7 554.7,660.0 550.7,669.3 542.7,677.3 537.3,684.0 536.0,689.3 M584.0,580.0 579.4,585.7 577.1,593.7 578.3,602.9 580.6,612.0 579.4,620.0 577.1,628.0 576.0,631.4 570.3,637.1 565.7,644.0 562.3,650.9 558.9,660.0 554.3,670.3 547.4,679.4 540.6,688.6 536.0,696.6 533.7,700.0 M546.3,657.7 555.4,660.0 550.9,666.9 546.3,674.9 540.6,682.9 536.0,689.7 534.9,685.1 539.4,678.3 544.0,670.3 546.3,662.3 M291.7,902.0 293.7,915.6 295.6,927.3 301.5,927.3 303.4,915.6 299.5,905.9 297.6,902.0 M309.3,902.0 311.2,915.6 315.1,923.4 319.0,935.1 324.9,941.0 M309.3,907.8 317.1,915.6 322.9,929.3 330.7,935.1 336.6,939.0" fill="none" stroke="#808080" stroke-width="1.6" stroke-linejoin="round"/>
<path d="M446.7,109.0 454.7,107.7 453.3,113.0 448.0,114.3Z M710.7,279.0 714.7,279.0 714.0,281.7 710.7,281.7Z M728.7,292.3 732.7,292.3 732.0,295.0 728.7,294.7Z M620.0,468.3 622.4,473.0 626.0,477.7 620.7,479.7 618.9,475.0Z M608.7,507.0 614.7,505.0 618.7,509.9 613.1,513.0Z M596.0,501.0 602.7,505.0 600.7,506.3Z M301.3,409.7 304.7,410.3 304.0,413.7 302.0,413.0Z M295.3,413.7 298.0,413.7 297.3,416.3 295.7,416.1Z M328.3,420.3 330.9,421.0 330.4,423.3 328.7,423.0Z M282.9,425.7 285.3,426.3 284.7,429.7 283.3,429.0Z M608.0,507.3 616.7,506.0 621.3,512.0 616.7,518.0 611.3,516.7 609.3,512.0Z M594.7,502.0 602.7,505.3 600.0,506.7Z M632.0,514.7 636.0,517.3 634.0,519.3Z M576.0,536.7 584.0,538.7 578.7,540.0Z M566.7,548.0 576.0,549.3 574.7,552.7 567.3,552.0Z M476.0,709.3 482.7,704.0 493.3,701.3 489.3,706.7 481.3,710.0Z M448.0,645.3 450.7,646.0 448.7,648.0Z M298.3,876.9 304.4,878.4 302.9,881.4 299.0,881.1Z M299.8,884.5 302.9,887.5 298.3,889.0Z M289.1,934.8 292.2,935.5 290.7,937.0Z M299.8,936.3 305.9,937.8 302.9,940.9Z M301.3,940.9 307.4,941.6 304.4,943.1Z M312.0,936.3 316.6,939.3 312.8,942.4Z M362.3,940.9 371.4,942.4 365.3,943.6Z M323.9,774.1 325.9,774.7 325.3,776.7 323.7,776.3Z M298.9,852.8 300.5,853.2 300.1,855.1Z M299.5,869.2 301.9,869.8 301.5,872.7 299.5,872.3Z M300.5,886.3 303.0,887.3 301.9,890.2Z M290.7,934.1 293.3,934.7 292.1,936.7Z M302.4,936.1 305.4,936.7 303.8,939.0Z M299.5,921.5 303.4,923.4 300.5,925.4Z" fill="#808080" stroke="#808080" stroke-width="1"/>
<circle cx="1105" cy="330" r="1.3" fill="#808080"/><circle cx="1052" cy="803" r="1.3" fill="#808080"/>
<path d="M-401.84,-28.54 L-390.81,-29.35 L-379.83,-30.15 L-368.90,-30.93 L-358.03,-31.70 L-347.20,-32.46 L-336.43,-33.21 L-325.71,-33.95 L-315.03,-34.68 L-304.41,-35.39 L-293.83,-36.10 L-283.30,-36.79 L-272.82,-37.48 L-262.38,-38.15 L-251.99,-38.81 L-241.64,-39.47 L-231.34,-40.11 L-221.08,-40.75 L-210.86,-41.37 L-200.68,-41.99 L-190.54,-42.59 L-180.45,-43.19 L-170.39,-43.77 L-160.38,-44.35 L-150.40,-44.92 L-140.46,-45.48 L-130.56,-46.03 L-120.70,-46.58 L-110.87,-47.11 L-101.08,-47.64 L-91.32,-48.15 L-81.60,-48.66 L-71.91,-49.17 L-62.26,-49.66 L-52.63,-50.14 L-43.05,-50.62 L-33.49,-51.09 L-23.96,-51.56 L-14.47,-52.01 L-5.01,-52.46 L4.43,-52.90 L13.83,-53.33 L23.21,-53.76 L32.55,-54.17 L41.87,-54.59 L51.16,-54.99 L60.43,-55.39 L69.66,-55.78 L78.88,-56.16 L88.06,-56.54 L97.22,-56.91 L106.36,-57.27 L115.47,-57.63 L124.55,-57.98 L133.62,-58.33 L142.66,-58.67 L151.67,-59.00 L160.67,-59.32 L169.64,-59.64 L178.60,-59.96 L187.53,-60.26 L196.44,-60.56 L205.33,-60.86 L214.20,-61.15 L223.05,-61.43 L231.88,-61.71 L240.70,-61.98 L249.49,-62.25 L258.27,-62.51 L267.03,-62.76 L275.77,-63.01 L284.50,-63.26 L293.21,-63.49 L301.90,-63.73 L310.58,-63.95 L319.24,-64.18 L327.89,-64.39 L336.53,-64.60 L345.15,-64.81 L353.75,-65.01 L362.35,-65.21 L370.93,-65.40 L379.49,-65.58 L388.05,-65.76 L396.59,-65.93 L405.12,-66.10 L413.64,-66.27 L422.15,-66.43 L430.65,-66.58 L439.14,-66.73 L447.61,-66.88 L456.08,-67.02 L464.54,-67.15 L472.99,-67.28 L481.43,-67.40 L489.87,-67.52 L498.29,-67.64 L506.71,-67.75 L515.12,-67.86 L523.52,-67.96 L531.92,-68.05 L540.31,-68.14 L548.69,-68.23 L557.07,-68.31 L565.45,-68.39 L573.81,-68.46 L582.18,-68.53 L590.54,-68.59 L598.89,-68.65 L607.24,-68.70 L615.59,-68.75 L623.93,-68.79 L632.28,-68.83 L640.62,-68.87 L648.95,-68.90 L657.29,-68.92 L665.62,-68.94 L673.95,-68.96 L682.29,-68.97 L690.62,-68.98 L698.95,-68.98 L707.28,-68.98 L715.61,-68.97 L723.94,-68.96 L732.27,-68.94 L740.61,-68.92 L748.94,-68.90 L757.28,-68.87 L765.62,-68.83 L773.96,-68.79 L782.30,-68.75 L790.65,-68.70 L799.00,-68.65 L807.36,-68.59 L815.72,-68.53 L824.08,-68.46 L832.45,-68.39 L840.82,-68.31 L849.20,-68.23 L857.58,-68.14 L865.98,-68.05 L874.37,-67.96 L882.78,-67.86 L891.19,-67.75 L899.60,-67.64 L908.03,-67.52 L916.46,-67.40 L924.90,-67.28 L933.35,-67.15 L941.81,-67.02 L950.28,-66.88 L958.76,-66.73 L967.25,-66.58 L975.74,-66.43 L984.25,-66.27 L992.77,-66.10 L1001.30,-65.93 L1009.85,-65.76 L1018.40,-65.58 L1026.97,-65.40 L1035.55,-65.21 L1044.14,-65.01 L1052.75,-64.81 L1061.37,-64.60 L1070.00,-64.39 L1078.65,-64.18 L1087.31,-63.95 L1095.99,-63.73 L1104.69,-63.49 L1113.40,-63.26 L1122.12,-63.01 L1130.87,-62.76 L1139.63,-62.51 L1148.40,-62.25 L1157.20,-61.98 L1166.01,-61.71 L1174.84,-61.43 L1183.70,-61.15 L1192.57,-60.86 L1201.46,-60.56 L1210.37,-60.26 L1219.30,-59.96 L1228.25,-59.64 L1237.22,-59.32 L1246.22,-59.00 L1255.24,-58.67 L1264.28,-58.33 L1273.34,-57.98 L1282.43,-57.63 L1291.54,-57.27 L1300.67,-56.91 L1309.83,-56.54 L1319.02,-56.16 L1328.23,-55.78 L1337.47,-55.39 L1346.73,-54.99 L1356.02,-54.59 L1365.34,-54.17 L1374.69,-53.76 L1384.06,-53.33 L1393.47,-52.90 L1402.90,-52.46 L1412.36,-52.01 L1421.86,-51.56 L1431.38,-51.09 L1440.94,-50.62 L1450.53,-50.14 L1460.15,-49.66 L1469.80,-49.17 L1479.49,-48.66 L1489.21,-48.15 L1498.97,-47.64 L1508.76,-47.11 L1518.59,-46.58 L1528.46,-46.03 L1538.36,-45.48 L1548.30,-44.92 L1558.27,-44.35 L1568.29,-43.77 L1578.34,-43.19 L1588.44,-42.59 L1598.57,-41.99 L1608.75,-41.37 L1618.97,-40.75 L1629.23,-40.11 L1639.53,-39.47 L1649.88,-38.81 L1660.27,-38.15 L1670.71,-37.48 L1681.20,-36.79 L1691.72,-36.10 L1702.30,-35.39 L1712.93,-34.68 L1723.60,-33.95 L1734.32,-33.21 L1745.10,-32.46 L1755.92,-31.70 L1766.79,-30.93 L1777.72,-30.15 L1788.70,-29.35 L1799.74,-28.54 M-353.15,297.91 L-342.83,295.59 L-332.56,293.30 L-322.33,291.04 L-312.14,288.82 L-301.99,286.63 L-291.89,284.47 L-281.82,282.34 L-271.80,280.24 L-261.82,278.17 L-251.87,276.13 L-241.97,274.13 L-232.10,272.15 L-222.27,270.20 L-212.47,268.28 L-202.72,266.39 L-193.00,264.53 L-183.31,262.69 L-173.66,260.88 L-164.04,259.10 L-154.46,257.35 L-144.92,255.62 L-135.40,253.92 L-125.92,252.24 L-116.47,250.59 L-107.05,248.96 L-97.66,247.36 L-88.31,245.78 L-78.98,244.23 L-69.69,242.70 L-60.42,241.19 L-51.18,239.71 L-41.97,238.25 L-32.79,236.82 L-23.64,235.40 L-14.51,234.01 L-5.42,232.64 L3.66,231.29 L12.70,229.97 L21.72,228.66 L30.72,227.38 L39.69,226.12 L48.63,224.88 L57.55,223.66 L66.45,222.46 L75.33,221.28 L84.18,220.12 L93.01,218.98 L101.81,217.85 L110.60,216.75 L119.36,215.67 L128.10,214.61 L136.82,213.56 L145.52,212.54 L154.21,211.53 L162.87,210.54 L171.51,209.57 L180.13,208.62 L188.74,207.68 L197.32,206.77 L205.89,205.87 L214.44,204.98 L222.97,204.12 L231.49,203.27 L239.99,202.44 L248.47,201.63 L256.94,200.83 L265.39,200.05 L273.83,199.29 L282.25,198.54 L290.66,197.81 L299.05,197.10 L307.43,196.40 L315.79,195.71 L324.15,195.05 L332.48,194.40 L340.81,193.76 L349.12,193.14 L357.42,192.54 L365.71,191.95 L373.99,191.38 L382.26,190.82 L390.51,190.28 L398.76,189.75 L406.99,189.24 L415.22,188.74 L423.43,188.26 L431.64,187.79 L439.83,187.33 L448.02,186.89 L456.20,186.47 L464.37,186.06 L472.53,185.66 L480.68,185.28 L488.83,184.92 L496.97,184.56 L505.10,184.23 L513.23,183.90 L521.35,183.59 L529.46,183.30 L537.57,183.02 L545.67,182.75 L553.77,182.49 L561.86,182.25 L569.95,182.03 L578.03,181.82 L586.11,181.62 L594.19,181.43 L602.26,181.26 L610.33,181.11 L618.40,180.96 L626.46,180.83 L634.52,180.72 L642.58,180.61 L650.63,180.53 L658.69,180.45 L666.74,180.39 L674.79,180.34 L682.85,180.31 L690.90,180.29 L698.95,180.28 L707.00,180.29 L715.05,180.31 L723.10,180.34 L731.15,180.39 L739.21,180.45 L747.26,180.53 L755.32,180.61 L763.38,180.72 L771.44,180.83 L779.50,180.96 L787.56,181.11 L795.63,181.26 L803.70,181.43 L811.78,181.62 L819.86,181.82 L827.94,182.03 L836.03,182.25 L844.12,182.49 L852.22,182.75 L860.32,183.02 L868.43,183.30 L876.55,183.59 L884.67,183.90 L892.79,184.23 L900.92,184.56 L909.06,184.92 L917.21,185.28 L925.36,185.66 L933.53,186.06 L941.70,186.47 L949.88,186.89 L958.06,187.33 L966.26,187.79 L974.46,188.26 L982.68,188.74 L990.90,189.24 L999.14,189.75 L1007.38,190.28 L1015.64,190.82 L1023.90,191.38 L1032.18,191.95 L1040.47,192.54 L1048.77,193.14 L1057.08,193.76 L1065.41,194.40 L1073.75,195.05 L1082.10,195.71 L1090.47,196.40 L1098.84,197.10 L1107.24,197.81 L1115.64,198.54 L1124.06,199.29 L1132.50,200.05 L1140.95,200.83 L1149.42,201.63 L1157.90,202.44 L1166.40,203.27 L1174.92,204.12 L1183.45,204.98 L1192.00,205.87 L1200.57,206.77 L1209.16,207.68 L1217.76,208.62 L1226.39,209.57 L1235.03,210.54 L1243.69,211.53 L1252.37,212.54 L1261.07,213.56 L1269.79,214.61 L1278.53,215.67 L1287.30,216.75 L1296.08,217.85 L1304.89,218.98 L1313.72,220.12 L1322.57,221.28 L1331.44,222.46 L1340.34,223.66 L1349.26,224.88 L1358.21,226.12 L1367.18,227.38 L1376.17,228.66 L1385.19,229.97 L1394.24,231.29 L1403.31,232.64 L1412.41,234.01 L1421.53,235.40 L1430.69,236.82 L1439.87,238.25 L1449.08,239.71 L1458.31,241.19 L1467.58,242.70 L1476.88,244.23 L1486.20,245.78 L1495.56,247.36 L1504.94,248.96 L1514.36,250.59 L1523.81,252.24 L1533.29,253.92 L1542.81,255.62 L1552.36,257.35 L1561.94,259.10 L1571.55,260.88 L1581.20,262.69 L1590.89,264.53 L1600.61,266.39 L1610.37,268.28 L1620.16,270.20 L1629.99,272.15 L1639.86,274.13 L1649.77,276.13 L1659.71,278.17 L1669.69,280.24 L1679.72,282.34 L1689.78,284.47 L1699.89,286.63 L1710.03,288.82 L1720.22,291.04 L1730.45,293.30 L1740.73,295.59 L1751.05,297.91 M-264.13,593.54 L-255.07,590.12 L-246.04,586.75 L-237.03,583.43 L-228.05,580.15 L-219.10,576.92 L-210.17,573.73 L-201.27,570.59 L-192.39,567.49 L-183.54,564.44 L-174.72,561.42 L-165.91,558.45 L-157.14,555.52 L-148.39,552.63 L-139.66,549.78 L-130.95,546.98 L-122.27,544.21 L-113.62,541.48 L-104.98,538.79 L-96.37,536.14 L-87.78,533.53 L-79.21,530.95 L-70.67,528.41 L-62.14,525.91 L-53.64,523.44 L-45.16,521.01 L-36.70,518.62 L-28.26,516.26 L-19.84,513.94 L-11.44,511.65 L-3.06,509.39 L5.30,507.17 L13.64,504.98 L21.96,502.83 L30.26,500.71 L38.55,498.62 L46.81,496.56 L55.06,494.54 L63.29,492.54 L71.50,490.58 L79.70,488.65 L87.87,486.75 L96.03,484.88 L104.18,483.04 L112.31,481.23 L120.42,479.45 L128.51,477.70 L136.59,475.97 L144.66,474.28 L152.70,472.62 L160.74,470.98 L168.76,469.37 L176.76,467.79 L184.75,466.24 L192.73,464.72 L200.69,463.22 L208.64,461.75 L216.57,460.31 L224.50,458.89 L232.40,457.50 L240.30,456.13 L248.18,454.80 L256.06,453.48 L263.92,452.20 L271.76,450.94 L279.60,449.70 L287.42,448.49 L295.24,447.31 L303.04,446.14 L310.83,445.01 L318.61,443.90 L326.38,442.81 L334.15,441.75 L341.90,440.71 L349.64,439.69 L357.37,438.70 L365.09,437.74 L372.81,436.79 L380.51,435.87 L388.21,434.97 L395.90,434.10 L403.58,433.25 L411.25,432.42 L418.91,431.62 L426.57,430.84 L434.22,430.08 L441.86,429.34 L449.50,428.62 L457.13,427.93 L464.75,427.26 L472.37,426.61 L479.98,425.99 L487.58,425.38 L495.18,424.80 L502.77,424.24 L510.36,423.70 L517.94,423.18 L525.52,422.69 L533.09,422.22 L540.66,421.76 L548.23,421.33 L555.79,420.92 L563.35,420.54 L570.90,420.17 L578.45,419.82 L586.00,419.50 L593.54,419.20 L601.08,418.91 L608.62,418.65 L616.15,418.41 L623.69,418.19 L631.22,417.99 L638.75,417.82 L646.28,417.66 L653.80,417.52 L661.33,417.41 L668.85,417.32 L676.38,417.24 L683.90,417.19 L691.42,417.16 L698.95,417.15 L706.47,417.16 L713.99,417.19 L721.52,417.24 L729.04,417.32 L736.56,417.41 L744.09,417.52 L751.62,417.66 L759.15,417.82 L766.67,417.99 L774.21,418.19 L781.74,418.41 L789.28,418.65 L796.81,418.91 L804.36,419.20 L811.90,419.50 L819.45,419.82 L827.00,420.17 L834.55,420.54 L842.11,420.92 L849.67,421.33 L857.23,421.76 L864.80,422.22 L872.37,422.69 L879.95,423.18 L887.53,423.70 L895.12,424.24 L902.72,424.80 L910.31,425.38 L917.92,425.99 L925.53,426.61 L933.14,427.26 L940.77,427.93 L948.40,428.62 L956.03,429.34 L963.67,430.08 L971.32,430.84 L978.98,431.62 L986.64,432.42 L994.32,433.25 L1002.00,434.10 L1009.68,434.97 L1017.38,435.87 L1025.09,436.79 L1032.80,437.74 L1040.52,438.70 L1048.26,439.69 L1056.00,440.71 L1063.75,441.75 L1071.51,442.81 L1079.28,443.90 L1087.06,445.01 L1094.85,446.14 L1102.66,447.31 L1110.47,448.49 L1118.29,449.70 L1126.13,450.94 L1133.98,452.20 L1141.84,453.48 L1149.71,454.80 L1157.59,456.13 L1165.49,457.50 L1173.40,458.89 L1181.32,460.31 L1189.26,461.75 L1197.20,463.22 L1205.17,464.72 L1213.14,466.24 L1221.13,467.79 L1229.14,469.37 L1237.16,470.98 L1245.19,472.62 L1253.24,474.28 L1261.30,475.97 L1269.38,477.70 L1277.48,479.45 L1285.59,481.23 L1293.72,483.04 L1301.86,484.88 L1310.02,486.75 L1318.20,488.65 L1326.39,490.58 L1334.60,492.54 L1342.83,494.54 L1351.08,496.56 L1359.35,498.62 L1367.63,500.71 L1375.93,502.83 L1384.25,504.98 L1392.59,507.17 L1400.95,509.39 L1409.33,511.65 L1417.73,513.94 L1426.15,516.26 L1434.59,518.62 L1443.05,521.01 L1451.53,523.44 L1460.04,525.91 L1468.56,528.41 L1477.11,530.95 L1485.67,533.53 L1494.26,536.14 L1502.88,538.79 L1511.51,541.48 L1520.17,544.21 L1528.85,546.98 L1537.55,549.78 L1546.28,552.63 L1555.03,555.52 L1563.81,558.45 L1572.61,561.42 L1581.44,564.44 L1590.29,567.49 L1599.16,570.59 L1608.06,573.73 L1616.99,576.92 L1625.95,580.15 L1634.93,583.43 L1643.93,586.75 L1652.97,590.12 L1662.03,593.54 M-140.77,863.03 L-133.34,859.03 L-125.91,855.07 L-118.49,851.17 L-111.08,847.32 L-103.68,843.51 L-96.29,839.76 L-88.91,836.05 L-81.54,832.39 L-74.18,828.78 L-66.82,825.21 L-59.48,821.69 L-52.14,818.22 L-44.82,814.79 L-37.50,811.41 L-30.20,808.07 L-22.90,804.78 L-15.61,801.53 L-8.33,798.32 L-1.06,795.16 L6.20,792.04 L13.46,788.96 L20.70,785.92 L27.94,782.92 L35.16,779.97 L42.38,777.06 L49.59,774.18 L56.79,771.35 L63.98,768.56 L71.16,765.80 L78.33,763.09 L85.50,760.41 L92.65,757.77 L99.80,755.17 L106.94,752.61 L114.07,750.09 L121.20,747.60 L128.31,745.15 L135.42,742.74 L142.52,740.36 L149.61,738.02 L156.69,735.71 L163.77,733.44 L170.83,731.21 L177.89,729.01 L184.95,726.85 L191.99,724.72 L199.03,722.62 L206.06,720.56 L213.08,718.53 L220.10,716.53 L227.10,714.57 L234.10,712.64 L241.10,710.75 L248.09,708.88 L255.07,707.05 L262.04,705.26 L269.01,703.49 L275.97,701.75 L282.92,700.05 L289.87,698.38 L296.81,696.74 L303.75,695.13 L310.68,693.55 L317.60,692.00 L324.52,690.48 L331.43,689.00 L338.34,687.54 L345.24,686.11 L352.14,684.72 L359.03,683.35 L365.91,682.01 L372.79,680.70 L379.66,679.42 L386.53,678.17 L393.40,676.95 L400.26,675.76 L407.11,674.59 L413.96,673.46 L420.81,672.35 L427.65,671.27 L434.49,670.22 L441.32,669.20 L448.15,668.20 L454.98,667.23 L461.80,666.30 L468.62,665.38 L475.43,664.50 L482.24,663.64 L489.05,662.81 L495.85,662.01 L502.65,661.24 L509.45,660.49 L516.25,659.77 L523.04,659.07 L529.83,658.41 L536.61,657.77 L543.40,657.15 L550.18,656.56 L556.96,656.00 L563.73,655.47 L570.51,654.96 L577.28,654.48 L584.05,654.02 L590.82,653.60 L597.58,653.19 L604.35,652.82 L611.11,652.47 L617.87,652.14 L624.63,651.84 L631.39,651.57 L638.15,651.33 L644.91,651.11 L651.67,650.91 L658.42,650.74 L665.18,650.60 L671.93,650.48 L678.69,650.39 L685.44,650.33 L692.19,650.29 L698.95,650.28 L705.70,650.29 L712.45,650.33 L719.21,650.39 L725.96,650.48 L732.72,650.60 L739.47,650.74 L746.23,650.91 L752.98,651.11 L759.74,651.33 L766.50,651.57 L773.26,651.84 L780.02,652.14 L786.78,652.47 L793.55,652.82 L800.31,653.19 L807.08,653.60 L813.85,654.02 L820.62,654.48 L827.39,654.96 L834.16,655.47 L840.94,656.00 L847.72,656.56 L854.50,657.15 L861.28,657.77 L868.07,658.41 L874.86,659.07 L881.65,659.77 L888.44,660.49 L895.24,661.24 L902.04,662.01 L908.84,662.81 L915.65,663.64 L922.46,664.50 L929.28,665.38 L936.09,666.30 L942.92,667.23 L949.74,668.20 L956.57,669.20 L963.40,670.22 L970.24,671.27 L977.08,672.35 L983.93,673.46 L990.78,674.59 L997.64,675.76 L1004.50,676.95 L1011.36,678.17 L1018.23,679.42 L1025.10,680.70 L1031.98,682.01 L1038.87,683.35 L1045.76,684.72 L1052.65,686.11 L1059.55,687.54 L1066.46,689.00 L1073.37,690.48 L1080.29,692.00 L1087.22,693.55 L1094.14,695.13 L1101.08,696.74 L1108.02,698.38 L1114.97,700.05 L1121.93,701.75 L1128.89,703.49 L1135.85,705.26 L1142.83,707.05 L1149.81,708.88 L1156.80,710.75 L1163.79,712.64 L1170.79,714.57 L1177.80,716.53 L1184.81,718.53 L1191.84,720.56 L1198.87,722.62 L1205.90,724.72 L1212.95,726.85 L1220.00,729.01 L1227.06,731.21 L1234.13,733.44 L1241.20,735.71 L1248.29,738.02 L1255.38,740.36 L1262.48,742.74 L1269.58,745.15 L1276.70,747.60 L1283.82,750.09 L1290.95,752.61 L1298.09,755.17 L1305.24,757.77 L1312.40,760.41 L1319.56,763.09 L1326.73,765.80 L1333.92,768.56 L1341.11,771.35 L1348.31,774.18 L1355.52,777.06 L1362.73,779.97 L1369.96,782.92 L1377.19,785.92 L1384.44,788.96 L1391.69,792.04 L1398.95,795.16 L1406.22,798.32 L1413.50,801.53 L1420.79,804.78 L1428.09,808.07 L1435.40,811.41 L1442.71,814.79 L1450.04,818.22 L1457.37,821.69 L1464.72,825.21 L1472.07,828.78 L1479.43,832.39 L1486.81,836.05 L1494.19,839.76 L1501.58,843.51 L1508.98,847.32 L1516.38,851.17 L1523.80,855.07 L1531.23,859.03 L1538.67,863.03 M14.87,1110.03 L20.45,1106.00 L26.04,1102.02 L31.63,1098.08 L37.23,1094.19 L42.83,1090.34 L48.44,1086.53 L54.06,1082.77 L59.68,1079.06 L65.31,1075.38 L70.94,1071.75 L76.57,1068.16 L82.21,1064.62 L87.85,1061.11 L93.50,1057.65 L99.15,1054.23 L104.81,1050.85 L110.47,1047.51 L116.13,1044.21 L121.80,1040.96 L127.47,1037.74 L133.14,1034.56 L138.82,1031.43 L144.50,1028.33 L150.18,1025.27 L155.86,1022.25 L161.55,1019.27 L167.24,1016.33 L172.93,1013.43 L178.62,1010.56 L184.32,1007.74 L190.02,1004.95 L195.72,1002.19 L201.42,999.48 L207.12,996.80 L212.83,994.16 L218.53,991.56 L224.24,988.99 L229.95,986.46 L235.66,983.96 L241.37,981.50 L247.08,979.08 L252.80,976.69 L258.51,974.33 L264.23,972.01 L269.94,969.73 L275.66,967.48 L281.38,965.27 L287.10,963.09 L292.82,960.94 L298.53,958.83 L304.26,956.75 L309.98,954.70 L315.70,952.69 L321.42,950.71 L327.14,948.77 L332.86,946.85 L338.59,944.97 L344.31,943.13 L350.03,941.31 L355.76,939.53 L361.48,937.78 L367.20,936.06 L372.93,934.37 L378.65,932.72 L384.38,931.10 L390.10,929.51 L395.82,927.95 L401.55,926.42 L407.27,924.92 L412.99,923.46 L418.72,922.02 L424.44,920.62 L430.16,919.24 L435.89,917.90 L441.61,916.59 L447.33,915.30 L453.06,914.05 L458.78,912.83 L464.50,911.64 L470.22,910.48 L475.95,909.34 L481.67,908.24 L487.39,907.17 L493.11,906.13 L498.83,905.11 L504.55,904.13 L510.27,903.18 L515.99,902.25 L521.71,901.35 L527.43,900.49 L533.15,899.65 L538.87,898.84 L544.59,898.06 L550.31,897.31 L556.03,896.59 L561.75,895.90 L567.47,895.23 L573.18,894.60 L578.90,893.99 L584.62,893.41 L590.34,892.86 L596.06,892.34 L601.77,891.84 L607.49,891.38 L613.21,890.94 L618.92,890.54 L624.64,890.16 L630.36,889.80 L636.07,889.48 L641.79,889.19 L647.51,888.92 L653.22,888.68 L658.94,888.47 L664.65,888.29 L670.37,888.13 L676.08,888.01 L681.80,887.91 L687.52,887.84 L693.23,887.80 L698.95,887.78 L704.66,887.80 L710.38,887.84 L716.09,887.91 L721.81,888.01 L727.53,888.13 L733.24,888.29 L738.96,888.47 L744.67,888.68 L750.39,888.92 L756.10,889.19 L761.82,889.48 L767.54,889.80 L773.25,890.16 L778.97,890.54 L784.69,890.94 L790.40,891.38 L796.12,891.84 L801.84,892.34 L807.56,892.86 L813.27,893.41 L818.99,893.99 L824.71,894.60 L830.43,895.23 L836.15,895.90 L841.86,896.59 L847.58,897.31 L853.30,898.06 L859.02,898.84 L864.74,899.65 L870.46,900.49 L876.18,901.35 L881.90,902.25 L887.62,903.18 L893.34,904.13 L899.06,905.11 L904.78,906.13 L910.50,907.17 L916.23,908.24 L921.95,909.34 L927.67,910.48 L933.39,911.64 L939.11,912.83 L944.84,914.05 L950.56,915.30 L956.28,916.59 L962.01,917.90 L967.73,919.24 L973.45,920.62 L979.18,922.02 L984.90,923.46 L990.62,924.92 L996.35,926.42 L1002.07,927.95 L1007.79,929.51 L1013.52,931.10 L1019.24,932.72 L1024.97,934.37 L1030.69,936.06 L1036.41,937.78 L1042.14,939.53 L1047.86,941.31 L1053.58,943.13 L1059.31,944.97 L1065.03,946.85 L1070.75,948.77 L1076.47,950.71 L1082.20,952.69 L1087.92,954.70 L1093.64,956.75 L1099.36,958.83 L1105.08,960.94 L1110.80,963.09 L1116.52,965.27 L1122.23,967.48 L1127.95,969.73 L1133.67,972.01 L1139.38,974.33 L1145.10,976.69 L1150.81,979.08 L1156.52,981.50 L1162.24,983.96 L1167.95,986.46 L1173.66,988.99 L1179.36,991.56 L1185.07,994.16 L1190.77,996.80 L1196.48,999.48 L1202.18,1002.19 L1207.88,1004.95 L1213.57,1007.74 L1219.27,1010.56 L1224.96,1013.43 L1230.66,1016.33 L1236.34,1019.27 L1242.03,1022.25 L1247.72,1025.27 L1253.40,1028.33 L1259.08,1031.43 L1264.75,1034.56 L1270.42,1037.74 L1276.09,1040.96 L1281.76,1044.21 L1287.42,1047.51 L1293.08,1050.85 L1298.74,1054.23 L1304.39,1057.65 L1310.04,1061.11 L1315.68,1064.62 L1321.32,1068.16 L1326.96,1071.75 L1332.59,1075.38 L1338.21,1079.06 L1343.84,1082.77 L1349.45,1086.53 L1355.06,1090.34 L1360.67,1094.19 L1366.26,1098.08 L1371.86,1102.02 L1377.44,1106.00 L1383.02,1110.03 M203.80,1336.65 L207.42,1333.22 L211.06,1329.83 L214.71,1326.47 L218.37,1323.14 L222.05,1319.84 L225.74,1316.58 L229.45,1313.35 L233.18,1310.15 L236.91,1306.98 L240.66,1303.85 L244.42,1300.74 L248.20,1297.67 L251.99,1294.63 L255.79,1291.63 L259.61,1288.65 L263.43,1285.71 L267.27,1282.80 L271.12,1279.92 L274.98,1277.07 L278.86,1274.25 L282.74,1271.46 L286.64,1268.71 L290.55,1265.98 L294.46,1263.29 L298.39,1260.63 L302.33,1258.00 L306.28,1255.40 L310.24,1252.83 L314.21,1250.29 L318.18,1247.78 L322.17,1245.30 L326.17,1242.85 L330.17,1240.43 L334.19,1238.05 L338.21,1235.69 L342.25,1233.36 L346.29,1231.06 L350.33,1228.79 L354.39,1226.56 L358.46,1224.35 L362.53,1222.17 L366.61,1220.02 L370.70,1217.90 L374.79,1215.81 L378.90,1213.75 L383.01,1211.71 L387.12,1209.71 L391.25,1207.74 L395.38,1205.79 L399.51,1203.88 L403.66,1201.99 L407.81,1200.13 L411.96,1198.30 L416.12,1196.50 L420.29,1194.73 L424.46,1192.99 L428.64,1191.27 L432.83,1189.59 L437.02,1187.93 L441.21,1186.30 L445.41,1184.69 L449.62,1183.12 L453.83,1181.58 L458.05,1180.06 L462.27,1178.57 L466.49,1177.11 L470.72,1175.67 L474.95,1174.27 L479.19,1172.89 L483.44,1171.54 L487.68,1170.22 L491.93,1168.92 L496.19,1167.65 L500.45,1166.41 L504.71,1165.20 L508.97,1164.01 L513.24,1162.86 L517.52,1161.72 L521.79,1160.62 L526.07,1159.54 L530.35,1158.50 L534.64,1157.47 L538.93,1156.48 L543.22,1155.51 L547.51,1154.57 L551.81,1153.66 L556.11,1152.77 L560.41,1151.91 L564.72,1151.07 L569.02,1150.27 L573.33,1149.49 L577.65,1148.73 L581.96,1148.01 L586.27,1147.31 L590.59,1146.64 L594.91,1145.99 L599.23,1145.37 L603.56,1144.78 L607.88,1144.21 L612.21,1143.67 L616.54,1143.15 L620.86,1142.67 L625.20,1142.21 L629.53,1141.77 L633.86,1141.36 L638.19,1140.98 L642.53,1140.63 L646.87,1140.30 L651.20,1140.00 L655.54,1139.72 L659.88,1139.47 L664.22,1139.25 L668.56,1139.05 L672.90,1138.88 L677.24,1138.73 L681.58,1138.62 L685.92,1138.52 L690.26,1138.46 L694.61,1138.42 L698.95,1138.41 L703.29,1138.42 L707.63,1138.46 L711.97,1138.52 L716.31,1138.62 L720.65,1138.73 L725.00,1138.88 L729.34,1139.05 L733.68,1139.25 L738.02,1139.47 L742.35,1139.72 L746.69,1140.00 L751.03,1140.30 L755.36,1140.63 L759.70,1140.98 L764.03,1141.36 L768.37,1141.77 L772.70,1142.21 L777.03,1142.67 L781.36,1143.15 L785.69,1143.67 L790.01,1144.21 L794.34,1144.78 L798.66,1145.37 L802.98,1145.99 L807.30,1146.64 L811.62,1147.31 L815.94,1148.01 L820.25,1148.73 L824.56,1149.49 L828.87,1150.27 L833.18,1151.07 L837.48,1151.91 L841.78,1152.77 L846.08,1153.66 L850.38,1154.57 L854.67,1155.51 L858.97,1156.48 L863.25,1157.47 L867.54,1158.50 L871.82,1159.54 L876.10,1160.62 L880.38,1161.72 L884.65,1162.86 L888.92,1164.01 L893.19,1165.20 L897.45,1166.41 L901.71,1167.65 L905.96,1168.92 L910.21,1170.22 L914.46,1171.54 L918.70,1172.89 L922.94,1174.27 L927.17,1175.67 L931.40,1177.11 L935.63,1178.57 L939.85,1180.06 L944.06,1181.58 L948.27,1183.12 L952.48,1184.69 L956.68,1186.30 L960.88,1187.93 L965.07,1189.59 L969.25,1191.27 L973.43,1192.99 L977.60,1194.73 L981.77,1196.50 L985.93,1198.30 L990.09,1200.13 L994.24,1201.99 L998.38,1203.88 L1002.52,1205.79 L1006.65,1207.74 L1010.77,1209.71 L1014.89,1211.71 L1019.00,1213.75 L1023.10,1215.81 L1027.20,1217.90 L1031.28,1220.02 L1035.36,1222.17 L1039.44,1224.35 L1043.50,1226.56 L1047.56,1228.79 L1051.61,1231.06 L1055.65,1233.36 L1059.68,1235.69 L1063.70,1238.05 L1067.72,1240.43 L1071.73,1242.85 L1075.72,1245.30 L1079.71,1247.78 L1083.69,1250.29 L1087.66,1252.83 L1091.61,1255.40 L1095.56,1258.00 L1099.50,1260.63 L1103.43,1263.29 L1107.35,1265.98 L1111.25,1268.71 L1115.15,1271.46 L1119.04,1274.25 L1122.91,1277.07 L1126.77,1279.92 L1130.62,1282.80 L1134.46,1285.71 L1138.29,1288.65 L1142.10,1291.63 L1145.90,1294.63 L1149.69,1297.67 L1153.47,1300.74 L1157.23,1303.85 L1160.98,1306.98 L1164.72,1310.15 L1168.44,1313.35 L1172.15,1316.58 L1175.84,1319.84 L1179.52,1323.14 L1183.19,1326.47 L1186.84,1329.83 L1190.47,1333.22 L1194.09,1336.65 M399.26,1427.94 L392.83,1420.33 L386.44,1412.71 L380.09,1405.08 L373.79,1397.44 L367.54,1389.79 L361.33,1382.14 L355.17,1374.48 L349.04,1366.82 L342.96,1359.14 L336.93,1351.46 L330.93,1343.78 L324.98,1336.08 L319.07,1328.38 L313.21,1320.67 L307.38,1312.95 L301.59,1305.23 L295.85,1297.49 L290.15,1289.75 L284.48,1282.01 L278.86,1274.25 L273.27,1266.49 L267.73,1258.72 L262.22,1250.94 L256.76,1243.15 L251.33,1235.36 L245.94,1227.56 L240.59,1219.75 L235.27,1211.93 L229.99,1204.10 L224.75,1196.27 L219.55,1188.43 L214.39,1180.58 L209.26,1172.72 L204.17,1164.85 L199.11,1156.97 L194.09,1149.09 L189.10,1141.19 L184.16,1133.29 L179.24,1125.38 L174.36,1117.46 L169.52,1109.53 L164.71,1101.59 L159.94,1093.64 L155.20,1085.69 L150.49,1077.72 L145.82,1069.74 L141.18,1061.76 L136.58,1053.76 L132.01,1045.76 L127.47,1037.74 L122.97,1029.71 L118.49,1021.68 L114.06,1013.63 L109.65,1005.58 L105.28,997.51 L100.94,989.43 L96.63,981.34 L92.35,973.24 L88.11,965.13 L83.90,957.01 L79.72,948.88 L75.57,940.73 L71.45,932.58 L67.37,924.41 L63.32,916.23 L59.29,908.04 L55.30,899.84 L51.34,891.62 L47.41,883.39 L43.51,875.15 L39.64,866.90 L35.81,858.64 L32.00,850.36 L28.22,842.07 L24.48,833.76 L20.76,825.44 L17.08,817.11 L13.42,808.77 L9.80,800.41 L6.20,792.04 L2.64,783.65 L-0.89,775.25 L-4.40,766.83 L-7.87,758.40 L-11.32,749.96 L-14.73,741.50 L-18.12,733.02 L-21.47,724.53 L-24.80,716.02 L-28.10,707.50 L-31.36,698.97 L-34.60,690.41 L-37.81,681.84 L-40.98,673.26 L-44.13,664.66 L-47.25,656.04 L-50.34,647.40 L-53.39,638.75 L-56.42,630.08 L-59.42,621.39 L-62.39,612.69 L-65.33,603.97 L-68.24,595.23 L-71.12,586.47 L-73.97,577.69 L-76.79,568.90 L-79.59,560.08 L-82.35,551.25 L-85.08,542.40 L-87.78,533.53 L-90.45,524.63 L-93.09,515.72 L-95.70,506.79 L-98.28,497.84 L-100.83,488.87 L-103.35,479.88 L-105.84,470.87 L-108.30,461.83 L-110.73,452.78 L-113.13,443.70 L-115.50,434.61 L-117.83,425.49 L-120.14,416.35 L-122.41,407.18 L-124.65,398.00 L-126.87,388.79 L-129.05,379.56 L-131.19,370.30 L-133.31,361.02 L-135.40,351.72 L-137.45,342.39 L-139.47,333.04 L-141.46,323.67 L-143.42,314.27 L-145.34,304.85 L-147.23,295.40 L-149.09,285.92 L-150.91,276.42 L-152.70,266.90 L-154.46,257.35 L-156.19,247.77 L-157.88,238.17 L-159.54,228.53 L-161.16,218.88 L-162.75,209.19 L-164.30,199.48 L-165.82,189.74 L-167.30,179.97 L-168.75,170.17 L-170.17,160.34 L-171.54,150.49 L-172.88,140.61 L-174.19,130.69 L-175.46,120.75 L-176.69,110.78 L-177.88,100.77 L-179.04,90.74 L-180.16,80.68 L-181.24,70.58 L-182.29,60.46 L-183.29,50.30 L-184.26,40.11 L-185.18,29.89 L-186.07,19.63 L-186.92,9.34 L-187.72,-0.98 L-188.49,-11.33 L-189.22,-21.72 L-189.90,-32.14 L-190.54,-42.59 L-191.15,-53.08 L-191.70,-63.60 L-192.22,-74.16 L-192.69,-84.76 L-193.12,-95.39 L-193.51,-106.05 L-193.85,-116.75 L-194.14,-127.49 L-194.39,-138.27 L-194.60,-149.08 M453.65,1388.22 L448.52,1379.96 L443.42,1371.72 L438.37,1363.47 L433.36,1355.24 L428.39,1347.01 L423.46,1338.79 L418.57,1330.58 L413.72,1322.37 L408.91,1314.17 L404.13,1305.98 L399.40,1297.79 L394.70,1289.61 L390.04,1281.43 L385.42,1273.26 L380.84,1265.10 L376.29,1256.94 L371.78,1248.78 L367.30,1240.63 L362.86,1232.49 L358.46,1224.35 L354.09,1216.21 L349.75,1208.08 L345.45,1199.95 L341.18,1191.83 L336.95,1183.71 L332.75,1175.60 L328.58,1167.48 L324.45,1159.38 L320.35,1151.27 L316.28,1143.17 L312.25,1135.07 L308.24,1126.97 L304.27,1118.88 L300.33,1110.79 L296.42,1102.70 L292.54,1094.61 L288.69,1086.53 L284.88,1078.44 L281.09,1070.36 L277.33,1062.28 L273.61,1054.20 L269.91,1046.12 L266.24,1038.04 L262.60,1029.96 L258.99,1021.89 L255.41,1013.81 L251.86,1005.73 L248.33,997.66 L244.84,989.58 L241.37,981.50 L237.93,973.42 L234.52,965.34 L231.13,957.26 L227.77,949.18 L224.44,941.10 L221.14,933.01 L217.86,924.93 L214.62,916.84 L211.39,908.75 L208.20,900.66 L205.03,892.56 L201.88,884.47 L198.76,876.36 L195.67,868.26 L192.60,860.15 L189.56,852.04 L186.55,843.93 L183.56,835.81 L180.59,827.69 L177.65,819.56 L174.74,811.43 L171.85,803.30 L168.98,795.16 L166.14,787.01 L163.32,778.86 L160.53,770.70 L157.76,762.54 L155.02,754.37 L152.30,746.20 L149.61,738.02 L146.94,729.83 L144.29,721.64 L141.67,713.44 L139.07,705.23 L136.49,697.02 L133.94,688.80 L131.42,680.57 L128.91,672.33 L126.43,664.08 L123.97,655.83 L121.54,647.57 L119.13,639.29 L116.74,631.01 L114.38,622.72 L112.04,614.42 L109.72,606.12 L107.43,597.80 L105.15,589.47 L102.91,581.13 L100.68,572.78 L98.48,564.42 L96.30,556.05 L94.14,547.66 L92.01,539.27 L89.90,530.86 L87.81,522.44 L85.75,514.01 L83.71,505.57 L81.69,497.12 L79.70,488.65 L77.72,480.17 L75.78,471.67 L73.85,463.16 L71.95,454.64 L70.07,446.11 L68.21,437.56 L66.38,428.99 L64.57,420.41 L62.78,411.82 L61.02,403.21 L59.28,394.58 L57.56,385.94 L55.87,377.28 L54.20,368.61 L52.55,359.92 L50.93,351.21 L49.33,342.48 L47.75,333.74 L46.20,324.98 L44.67,316.20 L43.17,307.41 L41.68,298.59 L40.23,289.76 L38.80,280.91 L37.39,272.04 L36.01,263.15 L34.65,254.24 L33.31,245.30 L32.00,236.35 L30.72,227.38 L29.46,218.39 L28.22,209.37 L27.01,200.34 L25.83,191.28 L24.67,182.20 L23.53,173.10 L22.43,163.97 L21.34,154.83 L20.29,145.66 L19.26,136.46 L18.25,127.24 L17.28,118.00 L16.33,108.73 L15.40,99.44 L14.51,90.12 L13.64,80.78 L12.79,71.41 L11.98,62.01 L11.19,52.59 L10.43,43.14 L9.70,33.66 L9.00,24.16 L8.32,14.63 L7.68,5.07 L7.06,-4.52 L6.48,-14.13 L5.92,-23.78 L5.39,-33.46 L4.89,-43.16 L4.43,-52.90 L3.99,-62.66 L3.59,-72.46 L3.21,-82.29 L2.87,-92.15 L2.56,-102.04 L2.28,-111.97 L2.03,-121.93 L1.81,-131.92 L1.63,-141.94 L1.48,-152.00 M511.86,1357.40 L508.03,1348.68 L504.22,1339.97 L500.45,1331.29 L496.72,1322.62 L493.01,1313.98 L489.34,1305.35 L485.70,1296.73 L482.10,1288.14 L478.52,1279.57 L474.98,1271.01 L471.47,1262.46 L467.99,1253.94 L464.54,1245.43 L461.12,1236.94 L457.73,1228.46 L454.37,1220.00 L451.04,1211.55 L447.73,1203.12 L444.46,1194.70 L441.21,1186.30 L437.99,1177.91 L434.80,1169.53 L431.64,1161.17 L428.51,1152.82 L425.40,1144.49 L422.32,1136.16 L419.26,1127.85 L416.23,1119.55 L413.23,1111.27 L410.25,1102.99 L407.30,1094.73 L404.37,1086.48 L401.47,1078.23 L398.59,1070.00 L395.74,1061.78 L392.91,1053.57 L390.11,1045.37 L387.33,1037.18 L384.57,1029.00 L381.84,1020.82 L379.13,1012.66 L376.44,1004.50 L373.78,996.35 L371.14,988.21 L368.52,980.08 L365.92,971.96 L363.35,963.84 L360.80,955.73 L358.27,947.63 L355.76,939.53 L353.27,931.44 L350.80,923.35 L348.36,915.27 L345.94,907.20 L343.53,899.13 L341.15,891.07 L338.79,883.01 L336.45,874.95 L334.13,866.90 L331.83,858.85 L329.55,850.81 L327.29,842.77 L325.05,834.74 L322.83,826.70 L320.62,818.67 L318.44,810.65 L316.28,802.62 L314.14,794.60 L312.01,786.57 L309.91,778.55 L307.82,770.53 L305.75,762.52 L303.70,754.50 L301.67,746.48 L299.66,738.47 L297.67,730.45 L295.69,722.43 L293.73,714.42 L291.79,706.40 L289.87,698.38 L287.97,690.36 L286.08,682.34 L284.21,674.31 L282.36,666.29 L280.53,658.26 L278.72,650.23 L276.92,642.20 L275.14,634.16 L273.38,626.13 L271.63,618.08 L269.90,610.04 L268.19,601.99 L266.50,593.94 L264.82,585.88 L263.17,577.81 L261.52,569.75 L259.90,561.67 L258.29,553.59 L256.70,545.51 L255.12,537.42 L253.57,529.32 L252.02,521.22 L250.50,513.11 L248.99,505.00 L247.50,496.87 L246.03,488.74 L244.57,480.60 L243.13,472.45 L241.71,464.30 L240.30,456.13 L238.91,447.96 L237.54,439.78 L236.18,431.59 L234.84,423.39 L233.52,415.18 L232.21,406.96 L230.92,398.72 L229.64,390.48 L228.39,382.23 L227.15,373.96 L225.92,365.69 L224.72,357.40 L223.53,349.10 L222.35,340.79 L221.20,332.46 L220.06,324.12 L218.93,315.77 L217.83,307.41 L216.74,299.03 L215.67,290.64 L214.61,282.23 L213.57,273.81 L212.55,265.37 L211.55,256.92 L210.56,248.45 L209.59,239.97 L208.64,231.47 L207.71,222.95 L206.79,214.42 L205.89,205.87 L205.01,197.30 L204.14,188.71 L203.30,180.11 L202.47,171.49 L201.66,162.84 L200.87,154.18 L200.09,145.51 L199.33,136.81 L198.60,128.09 L197.88,119.35 L197.18,110.59 L196.49,101.81 L195.83,93.00 L195.18,84.18 L194.56,75.33 L193.95,66.46 L193.36,57.57 L192.79,48.66 L192.24,39.72 L191.71,30.75 L191.20,21.77 L190.71,12.76 L190.24,3.72 L189.79,-5.34 L189.36,-14.43 L188.96,-23.54 L188.57,-32.68 L188.20,-41.85 L187.85,-51.04 L187.53,-60.26 L187.22,-69.51 L186.94,-78.79 L186.68,-88.10 L186.44,-97.43 L186.22,-106.80 L186.03,-116.19 L185.86,-125.62 L185.71,-135.08 L185.58,-144.57 L185.48,-154.09 M572.79,1335.45 L570.24,1326.41 L567.71,1317.40 L565.21,1308.41 L562.73,1299.46 L560.27,1290.53 L557.84,1281.62 L555.43,1272.75 L553.05,1263.89 L550.68,1255.07 L548.34,1246.27 L546.02,1237.49 L543.72,1228.74 L541.44,1220.01 L539.18,1211.30 L536.95,1202.62 L534.73,1193.96 L532.54,1185.33 L530.36,1176.71 L528.21,1168.12 L526.07,1159.54 L523.96,1150.99 L521.86,1142.46 L519.78,1133.95 L517.72,1125.46 L515.68,1116.99 L513.66,1108.53 L511.66,1100.10 L509.67,1091.68 L507.70,1083.29 L505.75,1074.90 L503.82,1066.54 L501.91,1058.19 L500.01,1049.87 L498.13,1041.55 L496.26,1033.25 L494.42,1024.97 L492.59,1016.70 L490.77,1008.45 L488.97,1000.22 L487.19,991.99 L485.43,983.78 L483.68,975.59 L481.94,967.41 L480.22,959.24 L478.52,951.08 L476.83,942.94 L475.16,934.80 L473.50,926.68 L471.85,918.57 L470.22,910.48 L468.61,902.39 L467.01,894.31 L465.42,886.25 L463.85,878.19 L462.29,870.14 L460.75,862.11 L459.22,854.08 L457.71,846.06 L456.20,838.05 L454.71,830.05 L453.24,822.05 L451.78,814.06 L450.33,806.08 L448.89,798.11 L447.47,790.15 L446.06,782.19 L444.67,774.23 L443.28,766.28 L441.91,758.34 L440.55,750.41 L439.21,742.47 L437.88,734.55 L436.55,726.63 L435.25,718.71 L433.95,710.79 L432.67,702.88 L431.40,694.97 L430.14,687.07 L428.89,679.17 L427.65,671.27 L426.43,663.37 L425.22,655.48 L424.02,647.59 L422.83,639.69 L421.65,631.80 L420.49,623.91 L419.33,616.02 L418.19,608.14 L417.06,600.25 L415.94,592.36 L414.83,584.47 L413.74,576.58 L412.65,568.69 L411.58,560.79 L410.52,552.90 L409.46,545.00 L408.42,537.11 L407.39,529.20 L406.38,521.30 L405.37,513.39 L404.37,505.48 L403.39,497.57 L402.41,489.65 L401.45,481.73 L400.50,473.81 L399.55,465.88 L398.62,457.94 L397.70,450.00 L396.80,442.05 L395.90,434.10 L395.01,426.14 L394.13,418.18 L393.27,410.21 L392.41,402.23 L391.57,394.24 L390.74,386.25 L389.91,378.25 L389.10,370.24 L388.30,362.22 L387.51,354.20 L386.73,346.16 L385.96,338.12 L385.20,330.06 L384.46,322.00 L383.72,313.92 L383.00,305.84 L382.28,297.74 L381.58,289.64 L380.88,281.52 L380.20,273.39 L379.53,265.25 L378.87,257.09 L378.22,248.93 L377.59,240.75 L376.96,232.55 L376.34,224.35 L375.74,216.13 L375.14,207.89 L374.56,199.64 L373.99,191.38 L373.43,183.10 L372.88,174.80 L372.34,166.49 L371.82,158.16 L371.30,149.82 L370.80,141.46 L370.31,133.08 L369.83,124.69 L369.36,116.27 L368.91,107.84 L368.46,99.39 L368.03,90.92 L367.61,82.43 L367.20,73.92 L366.80,65.39 L366.42,56.84 L366.04,48.27 L365.68,39.68 L365.33,31.07 L365.00,22.44 L364.68,13.78 L364.36,5.10 L364.07,-3.60 L363.78,-12.33 L363.51,-21.08 L363.25,-29.86 L363.00,-38.65 L362.77,-47.48 L362.55,-56.33 L362.35,-65.21 L362.15,-74.11 L361.97,-83.04 L361.81,-91.99 L361.66,-100.98 L361.52,-109.99 L361.40,-119.03 L361.29,-128.10 L361.19,-137.20 L361.11,-146.33 L361.05,-155.49 M635.45,1322.32 L634.17,1313.09 L632.91,1303.90 L631.67,1294.74 L630.43,1285.62 L629.21,1276.52 L627.99,1267.46 L626.80,1258.43 L625.61,1249.43 L624.43,1240.46 L623.27,1231.52 L622.11,1222.61 L620.97,1213.73 L619.84,1204.88 L618.71,1196.06 L617.60,1187.26 L616.50,1178.49 L615.41,1169.74 L614.34,1161.03 L613.27,1152.34 L612.21,1143.67 L611.16,1135.03 L610.12,1126.41 L609.09,1117.82 L608.07,1109.25 L607.06,1100.70 L606.06,1092.17 L605.07,1083.67 L604.08,1075.19 L603.11,1066.73 L602.15,1058.30 L601.19,1049.88 L600.25,1041.48 L599.31,1033.11 L598.38,1024.75 L597.46,1016.41 L596.55,1008.10 L595.64,999.80 L594.75,991.51 L593.86,983.25 L592.98,975.00 L592.11,966.77 L591.25,958.56 L590.39,950.36 L589.54,942.18 L588.70,934.02 L587.87,925.87 L587.05,917.73 L586.23,909.61 L585.42,901.50 L584.62,893.41 L583.83,885.33 L583.04,877.26 L582.26,869.21 L581.49,861.17 L580.72,853.14 L579.96,845.13 L579.21,837.12 L578.47,829.13 L577.73,821.14 L577.00,813.17 L576.27,805.21 L575.55,797.26 L574.84,789.31 L574.14,781.38 L573.44,773.46 L572.75,765.54 L572.07,757.63 L571.39,749.74 L570.71,741.84 L570.05,733.96 L569.39,726.08 L568.74,718.21 L568.09,710.35 L567.45,702.49 L566.81,694.64 L566.19,686.80 L565.56,678.96 L564.95,671.12 L564.34,663.29 L563.73,655.47 L563.13,647.65 L562.54,639.83 L561.95,632.02 L561.37,624.21 L560.80,616.40 L560.23,608.59 L559.66,600.79 L559.11,592.99 L558.55,585.19 L558.01,577.40 L557.46,569.60 L556.93,561.81 L556.40,554.01 L555.88,546.22 L555.36,538.42 L554.84,530.63 L554.34,522.84 L553.83,515.04 L553.34,507.24 L552.84,499.45 L552.36,491.65 L551.88,483.85 L551.40,476.04 L550.93,468.24 L550.47,460.43 L550.01,452.62 L549.56,444.80 L549.11,436.98 L548.67,429.16 L548.23,421.33 L547.80,413.50 L547.37,405.66 L546.95,397.82 L546.53,389.98 L546.12,382.12 L545.71,374.26 L545.31,366.40 L544.92,358.52 L544.53,350.65 L544.14,342.76 L543.76,334.86 L543.39,326.96 L543.02,319.05 L542.66,311.13 L542.30,303.21 L541.95,295.27 L541.60,287.32 L541.26,279.37 L540.92,271.40 L540.59,263.42 L540.26,255.44 L539.94,247.44 L539.63,239.43 L539.32,231.41 L539.01,223.37 L538.71,215.33 L538.42,207.27 L538.13,199.20 L537.85,191.11 L537.57,183.02 L537.30,174.90 L537.03,166.78 L536.77,158.63 L536.52,150.48 L536.27,142.31 L536.02,134.12 L535.78,125.92 L535.55,117.70 L535.32,109.46 L535.10,101.21 L534.89,92.93 L534.68,84.64 L534.47,76.34 L534.27,68.01 L534.08,59.67 L533.89,51.30 L533.71,42.92 L533.54,34.51 L533.37,26.09 L533.21,17.64 L533.05,9.18 L532.90,0.69 L532.75,-7.82 L532.62,-16.36 L532.48,-24.91 L532.36,-33.49 L532.24,-42.10 L532.13,-50.72 L532.02,-59.38 L531.92,-68.05 L531.83,-76.75 L531.74,-85.48 L531.66,-94.24 L531.58,-103.02 L531.52,-111.83 L531.46,-120.66 L531.41,-129.53 L531.36,-138.42 L531.32,-147.34 L531.29,-156.29 M698.95,1317.94 L698.95,1308.66 L698.95,1299.41 L698.95,1290.19 L698.95,1281.01 L698.95,1271.87 L698.95,1262.75 L698.95,1253.68 L698.95,1244.63 L698.95,1235.61 L698.95,1226.63 L698.95,1217.67 L698.95,1208.75 L698.95,1199.86 L698.95,1191.00 L698.95,1182.16 L698.95,1173.36 L698.95,1164.58 L698.95,1155.83 L698.95,1147.10 L698.95,1138.41 L698.95,1129.74 L698.95,1121.09 L698.95,1112.47 L698.95,1103.88 L698.95,1095.30 L698.95,1086.76 L698.95,1078.23 L698.95,1069.73 L698.95,1061.26 L698.95,1052.80 L698.95,1044.37 L698.95,1035.96 L698.95,1027.57 L698.95,1019.20 L698.95,1010.85 L698.95,1002.52 L698.95,994.21 L698.95,985.92 L698.95,977.65 L698.95,969.39 L698.95,961.16 L698.95,952.94 L698.95,944.74 L698.95,936.55 L698.95,928.38 L698.95,920.23 L698.95,912.10 L698.95,903.98 L698.95,895.87 L698.95,887.78 L698.95,879.71 L698.95,871.64 L698.95,863.60 L698.95,855.56 L698.95,847.54 L698.95,839.53 L698.95,831.53 L698.95,823.55 L698.95,815.58 L698.95,807.61 L698.95,799.66 L698.95,791.72 L698.95,783.79 L698.95,775.87 L698.95,767.96 L698.95,760.06 L698.95,752.17 L698.95,744.29 L698.95,736.42 L698.95,728.55 L698.95,720.69 L698.95,712.84 L698.95,705.00 L698.95,697.16 L698.95,689.34 L698.95,681.51 L698.95,673.70 L698.95,665.88 L698.95,658.08 L698.95,650.28 L698.95,642.48 L698.95,634.69 L698.95,626.90 L698.95,619.12 L698.95,611.34 L698.95,603.56 L698.95,595.79 L698.95,588.02 L698.95,580.25 L698.95,572.48 L698.95,564.72 L698.95,556.96 L698.95,549.20 L698.95,541.44 L698.95,533.68 L698.95,525.92 L698.95,518.16 L698.95,510.40 L698.95,502.64 L698.95,494.87 L698.95,487.11 L698.95,479.35 L698.95,471.58 L698.95,463.81 L698.95,456.04 L698.95,448.27 L698.95,440.50 L698.95,432.72 L698.95,424.94 L698.95,417.15 L698.95,409.36 L698.95,401.57 L698.95,393.77 L698.95,385.96 L698.95,378.15 L698.95,370.34 L698.95,362.52 L698.95,354.69 L698.95,346.86 L698.95,339.01 L698.95,331.17 L698.95,323.31 L698.95,315.45 L698.95,307.58 L698.95,299.70 L698.95,291.81 L698.95,283.91 L698.95,276.01 L698.95,268.09 L698.95,260.16 L698.95,252.23 L698.95,244.28 L698.95,236.32 L698.95,228.35 L698.95,220.37 L698.95,212.38 L698.95,204.37 L698.95,196.36 L698.95,188.33 L698.95,180.28 L698.95,172.22 L698.95,164.15 L698.95,156.07 L698.95,147.97 L698.95,139.85 L698.95,131.72 L698.95,123.57 L698.95,115.41 L698.95,107.23 L698.95,99.04 L698.95,90.82 L698.95,82.59 L698.95,74.35 L698.95,66.08 L698.95,57.79 L698.95,49.49 L698.95,41.17 L698.95,32.82 L698.95,24.46 L698.95,16.08 L698.95,7.67 L698.95,-0.75 L698.95,-9.20 L698.95,-17.67 L698.95,-26.17 L698.95,-34.68 L698.95,-43.22 L698.95,-51.78 L698.95,-60.37 L698.95,-68.98 L698.95,-77.62 L698.95,-86.28 L698.95,-94.97 L698.95,-103.68 L698.95,-112.43 L698.95,-121.20 L698.95,-129.99 L698.95,-138.82 L698.95,-147.67 L698.95,-156.56 M762.45,1322.32 L763.72,1313.09 L764.98,1303.90 L766.23,1294.74 L767.46,1285.62 L768.69,1276.52 L769.90,1267.46 L771.10,1258.43 L772.29,1249.43 L773.46,1240.46 L774.63,1231.52 L775.78,1222.61 L776.93,1213.73 L778.06,1204.88 L779.18,1196.06 L780.29,1187.26 L781.39,1178.49 L782.48,1169.74 L783.56,1161.03 L784.63,1152.34 L785.69,1143.67 L786.74,1135.03 L787.77,1126.41 L788.80,1117.82 L789.82,1109.25 L790.83,1100.70 L791.84,1092.17 L792.83,1083.67 L793.81,1075.19 L794.78,1066.73 L795.75,1058.30 L796.70,1049.88 L797.65,1041.48 L798.59,1033.11 L799.52,1024.75 L800.44,1016.41 L801.35,1008.10 L802.25,999.80 L803.15,991.51 L804.03,983.25 L804.91,975.00 L805.78,966.77 L806.65,958.56 L807.50,950.36 L808.35,942.18 L809.19,934.02 L810.02,925.87 L810.85,917.73 L811.66,909.61 L812.47,901.50 L813.27,893.41 L814.07,885.33 L814.85,877.26 L815.63,869.21 L816.41,861.17 L817.17,853.14 L817.93,845.13 L818.68,837.12 L819.43,829.13 L820.17,821.14 L820.90,813.17 L821.62,805.21 L822.34,797.26 L823.05,789.31 L823.75,781.38 L824.45,773.46 L825.14,765.54 L825.83,757.63 L826.51,749.74 L827.18,741.84 L827.84,733.96 L828.50,726.08 L829.16,718.21 L829.80,710.35 L830.45,702.49 L831.08,694.64 L831.71,686.80 L832.33,678.96 L832.95,671.12 L833.56,663.29 L834.16,655.47 L834.76,647.65 L835.35,639.83 L835.94,632.02 L836.52,624.21 L837.10,616.40 L837.67,608.59 L838.23,600.79 L838.79,592.99 L839.34,585.19 L839.89,577.40 L840.43,569.60 L840.96,561.81 L841.49,554.01 L842.02,546.22 L842.54,538.42 L843.05,530.63 L843.56,522.84 L844.06,515.04 L844.56,507.24 L845.05,499.45 L845.54,491.65 L846.02,483.85 L846.49,476.04 L846.96,468.24 L847.43,460.43 L847.88,452.62 L848.34,444.80 L848.79,436.98 L849.23,429.16 L849.67,421.33 L850.10,413.50 L850.53,405.66 L850.95,397.82 L851.36,389.98 L851.77,382.12 L852.18,374.26 L852.58,366.40 L852.98,358.52 L853.37,350.65 L853.75,342.76 L854.13,334.86 L854.50,326.96 L854.87,319.05 L855.24,311.13 L855.59,303.21 L855.95,295.27 L856.29,287.32 L856.64,279.37 L856.97,271.40 L857.30,263.42 L857.63,255.44 L857.95,247.44 L858.27,239.43 L858.58,231.41 L858.88,223.37 L859.18,215.33 L859.47,207.27 L859.76,199.20 L860.05,191.11 L860.32,183.02 L860.60,174.90 L860.86,166.78 L861.12,158.63 L861.38,150.48 L861.63,142.31 L861.87,134.12 L862.11,125.92 L862.34,117.70 L862.57,109.46 L862.79,101.21 L863.01,92.93 L863.22,84.64 L863.42,76.34 L863.62,68.01 L863.81,59.67 L864.00,51.30 L864.18,42.92 L864.36,34.51 L864.53,26.09 L864.69,17.64 L864.85,9.18 L865.00,0.69 L865.14,-7.82 L865.28,-16.36 L865.41,-24.91 L865.54,-33.49 L865.66,-42.10 L865.77,-50.72 L865.88,-59.38 L865.98,-68.05 L866.07,-76.75 L866.16,-85.48 L866.24,-94.24 L866.31,-103.02 L866.38,-111.83 L866.44,-120.66 L866.49,-129.53 L866.53,-138.42 L866.57,-147.34 L866.60,-156.29 M825.11,1335.45 L827.66,1326.41 L830.18,1317.40 L832.69,1308.41 L835.16,1299.46 L837.62,1290.53 L840.05,1281.62 L842.46,1272.75 L844.85,1263.89 L847.21,1255.07 L849.56,1246.27 L851.88,1237.49 L854.18,1228.74 L856.45,1220.01 L858.71,1211.30 L860.95,1202.62 L863.16,1193.96 L865.36,1185.33 L867.53,1176.71 L869.69,1168.12 L871.82,1159.54 L873.94,1150.99 L876.04,1142.46 L878.11,1133.95 L880.17,1125.46 L882.21,1116.99 L884.23,1108.53 L886.24,1100.10 L888.22,1091.68 L890.19,1083.29 L892.14,1074.90 L894.07,1066.54 L895.99,1058.19 L897.88,1049.87 L899.77,1041.55 L901.63,1033.25 L903.48,1024.97 L905.31,1016.70 L907.12,1008.45 L908.92,1000.22 L910.70,991.99 L912.47,983.78 L914.22,975.59 L915.95,967.41 L917.67,959.24 L919.38,951.08 L921.06,942.94 L922.74,934.80 L924.40,926.68 L926.04,918.57 L927.67,910.48 L929.28,902.39 L930.88,894.31 L932.47,886.25 L934.04,878.19 L935.60,870.14 L937.14,862.11 L938.67,854.08 L940.19,846.06 L941.69,838.05 L943.18,830.05 L944.65,822.05 L946.12,814.06 L947.56,806.08 L949.00,798.11 L950.42,790.15 L951.83,782.19 L953.23,774.23 L954.61,766.28 L955.98,758.34 L957.34,750.41 L958.69,742.47 L960.02,734.55 L961.34,726.63 L962.65,718.71 L963.94,710.79 L965.23,702.88 L966.50,694.97 L967.76,687.07 L969.01,679.17 L970.24,671.27 L971.47,663.37 L972.68,655.48 L973.88,647.59 L975.07,639.69 L976.24,631.80 L977.41,623.91 L978.56,616.02 L979.70,608.14 L980.83,600.25 L981.95,592.36 L983.06,584.47 L984.16,576.58 L985.24,568.69 L986.32,560.79 L987.38,552.90 L988.43,545.00 L989.47,537.11 L990.50,529.20 L991.52,521.30 L992.53,513.39 L993.52,505.48 L994.51,497.57 L995.48,489.65 L996.45,481.73 L997.40,473.81 L998.34,465.88 L999.27,457.94 L1000.19,450.00 L1001.10,442.05 L1002.00,434.10 L1002.88,426.14 L1003.76,418.18 L1004.63,410.21 L1005.48,402.23 L1006.33,394.24 L1007.16,386.25 L1007.98,378.25 L1008.79,370.24 L1009.59,362.22 L1010.38,354.20 L1011.16,346.16 L1011.93,338.12 L1012.69,330.06 L1013.44,322.00 L1014.17,313.92 L1014.90,305.84 L1015.61,297.74 L1016.32,289.64 L1017.01,281.52 L1017.69,273.39 L1018.36,265.25 L1019.02,257.09 L1019.67,248.93 L1020.31,240.75 L1020.94,232.55 L1021.55,224.35 L1022.16,216.13 L1022.75,207.89 L1023.33,199.64 L1023.90,191.38 L1024.46,183.10 L1025.01,174.80 L1025.55,166.49 L1026.08,158.16 L1026.59,149.82 L1027.09,141.46 L1027.58,133.08 L1028.06,124.69 L1028.53,116.27 L1028.99,107.84 L1029.43,99.39 L1029.87,90.92 L1030.29,82.43 L1030.70,73.92 L1031.09,65.39 L1031.48,56.84 L1031.85,48.27 L1032.21,39.68 L1032.56,31.07 L1032.90,22.44 L1033.22,13.78 L1033.53,5.10 L1033.83,-3.60 L1034.11,-12.33 L1034.38,-21.08 L1034.64,-29.86 L1034.89,-38.65 L1035.12,-47.48 L1035.34,-56.33 L1035.55,-65.21 L1035.74,-74.11 L1035.92,-83.04 L1036.09,-91.99 L1036.24,-100.98 L1036.37,-109.99 L1036.50,-119.03 L1036.61,-128.10 L1036.70,-137.20 L1036.78,-146.33 L1036.85,-155.49 M886.03,1357.40 L889.87,1348.68 L893.67,1339.97 L897.44,1331.29 L901.18,1322.62 L904.88,1313.98 L908.55,1305.35 L912.19,1296.73 L915.80,1288.14 L919.37,1279.57 L922.91,1271.01 L926.42,1262.46 L929.90,1253.94 L933.36,1245.43 L936.78,1236.94 L940.17,1228.46 L943.53,1220.00 L946.86,1211.55 L950.16,1203.12 L953.44,1194.70 L956.68,1186.30 L959.90,1177.91 L963.09,1169.53 L966.25,1161.17 L969.39,1152.82 L972.50,1144.49 L975.58,1136.16 L978.63,1127.85 L981.66,1119.55 L984.67,1111.27 L987.64,1102.99 L990.60,1094.73 L993.52,1086.48 L996.42,1078.23 L999.30,1070.00 L1002.15,1061.78 L1004.98,1053.57 L1007.79,1045.37 L1010.57,1037.18 L1013.32,1029.00 L1016.06,1020.82 L1018.77,1012.66 L1021.45,1004.50 L1024.12,996.35 L1026.76,988.21 L1029.38,980.08 L1031.97,971.96 L1034.55,963.84 L1037.10,955.73 L1039.63,947.63 L1042.14,939.53 L1044.62,931.44 L1047.09,923.35 L1049.53,915.27 L1051.96,907.20 L1054.36,899.13 L1056.74,891.07 L1059.10,883.01 L1061.44,874.95 L1063.77,866.90 L1066.07,858.85 L1068.35,850.81 L1070.61,842.77 L1072.85,834.74 L1075.07,826.70 L1077.27,818.67 L1079.45,810.65 L1081.61,802.62 L1083.76,794.60 L1085.88,786.57 L1087.99,778.55 L1090.07,770.53 L1092.14,762.52 L1094.19,754.50 L1096.22,746.48 L1098.23,738.47 L1100.23,730.45 L1102.20,722.43 L1104.16,714.42 L1106.10,706.40 L1108.02,698.38 L1109.93,690.36 L1111.81,682.34 L1113.68,674.31 L1115.53,666.29 L1117.36,658.26 L1119.18,650.23 L1120.97,642.20 L1122.75,634.16 L1124.52,626.13 L1126.26,618.08 L1127.99,610.04 L1129.70,601.99 L1131.39,593.94 L1133.07,585.88 L1134.73,577.81 L1136.37,569.75 L1138.00,561.67 L1139.60,553.59 L1141.20,545.51 L1142.77,537.42 L1144.33,529.32 L1145.87,521.22 L1147.39,513.11 L1148.90,505.00 L1150.39,496.87 L1151.86,488.74 L1153.32,480.60 L1154.76,472.45 L1156.19,464.30 L1157.59,456.13 L1158.98,447.96 L1160.36,439.78 L1161.71,431.59 L1163.05,423.39 L1164.38,415.18 L1165.69,406.96 L1166.98,398.72 L1168.25,390.48 L1169.51,382.23 L1170.75,373.96 L1171.97,365.69 L1173.18,357.40 L1174.37,349.10 L1175.54,340.79 L1176.70,332.46 L1177.84,324.12 L1178.96,315.77 L1180.07,307.41 L1181.16,299.03 L1182.23,290.64 L1183.28,282.23 L1184.32,273.81 L1185.34,265.37 L1186.35,256.92 L1187.33,248.45 L1188.30,239.97 L1189.25,231.47 L1190.19,222.95 L1191.10,214.42 L1192.00,205.87 L1192.89,197.30 L1193.75,188.71 L1194.60,180.11 L1195.43,171.49 L1196.24,162.84 L1197.03,154.18 L1197.80,145.51 L1198.56,136.81 L1199.30,128.09 L1200.02,119.35 L1200.72,110.59 L1201.40,101.81 L1202.07,93.00 L1202.71,84.18 L1203.34,75.33 L1203.94,66.46 L1204.53,57.57 L1205.10,48.66 L1205.65,39.72 L1206.18,30.75 L1206.69,21.77 L1207.18,12.76 L1207.65,3.72 L1208.10,-5.34 L1208.53,-14.43 L1208.94,-23.54 L1209.33,-32.68 L1209.69,-41.85 L1210.04,-51.04 L1210.37,-60.26 L1210.67,-69.51 L1210.95,-78.79 L1211.22,-88.10 L1211.45,-97.43 L1211.67,-106.80 L1211.87,-116.19 L1212.04,-125.62 L1212.19,-135.08 L1212.31,-144.57 L1212.42,-154.09 M944.24,1388.22 L949.38,1379.96 L954.47,1371.72 L959.52,1363.47 L964.53,1355.24 L969.50,1347.01 L974.43,1338.79 L979.32,1330.58 L984.17,1322.37 L988.99,1314.17 L993.76,1305.98 L998.49,1297.79 L1003.19,1289.61 L1007.85,1281.43 L1012.47,1273.26 L1017.06,1265.10 L1021.60,1256.94 L1026.12,1248.78 L1030.59,1240.63 L1035.03,1232.49 L1039.44,1224.35 L1043.81,1216.21 L1048.14,1208.08 L1052.44,1199.95 L1056.71,1191.83 L1060.94,1183.71 L1065.14,1175.60 L1069.31,1167.48 L1073.44,1159.38 L1077.54,1151.27 L1081.61,1143.17 L1085.65,1135.07 L1089.65,1126.97 L1093.62,1118.88 L1097.56,1110.79 L1101.47,1102.70 L1105.35,1094.61 L1109.20,1086.53 L1113.02,1078.44 L1116.80,1070.36 L1120.56,1062.28 L1124.29,1054.20 L1127.99,1046.12 L1131.65,1038.04 L1135.29,1029.96 L1138.90,1021.89 L1142.48,1013.81 L1146.04,1005.73 L1149.56,997.66 L1153.06,989.58 L1156.52,981.50 L1159.96,973.42 L1163.38,965.34 L1166.76,957.26 L1170.12,949.18 L1173.45,941.10 L1176.75,933.01 L1180.03,924.93 L1183.28,916.84 L1186.50,908.75 L1189.70,900.66 L1192.87,892.56 L1196.01,884.47 L1199.13,876.36 L1202.22,868.26 L1205.29,860.15 L1208.33,852.04 L1211.35,843.93 L1214.34,835.81 L1217.30,827.69 L1220.24,819.56 L1223.16,811.43 L1226.05,803.30 L1228.91,795.16 L1231.75,787.01 L1234.57,778.86 L1237.36,770.70 L1240.13,762.54 L1242.87,754.37 L1245.59,746.20 L1248.29,738.02 L1250.96,729.83 L1253.60,721.64 L1256.23,713.44 L1258.82,705.23 L1261.40,697.02 L1263.95,688.80 L1266.48,680.57 L1268.98,672.33 L1271.46,664.08 L1273.92,655.83 L1276.35,647.57 L1278.76,639.29 L1281.15,631.01 L1283.52,622.72 L1285.86,614.42 L1288.17,606.12 L1290.47,597.80 L1292.74,589.47 L1294.99,581.13 L1297.21,572.78 L1299.42,564.42 L1301.59,556.05 L1303.75,547.66 L1305.88,539.27 L1307.99,530.86 L1310.08,522.44 L1312.14,514.01 L1314.18,505.57 L1316.20,497.12 L1318.20,488.65 L1320.17,480.17 L1322.12,471.67 L1324.04,463.16 L1325.95,454.64 L1327.83,446.11 L1329.68,437.56 L1331.52,428.99 L1333.33,420.41 L1335.11,411.82 L1336.88,403.21 L1338.62,394.58 L1340.33,385.94 L1342.03,377.28 L1343.70,368.61 L1345.35,359.92 L1346.97,351.21 L1348.57,342.48 L1350.14,333.74 L1351.70,324.98 L1353.22,316.20 L1354.73,307.41 L1356.21,298.59 L1357.67,289.76 L1359.10,280.91 L1360.51,272.04 L1361.89,263.15 L1363.25,254.24 L1364.58,245.30 L1365.89,236.35 L1367.18,227.38 L1368.44,218.39 L1369.67,209.37 L1370.88,200.34 L1372.07,191.28 L1373.23,182.20 L1374.36,173.10 L1375.47,163.97 L1376.55,154.83 L1377.61,145.66 L1378.64,136.46 L1379.64,127.24 L1380.62,118.00 L1381.57,108.73 L1382.49,99.44 L1383.39,90.12 L1384.26,80.78 L1385.10,71.41 L1385.92,62.01 L1386.70,52.59 L1387.46,43.14 L1388.19,33.66 L1388.90,24.16 L1389.57,14.63 L1390.21,5.07 L1390.83,-4.52 L1391.42,-14.13 L1391.97,-23.78 L1392.50,-33.46 L1393.00,-43.16 L1393.47,-52.90 L1393.90,-62.66 L1394.31,-72.46 L1394.68,-82.29 L1395.03,-92.15 L1395.34,-102.04 L1395.62,-111.97 L1395.86,-121.93 L1396.08,-131.92 L1396.26,-141.94 L1396.41,-152.00" fill="none" stroke="#000" stroke-width="2.3" stroke-dasharray="2.2 2.66"/>
</g>
<path d="M1171.6,798.8 1178.5,796.1 1182.8,795.3 1189.3,796.4 1195.6,796.1 1200.8,797.5 1211.1,797.5 1217.0,796.4 1216.9,798.8 1212.7,800.2 1207.0,803.8 1207.2,805.3 1210.3,806.7 1211.9,809.4 1213.6,807.1 1217.0,803.1 1219.2,804.2 1221.5,804.2 1224.2,803.1 1224.7,806.0 1226.5,809.0 1223.5,810.5 1219.6,811.3 1220.2,813.2 1221.9,814.0 1218.5,814.8 1215.6,816.0 1215.2,817.1 1212.4,817.9 1210.5,819.9 1209.8,822.3 1205.9,825.0 1205.8,828.6 1205.2,830.0 1204.4,829.0 1204.2,826.4 1202.3,825.9 1199.9,826.2 1199.4,827.0 1196.8,826.5 1194.0,828.2 1193.5,831.0 1193.4,833.4 1193.9,834.9 1197.3,835.3 1197.9,833.4 1200.3,833.0 1199.1,837.3 1201.9,837.5 1201.9,841.3 1203.2,842.9 1204.9,842.5 1205.9,843.3 1204.2,844.1 1202.1,843.7 1200.2,840.9 1198.9,839.5 1196.2,838.5 1194.6,837.3 1192.9,837.5 1190.3,836.1 1187.5,834.2 1187.9,831.8 1185.9,829.8 1184.3,826.6 1183.5,825.0 1183.9,827.0 1184.4,830.2 1184.8,831.8 1183.6,830.6 1182.9,828.2 1182.7,826.2 1182.1,824.2 1180.3,822.7 1180.1,820.3 1180.2,817.9 1182.7,813.6 1183.5,811.8 1183.1,810.2 1183.4,807.5 1183.6,805.3 1182.4,804.2 1181.2,803.1 1178.6,802.3 1175.8,803.4 1171.9,804.9 1168.9,805.6 1164.7,806.7 1170.5,804.2 1169.3,803.2 1170.0,801.3 1172.9,799.8 1171.2,799.1Z M1227.2,791.1 1234.7,789.0 1243.6,788.3 1251.6,788.8 1251.8,791.7 1250.2,794.8 1248.9,796.1 1243.5,797.5 1238.7,799.5 1236.0,803.1 1233.4,802.3 1232.2,799.8 1232.2,797.5 1232.7,795.5 1232.7,792.9 1229.2,792.0Z M1215.3,795.5 1217.2,796.1 1219.5,796.4 1219.4,798.1 1220.9,799.2 1224.2,800.9 1227.6,798.5 1225.4,796.8 1224.5,795.1 1222.5,793.9 1217.7,793.9Z M1198.6,794.9 1200.8,795.1 1203.7,793.9 1202.9,793.3 1201.0,793.3Z M1200.6,796.1 1206.5,796.9 1208.9,796.4 1209.8,794.5 1206.8,794.2 1204.1,794.4 1202.1,794.8Z M1218.6,792.0 1223.0,792.2 1226.6,790.8 1232.4,789.3 1234.1,788.8 1226.9,788.6 1220.6,789.5 1221.5,790.5Z M1216.6,792.9 1221.1,793.2 1223.1,792.1 1218.6,792.0Z M1205.8,792.9 1210.9,792.6 1214.5,792.3 1213.0,791.7 1207.5,792.0Z M1211.0,794.8 1213.9,794.8 1216.1,793.5 1213.2,793.5Z M1205.9,843.3 1207.0,842.5 1207.8,841.3 1209.9,840.3 1210.2,841.7 1211.3,840.3 1213.3,841.6 1216.8,841.6 1217.8,843.3 1220.2,845.2 1223.0,845.6 1224.3,846.8 1225.0,848.8 1225.7,850.4 1229.2,852.0 1232.0,852.4 1235.5,854.4 1235.6,857.1 1233.3,860.3 1233.1,863.9 1232.2,866.6 1231.3,868.2 1228.6,869.0 1227.1,870.6 1227.0,873.0 1225.3,875.4 1224.3,877.3 1222.4,877.7 1222.7,879.3 1222.3,880.5 1219.8,880.9 1218.3,882.5 1219.3,883.6 1218.6,885.6 1218.1,886.8 1219.4,887.9 1218.4,890.2 1219.2,891.4 1218.2,892.5 1215.7,891.0 1213.5,887.9 1213.3,884.8 1212.8,882.5 1211.9,879.3 1212.1,876.2 1211.8,873.0 1212.0,869.8 1211.8,864.7 1210.3,863.5 1207.3,861.1 1205.6,857.9 1204.1,855.5 1203.4,854.0 1204.0,851.6 1203.6,850.0 1205.1,848.4 1205.8,846.8 1205.9,844.5 1205.6,843.3Z M1253.8,820.7 1254.3,816.0 1258.7,815.6 1259.1,813.6 1257.2,811.7 1260.9,810.5 1262.4,809.4 1264.7,807.9 1264.9,805.3 1266.0,804.9 1267.0,806.7 1268.2,807.5 1271.1,807.1 1272.1,805.3 1273.7,804.9 1273.5,803.4 1276.8,803.1 1272.2,802.7 1271.7,800.9 1273.2,799.2 1271.2,799.5 1269.4,802.0 1270.3,803.1 1269.2,805.6 1267.6,806.4 1266.8,804.5 1265.9,803.4 1263.1,804.2 1262.7,801.6 1265.4,800.2 1267.7,797.5 1270.1,796.1 1273.9,795.5 1276.7,796.4 1280.7,797.8 1281.6,798.8 1278.1,799.5 1279.9,800.2 1283.1,798.8 1282.5,797.1 1287.1,797.1 1289.7,797.1 1294.6,796.8 1293.1,795.1 1295.6,794.5 1298.6,797.5 1298.2,794.8 1299.4,793.9 1302.1,792.6 1307.1,791.4 1314.3,793.9 1318.1,794.2 1324.6,795.5 1328.2,794.5 1334.0,795.1 1340.5,796.1 1345.5,796.1 1351.6,796.8 1355.7,799.5 1355.1,799.8 1355.9,801.6 1355.0,803.1 1351.5,803.4 1353.5,805.6 1354.1,809.8 1349.3,805.3 1348.6,802.3 1345.8,803.8 1340.3,803.4 1341.3,807.5 1344.4,809.0 1346.5,811.7 1345.4,815.6 1342.7,816.4 1344.4,820.7 1343.5,822.3 1342.2,820.3 1340.3,818.3 1337.8,817.9 1339.8,820.7 1338.5,822.3 1340.7,824.6 1342.0,826.2 1341.4,830.2 1338.0,832.3 1335.5,833.4 1334.1,833.0 1333.0,834.9 1335.8,840.5 1333.2,843.1 1331.7,841.7 1329.8,839.3 1329.3,842.1 1332.4,848.8 1329.9,847.2 1328.4,843.7 1328.4,839.7 1327.4,836.9 1325.3,836.5 1323.1,833.0 1321.7,832.6 1319.7,833.0 1315.4,837.7 1315.7,842.1 1314.1,843.7 1310.9,837.3 1309.8,833.4 1306.8,831.8 1305.2,829.8 1301.9,830.0 1298.7,829.6 1297.9,828.6 1294.5,828.2 1292.3,826.2 1293.9,829.0 1295.1,830.2 1298.0,829.4 1298.6,831.0 1300.7,832.2 1298.0,836.5 1296.0,836.9 1291.3,839.7 1289.9,839.7 1286.7,833.0 1283.6,827.8 1283.2,826.6 1281.8,825.4 1283.3,824.2 1283.6,820.8 1279.7,821.2 1277.7,820.7 1277.1,818.3 1278.6,817.5 1282.3,816.7 1286.3,817.5 1286.5,816.7 1283.9,814.8 1282.5,814.0 1280.8,814.8 1278.7,813.6 1277.7,815.2 1277.9,817.1 1275.4,817.9 1274.9,818.7 1274.7,821.1 1273.6,819.5 1272.6,818.3 1272.4,816.7 1268.4,814.0 1267.9,814.8 1270.2,817.1 1271.9,818.3 1270.4,819.9 1270.0,818.3 1267.7,816.7 1266.6,815.6 1265.0,815.2 1263.8,816.0 1261.9,815.8 1261.9,816.8 1260.0,819.1 1259.7,820.3 1258.7,820.9 1256.4,821.5Z M1256.4,821.6 1253.7,823.8 1253.3,827.0 1251.2,828.2 1248.3,833.0 1247.9,838.5 1248.5,840.5 1250.9,843.3 1252.3,844.6 1254.8,846.6 1258.6,846.2 1261.0,845.1 1263.1,845.0 1264.9,846.5 1266.6,847.0 1266.8,849.2 1266.3,850.8 1268.4,854.0 1269.4,859.1 1268.3,863.9 1270.2,871.4 1271.8,873.4 1272.2,877.2 1273.2,877.6 1277.2,876.8 1280.4,874.6 1281.9,872.6 1282.4,870.2 1284.2,869.0 1284.0,866.2 1287.7,862.7 1288.2,858.7 1287.6,854.0 1288.7,851.6 1292.2,848.4 1295.5,841.7 1295.7,840.5 1290.6,841.7 1290.1,840.6 1287.4,837.7 1285.4,834.2 1284.2,831.0 1282.3,827.7 1281.8,826.2 1281.1,825.0 1279.4,825.4 1276.7,824.6 1273.4,825.6 1273.0,824.2 1270.0,824.4 1267.3,823.5 1266.5,820.7 1265.2,820.7 1262.0,820.8 1259.3,822.0Z M1294.4,859.5 1295.0,862.3 1292.0,869.8 1290.0,869.4 1289.9,866.6 1290.8,862.7 1292.6,861.1Z M1257.0,810.5 1260.9,809.8 1261.1,808.4 1260.0,807.9 1258.8,806.0 1259.0,804.8 1258.3,804.1 1257.2,804.1 1256.5,805.6 1257.1,806.7 1258.2,807.1 1257.3,808.0 1257.0,809.2 1258.2,809.5Z M1256.4,809.0 1256.5,807.1 1255.6,806.6 1254.1,807.5 1254.0,809.3Z M1247.3,799.2 1248.5,798.5 1252.2,798.5 1252.8,799.5 1250.3,800.6 1248.2,800.3Z M1347.1,825.4 1347.1,823.1 1349.3,822.7 1352.4,822.3 1351.9,819.5 1350.8,817.5 1350.3,818.3 1351.0,820.3 1349.5,821.9 1346.9,821.9 1346.3,823.5Z M1349.6,817.1 1352.2,815.7 1348.8,814.0 1349.0,816.4Z M1315.9,845.2 1317.2,844.1 1315.8,842.2 1315.7,843.7Z M1342.5,832.6 1343.1,830.2 1342.0,831.4Z M1343.0,837.3 1344.1,835.3 1344.6,838.9 1346.2,840.1 1344.0,839.1Z M1345.2,844.5 1348.0,844.8 1347.8,842.5 1346.1,843.3Z M1326.7,845.6 1328.5,846.8 1332.8,851.6 1334.1,854.8 1331.3,853.2 1329.3,850.0 1326.4,847.6Z M1336.3,848.4 1337.7,848.8 1341.0,844.6 1343.2,846.0 1342.6,849.2 1341.1,853.2 1336.9,852.4 1336.3,850.8Z M1333.7,854.8 1339.9,855.9 1339.5,856.7 1334.0,855.5Z M1343.2,854.4 1344.0,849.2 1347.5,848.8 1344.7,850.8 1346.0,854.4Z M1351.7,850.8 1354.4,852.8 1358.6,852.0 1363.4,854.8 1364.8,858.3 1362.4,857.9 1359.7,857.1 1358.3,857.1 1356.3,856.3 1355.8,854.0 1352.3,853.2Z M1338.1,867.4 1337.1,870.6 1336.2,876.9 1337.9,877.7 1341.8,876.9 1346.2,875.1 1349.2,875.8 1349.6,877.7 1351.4,876.9 1351.0,879.7 1352.8,880.7 1354.9,880.9 1357.9,879.7 1363.7,872.2 1364.2,869.8 1360.5,865.1 1360.7,861.9 1359.2,858.5 1358.3,860.3 1357.8,863.5 1356.6,864.0 1354.3,861.9 1354.9,859.5 1351.9,859.0 1349.7,861.9 1347.4,861.1 1344.2,863.9 1343.3,865.5 1340.3,866.4Z M1353.1,882.3 1355.1,882.5 1353.8,884.2 1352.4,884.4Z M1374.4,877.3 1376.4,879.9 1374.3,881.3 1372.0,882.7 1372.8,880.9 1374.1,879.3Z M1371.1,882.1 1371.4,883.0 1369.5,884.4 1366.9,886.0 1365.0,886.8 1363.8,886.4 1366.3,884.8 1369.1,883.3Z M1192.9,913.9 1186.7,911.9 1183.6,908.9 1187.8,908.3 1190.4,907.7 1194.0,907.1 1200.3,906.5 1207.8,906.8 1211.9,906.1 1216.2,905.5 1222.2,905.8 1223.8,903.9 1224.8,901.2 1227.6,899.4 1229.2,899.4 1227.6,901.5 1228.8,903.9 1231.5,906.8 1237.5,908.9 1244.3,908.9 1247.0,907.7 1252.6,905.2 1260.0,903.9 1267.5,903.9 1275.2,903.6 1280.4,903.2 1288.8,901.5 1296.2,902.2 1297.9,903.6 1304.5,901.5 1312.6,901.2 1319.8,901.9 1328.0,901.5 1335.4,901.9 1340.5,903.9 1343.9,904.9 1337.8,907.1 1334.2,908.9 1340.9,908.9 1327.1,913.9Z M1201.8,832.7 1203.9,831.7 1207.3,832.6 1209.0,834.0 1206.7,834.2 1205.1,833.0Z M1208.7,835.3 1210.5,834.2 1212.8,835.2 1211.7,835.6 1210.3,835.7Z M1223.3,812.4 1226.4,809.4 1227.6,811.3 1227.1,813.1 1225.4,812.4Z M1264.9,790.8 1267.4,790.0 1271.7,790.0 1270.0,791.4 1266.9,791.7Z M1285.7,795.1 1287.1,792.6 1291.2,791.8 1287.1,794.2 1286.9,795.6Z M1348.5,813.6 1347.2,810.5 1343.8,807.3 1345.6,809.8Z" fill="#808080" stroke="#000" stroke-width="0.7" stroke-linejoin="round"/>
<path d="M1289.5,814.4 1292.8,812.8 1294.1,815.2 1294.2,818.3 1295.3,820.7 1292.7,820.7 1291.6,818.3 1289.8,816.0Z" fill="#fff" stroke="#000" stroke-width="0.4"/>
<path d="M1219.5,853.4 1235.2,850.6 1237.3,859.3 1221.3,862.2Z M1223.0,869.5 1239.6,866.5 1245.8,880.5 1227.0,884.2Z" fill="#f00" stroke="#f00" stroke-width="0.5"/>
<path d="M1327.1,913.9 1332.1,912.4 1338.3,910.0 1344.8,907.1 1350.5,903.9 1355.7,900.5 1360.6,896.9 1365.2,893.3 1369.4,889.5 1372.9,885.6 1376.1,881.7 1378.8,877.7 1381.0,873.8 1382.6,869.8 1383.8,865.8 1384.7,861.9 1385.4,857.9 1385.8,854.0 1386.0,850.0 1385.8,846.0 1385.4,842.1 1384.7,838.1 1383.8,834.2 1382.6,830.2 1381.0,826.2 1378.8,822.3 1376.1,818.3 1372.9,814.4 1369.4,810.5 1365.2,806.7 1360.6,803.1 1355.7,799.5 1350.5,796.1 1344.8,792.9 1338.3,790.0 1332.1,787.6 1327.1,786.1 1192.9,786.1 1187.9,787.6 1181.7,790.0 1175.2,792.9 1169.5,796.1 1164.3,799.5 1159.4,803.1 1154.8,806.7 1150.6,810.5 1147.1,814.4 1143.9,818.3 1141.2,822.3 1139.0,826.2 1137.4,830.2 1136.2,834.2 1135.3,838.1 1134.6,842.1 1134.2,846.0 1134.0,850.0 1134.2,854.0 1134.6,857.9 1135.3,861.9 1136.2,865.8 1137.4,869.8 1139.0,873.8 1141.2,877.7 1143.9,881.7 1147.1,885.6 1150.6,889.5 1154.8,893.3 1159.4,896.9 1164.3,900.5 1169.5,903.9 1175.2,907.1 1181.7,910.0 1187.9,912.4 1192.9,913.9 Z" fill="none" stroke="#a0a0a0" stroke-width="0.6"/>
<rect x="280" y="105" width="839" height="840" fill="none" stroke="#000" stroke-width="2"/>
<defs><linearGradient id="cbg" x1="0" y1="0" x2="0" y2="1"><stop offset="0.00000" stop-color="#860000"/><stop offset="0.01136" stop-color="#860000"/><stop offset="0.01136" stop-color="#930000"/><stop offset="0.02273" stop-color="#930000"/><stop offset="0.02273" stop-color="#a00000"/><stop offset="0.03409" stop-color="#a00000"/><stop offset="0.03409" stop-color="#ae0000"/><stop offset="0.04545" stop-color="#ae0000"/><stop offset="0.04545" stop-color="#bb0000"/><stop offset="0.05682" stop-color="#bb0000"/><stop offset="0.05682" stop-color="#c80000"/><stop offset="0.06818" stop-color="#c80000"/><stop offset="0.06818" stop-color="#d50000"/><stop offset="0.07955" stop-color="#d50000"/><stop offset="0.07955" stop-color="#e20000"/><stop offset="0.09091" stop-color="#e20000"/><stop offset="0.09091" stop-color="#ef0600"/><stop offset="0.10227" stop-color="#ef0600"/><stop offset="0.10227" stop-color="#fd1100"/><stop offset="0.11364" stop-color="#fd1100"/><stop offset="0.11364" stop-color="#ff1c00"/><stop offset="0.12500" stop-color="#ff1c00"/><stop offset="0.12500" stop-color="#ff2600"/><stop offset="0.13636" stop-color="#ff2600"/><stop offset="0.13636" stop-color="#ff3100"/><stop offset="0.14773" stop-color="#ff3100"/><stop offset="0.14773" stop-color="#ff3c00"/><stop offset="0.15909" stop-color="#ff3c00"/><stop offset="0.15909" stop-color="#ff4700"/><stop offset="0.17045" stop-color="#ff4700"/><stop offset="0.17045" stop-color="#ff5100"/><stop offset="0.18182" stop-color="#ff5100"/><stop offset="0.18182" stop-color="#ff5c00"/><stop offset="0.19318" stop-color="#ff5c00"/><stop offset="0.19318" stop-color="#ff6700"/><stop offset="0.20455" stop-color="#ff6700"/><stop offset="0.20455" stop-color="#ff7200"/><stop offset="0.21591" stop-color="#ff7200"/><stop offset="0.21591" stop-color="#ff7c00"/><stop offset="0.22727" stop-color="#ff7c00"/><stop offset="0.22727" stop-color="#ff8700"/><stop offset="0.23864" stop-color="#ff8700"/><stop offset="0.23864" stop-color="#ff9200"/><stop offset="0.25000" stop-color="#ff9200"/><stop offset="0.25000" stop-color="#ff9c00"/><stop offset="0.26136" stop-color="#ff9c00"/><stop offset="0.26136" stop-color="#ffa700"/><stop offset="0.27273" stop-color="#ffa700"/><stop offset="0.27273" stop-color="#ffb200"/><stop offset="0.28409" stop-color="#ffb200"/><stop offset="0.28409" stop-color="#ffbd00"/><stop offset="0.29545" stop-color="#ffbd00"/><stop offset="0.29545" stop-color="#ffc700"/><stop offset="0.30682" stop-color="#ffc700"/><stop offset="0.30682" stop-color="#ffd200"/><stop offset="0.31818" stop-color="#ffd200"/><stop offset="0.31818" stop-color="#ffdd00"/><stop offset="0.32955" stop-color="#ffdd00"/><stop offset="0.32955" stop-color="#ffe800"/><stop offset="0.34091" stop-color="#ffe800"/><stop offset="0.34091" stop-color="#faf200"/><stop offset="0.35227" stop-color="#faf200"/><stop offset="0.35227" stop-color="#f0fd07"/><stop offset="0.36364" stop-color="#f0fd07"/><stop offset="0.36364" stop-color="#e7ff10"/><stop offset="0.37500" stop-color="#e7ff10"/><stop offset="0.37500" stop-color="#deff19"/><stop offset="0.38636" stop-color="#deff19"/><stop offset="0.38636" stop-color="#d4ff23"/><stop offset="0.39773" stop-color="#d4ff23"/><stop offset="0.39773" stop-color="#cbff2c"/><stop offset="0.40909" stop-color="#cbff2c"/><stop offset="0.40909" stop-color="#c1ff35"/><stop offset="0.42045" stop-color="#c1ff35"/><stop offset="0.42045" stop-color="#b8ff3f"/><stop offset="0.43182" stop-color="#b8ff3f"/><stop offset="0.43182" stop-color="#afff48"/><stop offset="0.44318" stop-color="#afff48"/><stop offset="0.44318" stop-color="#a5ff51"/><stop offset="0.45455" stop-color="#a5ff51"/><stop offset="0.45455" stop-color="#9cff5b"/><stop offset="0.46591" stop-color="#9cff5b"/><stop offset="0.46591" stop-color="#93ff64"/><stop offset="0.47727" stop-color="#93ff64"/><stop offset="0.47727" stop-color="#89ff6d"/><stop offset="0.48864" stop-color="#89ff6d"/><stop offset="0.48864" stop-color="#80ff77"/><stop offset="0.50000" stop-color="#80ff77"/><stop offset="0.50000" stop-color="#77ff80"/><stop offset="0.51136" stop-color="#77ff80"/><stop offset="0.51136" stop-color="#6dff89"/><stop offset="0.52273" stop-color="#6dff89"/><stop offset="0.52273" stop-color="#64ff93"/><stop offset="0.53409" stop-color="#64ff93"/><stop offset="0.53409" stop-color="#5bff9c"/><stop offset="0.54545" stop-color="#5bff9c"/><stop offset="0.54545" stop-color="#51ffa5"/><stop offset="0.55682" stop-color="#51ffa5"/><stop offset="0.55682" stop-color="#48ffaf"/><stop offset="0.56818" stop-color="#48ffaf"/><stop offset="0.56818" stop-color="#3fffb8"/><stop offset="0.57955" stop-color="#3fffb8"/><stop offset="0.57955" stop-color="#35ffc1"/><stop offset="0.59091" stop-color="#35ffc1"/><stop offset="0.59091" stop-color="#2cffcb"/><stop offset="0.60227" stop-color="#2cffcb"/><stop offset="0.60227" stop-color="#23ffd4"/><stop offset="0.61364" stop-color="#23ffd4"/><stop offset="0.61364" stop-color="#19ffde"/><stop offset="0.62500" stop-color="#19ffde"/><stop offset="0.62500" stop-color="#10f9e7"/><stop offset="0.63636" stop-color="#10f9e7"/><stop offset="0.63636" stop-color="#07eef0"/><stop offset="0.64773" stop-color="#07eef0"/><stop offset="0.64773" stop-color="#00e2fa"/><stop offset="0.65909" stop-color="#00e2fa"/><stop offset="0.65909" stop-color="#00d6ff"/><stop offset="0.67045" stop-color="#00d6ff"/><stop offset="0.67045" stop-color="#00cbff"/><stop offset="0.68182" stop-color="#00cbff"/><stop offset="0.68182" stop-color="#00bfff"/><stop offset="0.69318" stop-color="#00bfff"/><stop offset="0.69318" stop-color="#00b4ff"/><stop offset="0.70455" stop-color="#00b4ff"/><stop offset="0.70455" stop-color="#00a8ff"/><stop offset="0.71591" stop-color="#00a8ff"/><stop offset="0.71591" stop-color="#009cff"/><stop offset="0.72727" stop-color="#009cff"/><stop offset="0.72727" stop-color="#0091ff"/><stop offset="0.73864" stop-color="#0091ff"/><stop offset="0.73864" stop-color="#0085ff"/><stop offset="0.75000" stop-color="#0085ff"/><stop offset="0.75000" stop-color="#007aff"/><stop offset="0.76136" stop-color="#007aff"/><stop offset="0.76136" stop-color="#006eff"/><stop offset="0.77273" stop-color="#006eff"/><stop offset="0.77273" stop-color="#0063ff"/><stop offset="0.78409" stop-color="#0063ff"/><stop offset="0.78409" stop-color="#0057ff"/><stop offset="0.79545" stop-color="#0057ff"/><stop offset="0.79545" stop-color="#004bff"/><stop offset="0.80682" stop-color="#004bff"/><stop offset="0.80682" stop-color="#0040ff"/><stop offset="0.81818" stop-color="#0040ff"/><stop offset="0.81818" stop-color="#0034ff"/><stop offset="0.82955" stop-color="#0034ff"/><stop offset="0.82955" stop-color="#0029ff"/><stop offset="0.84091" stop-color="#0029ff"/><stop offset="0.84091" stop-color="#001dff"/><stop offset="0.85227" stop-color="#001dff"/><stop offset="0.85227" stop-color="#0011ff"/><stop offset="0.86364" stop-color="#0011ff"/><stop offset="0.86364" stop-color="#0006ff"/><stop offset="0.87500" stop-color="#0006ff"/><stop offset="0.87500" stop-color="#0000ff"/><stop offset="0.88636" stop-color="#0000ff"/><stop offset="0.88636" stop-color="#0000fd"/><stop offset="0.89773" stop-color="#0000fd"/><stop offset="0.89773" stop-color="#0000ef"/><stop offset="0.90909" stop-color="#0000ef"/><stop offset="0.90909" stop-color="#0000e2"/><stop offset="0.92045" stop-color="#0000e2"/><stop offset="0.92045" stop-color="#0000d5"/><stop offset="0.93182" stop-color="#0000d5"/><stop offset="0.93182" stop-color="#0000c8"/><stop offset="0.94318" stop-color="#0000c8"/><stop offset="0.94318" stop-color="#0000bb"/><stop offset="0.95455" stop-color="#0000bb"/><stop offset="0.95455" stop-color="#0000ae"/><stop offset="0.96591" stop-color="#0000ae"/><stop offset="0.96591" stop-color="#0000a0"/><stop offset="0.97727" stop-color="#0000a0"/><stop offset="0.97727" stop-color="#000093"/><stop offset="0.98864" stop-color="#000093"/><stop offset="0.98864" stop-color="#000086"/><stop offset="1.00000" stop-color="#000086"/></linearGradient></defs>
<rect x="1134" y="105" width="42" height="629.5" fill="url(#cbg)"/>
<rect x="1134" y="105" width="42" height="629.5" fill="none" stroke="#000" stroke-width="2"/>
<text x="1184.6" y="742.70" font-size="24" textLength="74" lengthAdjust="spacingAndGlyphs">222.00</text>
<line x1="1166" y1="670.12" x2="1176" y2="670.12" stroke="#000" stroke-width="1"/>
<text x="1184.6" y="678.32" font-size="24" textLength="74" lengthAdjust="spacingAndGlyphs">224.25</text>
<line x1="1166" y1="605.74" x2="1176" y2="605.74" stroke="#000" stroke-width="1"/>
<text x="1184.6" y="613.94" font-size="24" textLength="74" lengthAdjust="spacingAndGlyphs">226.50</text>
<line x1="1166" y1="541.36" x2="1176" y2="541.36" stroke="#000" stroke-width="1"/>
<text x="1184.6" y="549.56" font-size="24" textLength="74" lengthAdjust="spacingAndGlyphs">228.75</text>
<line x1="1166" y1="476.98" x2="1176" y2="476.98" stroke="#000" stroke-width="1"/>
<text x="1184.6" y="485.18" font-size="24" textLength="74" lengthAdjust="spacingAndGlyphs">231.00</text>
<line x1="1166" y1="412.60" x2="1176" y2="412.60" stroke="#000" stroke-width="1"/>
<text x="1184.6" y="420.80" font-size="24" textLength="74" lengthAdjust="spacingAndGlyphs">233.25</text>
<line x1="1166" y1="348.22" x2="1176" y2="348.22" stroke="#000" stroke-width="1"/>
<text x="1184.6" y="356.42" font-size="24" textLength="74" lengthAdjust="spacingAndGlyphs">235.50</text>
<line x1="1166" y1="283.84" x2="1176" y2="283.84" stroke="#000" stroke-width="1"/>
<text x="1184.6" y="292.04" font-size="24" textLength="74" lengthAdjust="spacingAndGlyphs">237.75</text>
<line x1="1166" y1="219.45" x2="1176" y2="219.45" stroke="#000" stroke-width="1"/>
<text x="1184.6" y="227.65" font-size="24" textLength="74" lengthAdjust="spacingAndGlyphs">240.00</text>
<line x1="1166" y1="155.07" x2="1176" y2="155.07" stroke="#000" stroke-width="1"/>
<text x="1184.6" y="163.27" font-size="24" textLength="74" lengthAdjust="spacingAndGlyphs">242.25</text>
<text transform="translate(1285,419.5) rotate(-90)" text-anchor="middle" font-size="23.3" textLength="222" lengthAdjust="spacingAndGlyphs">Brightness Temp (K)</text>
<text x="700" y="68" text-anchor="middle" font-size="23.3" textLength="415" lengthAdjust="spacingAndGlyphs">NPP ATMS Brightness Temp Channel 7</text>
<text x="700" y="91.5" text-anchor="middle" font-size="23.3" textLength="318.5" lengthAdjust="spacingAndGlyphs">20171222.1622133-1633249</text>
<text x="271.5" y="207" text-anchor="end" font-size="23.3" textLength="21.5" lengthAdjust="spacingAndGlyphs">0°</text>
<text x="271.5" y="457" text-anchor="end" font-size="23.3" textLength="50" lengthAdjust="spacingAndGlyphs">15°S</text>
<text x="271.5" y="707" text-anchor="end" font-size="23.3" textLength="50" lengthAdjust="spacingAndGlyphs">30°S</text>
<text x="355.4" y="969.3" text-anchor="middle" font-size="23.3" textLength="57.5" lengthAdjust="spacingAndGlyphs">70°W</text>
<text x="475.6" y="969.3" text-anchor="middle" font-size="23.3" textLength="57.5" lengthAdjust="spacingAndGlyphs">60°W</text>
<text x="588" y="969.3" text-anchor="middle" font-size="23.3" textLength="57.5" lengthAdjust="spacingAndGlyphs">50°W</text>
<text x="699" y="969.3" text-anchor="middle" font-size="23.3" textLength="57.5" lengthAdjust="spacingAndGlyphs">40°W</text>
<text x="810" y="969.3" text-anchor="middle" font-size="23.3" textLength="57.5" lengthAdjust="spacingAndGlyphs">30°W</text>
<text x="921.8" y="969.3" text-anchor="middle" font-size="23.3" textLength="57.5" lengthAdjust="spacingAndGlyphs">20°W</text>
<text x="1042" y="969.3" text-anchor="middle" font-size="23.3" textLength="57.5" lengthAdjust="spacingAndGlyphs">10°W</text>
</svg></body></html>
